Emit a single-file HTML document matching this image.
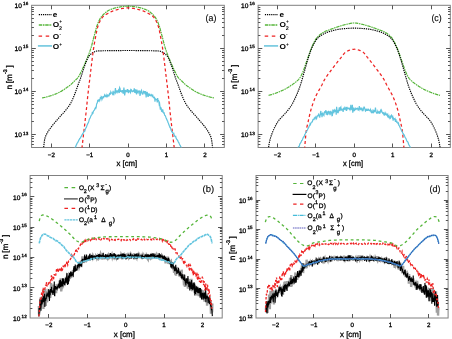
<!DOCTYPE html>
<html><head><meta charset="utf-8"><style>
html,body{margin:0;padding:0;background:#fff;width:452px;height:339px;overflow:hidden}
svg{display:block;will-change:transform}
text{-webkit-font-smoothing:antialiased;text-rendering:geometricPrecision}
</style></head><body>
<svg width="452" height="339" viewBox="0 0 452 339">
<rect width="452" height="339" fill="#fff"/>
<defs>
<clipPath id="ca"><rect x="31.6" y="5.3" width="192.70000000000002" height="142.2"/></clipPath>
<clipPath id="cc"><rect x="258.1" y="5.3" width="192.2" height="142.2"/></clipPath>
<clipPath id="cb"><rect x="30.1" y="175.5" width="192.1" height="142.5"/></clipPath>
<clipPath id="cd"><rect x="256.0" y="175.5" width="192.10000000000002" height="142.5"/></clipPath>
</defs>
<rect x="31.6" y="5.3" width="192.70" height="142.20" fill="none" stroke="#808080" stroke-width="1"/>
<line x1="51.50" y1="147.5" x2="51.50" y2="143.5" stroke="#555" stroke-width="1"/>
<line x1="51.50" y1="5.3" x2="51.50" y2="9.3" stroke="#555" stroke-width="1"/>
<line x1="89.50" y1="147.5" x2="89.50" y2="143.5" stroke="#555" stroke-width="1"/>
<line x1="89.50" y1="5.3" x2="89.50" y2="9.3" stroke="#555" stroke-width="1"/>
<line x1="128.50" y1="147.5" x2="128.50" y2="143.5" stroke="#555" stroke-width="1"/>
<line x1="128.50" y1="5.3" x2="128.50" y2="9.3" stroke="#555" stroke-width="1"/>
<line x1="166.50" y1="147.5" x2="166.50" y2="143.5" stroke="#555" stroke-width="1"/>
<line x1="166.50" y1="5.3" x2="166.50" y2="9.3" stroke="#555" stroke-width="1"/>
<line x1="204.50" y1="147.5" x2="204.50" y2="143.5" stroke="#555" stroke-width="1"/>
<line x1="204.50" y1="5.3" x2="204.50" y2="9.3" stroke="#555" stroke-width="1"/>
<line x1="31.6" y1="144.50" x2="33.9" y2="144.50" stroke="#555" stroke-width="1"/>
<line x1="224.3" y1="144.50" x2="222.0" y2="144.50" stroke="#555" stroke-width="1"/>
<line x1="31.6" y1="141.50" x2="33.9" y2="141.50" stroke="#555" stroke-width="1"/>
<line x1="224.3" y1="141.50" x2="222.0" y2="141.50" stroke="#555" stroke-width="1"/>
<line x1="31.6" y1="138.50" x2="33.9" y2="138.50" stroke="#555" stroke-width="1"/>
<line x1="224.3" y1="138.50" x2="222.0" y2="138.50" stroke="#555" stroke-width="1"/>
<line x1="31.6" y1="136.50" x2="33.9" y2="136.50" stroke="#555" stroke-width="1"/>
<line x1="224.3" y1="136.50" x2="222.0" y2="136.50" stroke="#555" stroke-width="1"/>
<line x1="31.6" y1="134.50" x2="35.800000000000004" y2="134.50" stroke="#555" stroke-width="1"/>
<line x1="224.3" y1="134.50" x2="220.10000000000002" y2="134.50" stroke="#555" stroke-width="1"/>
<line x1="31.6" y1="121.50" x2="33.9" y2="121.50" stroke="#555" stroke-width="1"/>
<line x1="224.3" y1="121.50" x2="222.0" y2="121.50" stroke="#555" stroke-width="1"/>
<line x1="31.6" y1="113.50" x2="33.9" y2="113.50" stroke="#555" stroke-width="1"/>
<line x1="224.3" y1="113.50" x2="222.0" y2="113.50" stroke="#555" stroke-width="1"/>
<line x1="31.6" y1="108.50" x2="33.9" y2="108.50" stroke="#555" stroke-width="1"/>
<line x1="224.3" y1="108.50" x2="222.0" y2="108.50" stroke="#555" stroke-width="1"/>
<line x1="31.6" y1="104.50" x2="33.9" y2="104.50" stroke="#555" stroke-width="1"/>
<line x1="224.3" y1="104.50" x2="222.0" y2="104.50" stroke="#555" stroke-width="1"/>
<line x1="31.6" y1="101.50" x2="33.9" y2="101.50" stroke="#555" stroke-width="1"/>
<line x1="224.3" y1="101.50" x2="222.0" y2="101.50" stroke="#555" stroke-width="1"/>
<line x1="31.6" y1="98.50" x2="33.9" y2="98.50" stroke="#555" stroke-width="1"/>
<line x1="224.3" y1="98.50" x2="222.0" y2="98.50" stroke="#555" stroke-width="1"/>
<line x1="31.6" y1="95.50" x2="33.9" y2="95.50" stroke="#555" stroke-width="1"/>
<line x1="224.3" y1="95.50" x2="222.0" y2="95.50" stroke="#555" stroke-width="1"/>
<line x1="31.6" y1="93.50" x2="33.9" y2="93.50" stroke="#555" stroke-width="1"/>
<line x1="224.3" y1="93.50" x2="222.0" y2="93.50" stroke="#555" stroke-width="1"/>
<line x1="31.6" y1="91.50" x2="35.800000000000004" y2="91.50" stroke="#555" stroke-width="1"/>
<line x1="224.3" y1="91.50" x2="220.10000000000002" y2="91.50" stroke="#555" stroke-width="1"/>
<line x1="31.6" y1="78.50" x2="33.9" y2="78.50" stroke="#555" stroke-width="1"/>
<line x1="224.3" y1="78.50" x2="222.0" y2="78.50" stroke="#555" stroke-width="1"/>
<line x1="31.6" y1="70.50" x2="33.9" y2="70.50" stroke="#555" stroke-width="1"/>
<line x1="224.3" y1="70.50" x2="222.0" y2="70.50" stroke="#555" stroke-width="1"/>
<line x1="31.6" y1="65.50" x2="33.9" y2="65.50" stroke="#555" stroke-width="1"/>
<line x1="224.3" y1="65.50" x2="222.0" y2="65.50" stroke="#555" stroke-width="1"/>
<line x1="31.6" y1="61.50" x2="33.9" y2="61.50" stroke="#555" stroke-width="1"/>
<line x1="224.3" y1="61.50" x2="222.0" y2="61.50" stroke="#555" stroke-width="1"/>
<line x1="31.6" y1="57.50" x2="33.9" y2="57.50" stroke="#555" stroke-width="1"/>
<line x1="224.3" y1="57.50" x2="222.0" y2="57.50" stroke="#555" stroke-width="1"/>
<line x1="31.6" y1="55.50" x2="33.9" y2="55.50" stroke="#555" stroke-width="1"/>
<line x1="224.3" y1="55.50" x2="222.0" y2="55.50" stroke="#555" stroke-width="1"/>
<line x1="31.6" y1="52.50" x2="33.9" y2="52.50" stroke="#555" stroke-width="1"/>
<line x1="224.3" y1="52.50" x2="222.0" y2="52.50" stroke="#555" stroke-width="1"/>
<line x1="31.6" y1="50.50" x2="33.9" y2="50.50" stroke="#555" stroke-width="1"/>
<line x1="224.3" y1="50.50" x2="222.0" y2="50.50" stroke="#555" stroke-width="1"/>
<line x1="31.6" y1="48.50" x2="35.800000000000004" y2="48.50" stroke="#555" stroke-width="1"/>
<line x1="224.3" y1="48.50" x2="220.10000000000002" y2="48.50" stroke="#555" stroke-width="1"/>
<line x1="31.6" y1="35.50" x2="33.9" y2="35.50" stroke="#555" stroke-width="1"/>
<line x1="224.3" y1="35.50" x2="222.0" y2="35.50" stroke="#555" stroke-width="1"/>
<line x1="31.6" y1="27.50" x2="33.9" y2="27.50" stroke="#555" stroke-width="1"/>
<line x1="224.3" y1="27.50" x2="222.0" y2="27.50" stroke="#555" stroke-width="1"/>
<line x1="31.6" y1="22.50" x2="33.9" y2="22.50" stroke="#555" stroke-width="1"/>
<line x1="224.3" y1="22.50" x2="222.0" y2="22.50" stroke="#555" stroke-width="1"/>
<line x1="31.6" y1="18.50" x2="33.9" y2="18.50" stroke="#555" stroke-width="1"/>
<line x1="224.3" y1="18.50" x2="222.0" y2="18.50" stroke="#555" stroke-width="1"/>
<line x1="31.6" y1="14.50" x2="33.9" y2="14.50" stroke="#555" stroke-width="1"/>
<line x1="224.3" y1="14.50" x2="222.0" y2="14.50" stroke="#555" stroke-width="1"/>
<line x1="31.6" y1="11.50" x2="33.9" y2="11.50" stroke="#555" stroke-width="1"/>
<line x1="224.3" y1="11.50" x2="222.0" y2="11.50" stroke="#555" stroke-width="1"/>
<line x1="31.6" y1="9.50" x2="33.9" y2="9.50" stroke="#555" stroke-width="1"/>
<line x1="224.3" y1="9.50" x2="222.0" y2="9.50" stroke="#555" stroke-width="1"/>
<line x1="31.6" y1="7.50" x2="33.9" y2="7.50" stroke="#555" stroke-width="1"/>
<line x1="224.3" y1="7.50" x2="222.0" y2="7.50" stroke="#555" stroke-width="1"/>
<text x="51.30" y="156.80" font-family="Liberation Sans, sans-serif" font-size="6.2" text-anchor="middle" stroke="#000" stroke-width="0.3">&#8722;2</text>
<text x="89.70" y="156.80" font-family="Liberation Sans, sans-serif" font-size="6.2" text-anchor="middle" stroke="#000" stroke-width="0.3">&#8722;1</text>
<text x="128.10" y="156.80" font-family="Liberation Sans, sans-serif" font-size="6.2" text-anchor="middle" stroke="#000" stroke-width="0.3">0</text>
<text x="166.50" y="156.80" font-family="Liberation Sans, sans-serif" font-size="6.2" text-anchor="middle" stroke="#000" stroke-width="0.3">1</text>
<text x="204.90" y="156.80" font-family="Liberation Sans, sans-serif" font-size="6.2" text-anchor="middle" stroke="#000" stroke-width="0.3">2</text>
<text x="21.90" y="137.04" font-family="Liberation Sans, sans-serif" font-size="6.6" text-anchor="end" stroke="#000" stroke-width="0.3">10</text>
<text x="23.10" y="134.54" font-family="Liberation Sans, sans-serif" font-size="4.6" stroke="#000" stroke-width="0.3">13</text>
<text x="21.90" y="93.96" font-family="Liberation Sans, sans-serif" font-size="6.6" text-anchor="end" stroke="#000" stroke-width="0.3">10</text>
<text x="23.10" y="91.46" font-family="Liberation Sans, sans-serif" font-size="4.6" stroke="#000" stroke-width="0.3">14</text>
<text x="21.90" y="50.88" font-family="Liberation Sans, sans-serif" font-size="6.6" text-anchor="end" stroke="#000" stroke-width="0.3">10</text>
<text x="23.10" y="48.38" font-family="Liberation Sans, sans-serif" font-size="4.6" stroke="#000" stroke-width="0.3">15</text>
<text x="21.90" y="7.80" font-family="Liberation Sans, sans-serif" font-size="6.6" text-anchor="end" stroke="#000" stroke-width="0.3">10</text>
<text x="23.10" y="5.30" font-family="Liberation Sans, sans-serif" font-size="4.6" stroke="#000" stroke-width="0.3">16</text>
<rect x="30.1" y="175.5" width="192.10" height="142.50" fill="none" stroke="#808080" stroke-width="1"/>
<line x1="48.50" y1="318.0" x2="48.50" y2="314.0" stroke="#555" stroke-width="1"/>
<line x1="48.50" y1="175.5" x2="48.50" y2="179.5" stroke="#555" stroke-width="1"/>
<line x1="87.50" y1="318.0" x2="87.50" y2="314.0" stroke="#555" stroke-width="1"/>
<line x1="87.50" y1="175.5" x2="87.50" y2="179.5" stroke="#555" stroke-width="1"/>
<line x1="125.50" y1="318.0" x2="125.50" y2="314.0" stroke="#555" stroke-width="1"/>
<line x1="125.50" y1="175.5" x2="125.50" y2="179.5" stroke="#555" stroke-width="1"/>
<line x1="164.50" y1="318.0" x2="164.50" y2="314.0" stroke="#555" stroke-width="1"/>
<line x1="164.50" y1="175.5" x2="164.50" y2="179.5" stroke="#555" stroke-width="1"/>
<line x1="202.50" y1="318.0" x2="202.50" y2="314.0" stroke="#555" stroke-width="1"/>
<line x1="202.50" y1="175.5" x2="202.50" y2="179.5" stroke="#555" stroke-width="1"/>
<line x1="30.1" y1="308.50" x2="32.4" y2="308.50" stroke="#555" stroke-width="1"/>
<line x1="222.2" y1="308.50" x2="219.89999999999998" y2="308.50" stroke="#555" stroke-width="1"/>
<line x1="30.1" y1="303.50" x2="32.4" y2="303.50" stroke="#555" stroke-width="1"/>
<line x1="222.2" y1="303.50" x2="219.89999999999998" y2="303.50" stroke="#555" stroke-width="1"/>
<line x1="30.1" y1="299.50" x2="32.4" y2="299.50" stroke="#555" stroke-width="1"/>
<line x1="222.2" y1="299.50" x2="219.89999999999998" y2="299.50" stroke="#555" stroke-width="1"/>
<line x1="30.1" y1="296.50" x2="32.4" y2="296.50" stroke="#555" stroke-width="1"/>
<line x1="222.2" y1="296.50" x2="219.89999999999998" y2="296.50" stroke="#555" stroke-width="1"/>
<line x1="30.1" y1="294.50" x2="32.4" y2="294.50" stroke="#555" stroke-width="1"/>
<line x1="222.2" y1="294.50" x2="219.89999999999998" y2="294.50" stroke="#555" stroke-width="1"/>
<line x1="30.1" y1="292.50" x2="32.4" y2="292.50" stroke="#555" stroke-width="1"/>
<line x1="222.2" y1="292.50" x2="219.89999999999998" y2="292.50" stroke="#555" stroke-width="1"/>
<line x1="30.1" y1="290.50" x2="32.4" y2="290.50" stroke="#555" stroke-width="1"/>
<line x1="222.2" y1="290.50" x2="219.89999999999998" y2="290.50" stroke="#555" stroke-width="1"/>
<line x1="30.1" y1="289.50" x2="32.4" y2="289.50" stroke="#555" stroke-width="1"/>
<line x1="222.2" y1="289.50" x2="219.89999999999998" y2="289.50" stroke="#555" stroke-width="1"/>
<line x1="30.1" y1="287.50" x2="34.300000000000004" y2="287.50" stroke="#555" stroke-width="1"/>
<line x1="222.2" y1="287.50" x2="218.0" y2="287.50" stroke="#555" stroke-width="1"/>
<line x1="30.1" y1="278.50" x2="32.4" y2="278.50" stroke="#555" stroke-width="1"/>
<line x1="222.2" y1="278.50" x2="219.89999999999998" y2="278.50" stroke="#555" stroke-width="1"/>
<line x1="30.1" y1="273.50" x2="32.4" y2="273.50" stroke="#555" stroke-width="1"/>
<line x1="222.2" y1="273.50" x2="219.89999999999998" y2="273.50" stroke="#555" stroke-width="1"/>
<line x1="30.1" y1="269.50" x2="32.4" y2="269.50" stroke="#555" stroke-width="1"/>
<line x1="222.2" y1="269.50" x2="219.89999999999998" y2="269.50" stroke="#555" stroke-width="1"/>
<line x1="30.1" y1="266.50" x2="32.4" y2="266.50" stroke="#555" stroke-width="1"/>
<line x1="222.2" y1="266.50" x2="219.89999999999998" y2="266.50" stroke="#555" stroke-width="1"/>
<line x1="30.1" y1="264.50" x2="32.4" y2="264.50" stroke="#555" stroke-width="1"/>
<line x1="222.2" y1="264.50" x2="219.89999999999998" y2="264.50" stroke="#555" stroke-width="1"/>
<line x1="30.1" y1="262.50" x2="32.4" y2="262.50" stroke="#555" stroke-width="1"/>
<line x1="222.2" y1="262.50" x2="219.89999999999998" y2="262.50" stroke="#555" stroke-width="1"/>
<line x1="30.1" y1="260.50" x2="32.4" y2="260.50" stroke="#555" stroke-width="1"/>
<line x1="222.2" y1="260.50" x2="219.89999999999998" y2="260.50" stroke="#555" stroke-width="1"/>
<line x1="30.1" y1="258.50" x2="32.4" y2="258.50" stroke="#555" stroke-width="1"/>
<line x1="222.2" y1="258.50" x2="219.89999999999998" y2="258.50" stroke="#555" stroke-width="1"/>
<line x1="30.1" y1="257.50" x2="34.300000000000004" y2="257.50" stroke="#555" stroke-width="1"/>
<line x1="222.2" y1="257.50" x2="218.0" y2="257.50" stroke="#555" stroke-width="1"/>
<line x1="30.1" y1="248.50" x2="32.4" y2="248.50" stroke="#555" stroke-width="1"/>
<line x1="222.2" y1="248.50" x2="219.89999999999998" y2="248.50" stroke="#555" stroke-width="1"/>
<line x1="30.1" y1="242.50" x2="32.4" y2="242.50" stroke="#555" stroke-width="1"/>
<line x1="222.2" y1="242.50" x2="219.89999999999998" y2="242.50" stroke="#555" stroke-width="1"/>
<line x1="30.1" y1="239.50" x2="32.4" y2="239.50" stroke="#555" stroke-width="1"/>
<line x1="222.2" y1="239.50" x2="219.89999999999998" y2="239.50" stroke="#555" stroke-width="1"/>
<line x1="30.1" y1="236.50" x2="32.4" y2="236.50" stroke="#555" stroke-width="1"/>
<line x1="222.2" y1="236.50" x2="219.89999999999998" y2="236.50" stroke="#555" stroke-width="1"/>
<line x1="30.1" y1="233.50" x2="32.4" y2="233.50" stroke="#555" stroke-width="1"/>
<line x1="222.2" y1="233.50" x2="219.89999999999998" y2="233.50" stroke="#555" stroke-width="1"/>
<line x1="30.1" y1="231.50" x2="32.4" y2="231.50" stroke="#555" stroke-width="1"/>
<line x1="222.2" y1="231.50" x2="219.89999999999998" y2="231.50" stroke="#555" stroke-width="1"/>
<line x1="30.1" y1="230.50" x2="32.4" y2="230.50" stroke="#555" stroke-width="1"/>
<line x1="222.2" y1="230.50" x2="219.89999999999998" y2="230.50" stroke="#555" stroke-width="1"/>
<line x1="30.1" y1="228.50" x2="32.4" y2="228.50" stroke="#555" stroke-width="1"/>
<line x1="222.2" y1="228.50" x2="219.89999999999998" y2="228.50" stroke="#555" stroke-width="1"/>
<line x1="30.1" y1="227.50" x2="34.300000000000004" y2="227.50" stroke="#555" stroke-width="1"/>
<line x1="222.2" y1="227.50" x2="218.0" y2="227.50" stroke="#555" stroke-width="1"/>
<line x1="30.1" y1="217.50" x2="32.4" y2="217.50" stroke="#555" stroke-width="1"/>
<line x1="222.2" y1="217.50" x2="219.89999999999998" y2="217.50" stroke="#555" stroke-width="1"/>
<line x1="30.1" y1="212.50" x2="32.4" y2="212.50" stroke="#555" stroke-width="1"/>
<line x1="222.2" y1="212.50" x2="219.89999999999998" y2="212.50" stroke="#555" stroke-width="1"/>
<line x1="30.1" y1="208.50" x2="32.4" y2="208.50" stroke="#555" stroke-width="1"/>
<line x1="222.2" y1="208.50" x2="219.89999999999998" y2="208.50" stroke="#555" stroke-width="1"/>
<line x1="30.1" y1="205.50" x2="32.4" y2="205.50" stroke="#555" stroke-width="1"/>
<line x1="222.2" y1="205.50" x2="219.89999999999998" y2="205.50" stroke="#555" stroke-width="1"/>
<line x1="30.1" y1="203.50" x2="32.4" y2="203.50" stroke="#555" stroke-width="1"/>
<line x1="222.2" y1="203.50" x2="219.89999999999998" y2="203.50" stroke="#555" stroke-width="1"/>
<line x1="30.1" y1="201.50" x2="32.4" y2="201.50" stroke="#555" stroke-width="1"/>
<line x1="222.2" y1="201.50" x2="219.89999999999998" y2="201.50" stroke="#555" stroke-width="1"/>
<line x1="30.1" y1="199.50" x2="32.4" y2="199.50" stroke="#555" stroke-width="1"/>
<line x1="222.2" y1="199.50" x2="219.89999999999998" y2="199.50" stroke="#555" stroke-width="1"/>
<line x1="30.1" y1="198.50" x2="32.4" y2="198.50" stroke="#555" stroke-width="1"/>
<line x1="222.2" y1="198.50" x2="219.89999999999998" y2="198.50" stroke="#555" stroke-width="1"/>
<line x1="30.1" y1="196.50" x2="34.300000000000004" y2="196.50" stroke="#555" stroke-width="1"/>
<line x1="222.2" y1="196.50" x2="218.0" y2="196.50" stroke="#555" stroke-width="1"/>
<line x1="30.1" y1="187.50" x2="32.4" y2="187.50" stroke="#555" stroke-width="1"/>
<line x1="222.2" y1="187.50" x2="219.89999999999998" y2="187.50" stroke="#555" stroke-width="1"/>
<line x1="30.1" y1="182.50" x2="32.4" y2="182.50" stroke="#555" stroke-width="1"/>
<line x1="222.2" y1="182.50" x2="219.89999999999998" y2="182.50" stroke="#555" stroke-width="1"/>
<line x1="30.1" y1="178.50" x2="32.4" y2="178.50" stroke="#555" stroke-width="1"/>
<line x1="222.2" y1="178.50" x2="219.89999999999998" y2="178.50" stroke="#555" stroke-width="1"/>
<text x="48.85" y="326.90" font-family="Liberation Sans, sans-serif" font-size="6.2" text-anchor="middle" stroke="#000" stroke-width="0.3">&#8722;2</text>
<text x="87.25" y="326.90" font-family="Liberation Sans, sans-serif" font-size="6.2" text-anchor="middle" stroke="#000" stroke-width="0.3">&#8722;1</text>
<text x="125.65" y="326.90" font-family="Liberation Sans, sans-serif" font-size="6.2" text-anchor="middle" stroke="#000" stroke-width="0.3">0</text>
<text x="164.05" y="326.90" font-family="Liberation Sans, sans-serif" font-size="6.2" text-anchor="middle" stroke="#000" stroke-width="0.3">1</text>
<text x="202.45" y="326.90" font-family="Liberation Sans, sans-serif" font-size="6.2" text-anchor="middle" stroke="#000" stroke-width="0.3">2</text>
<text x="20.40" y="321.00" font-family="Liberation Sans, sans-serif" font-size="6.6" text-anchor="end" stroke="#000" stroke-width="0.3">10</text>
<text x="21.60" y="317.50" font-family="Liberation Sans, sans-serif" font-size="4.6" stroke="#000" stroke-width="0.3">12</text>
<text x="20.40" y="290.70" font-family="Liberation Sans, sans-serif" font-size="6.6" text-anchor="end" stroke="#000" stroke-width="0.3">10</text>
<text x="21.60" y="287.20" font-family="Liberation Sans, sans-serif" font-size="4.6" stroke="#000" stroke-width="0.3">13</text>
<text x="20.40" y="260.40" font-family="Liberation Sans, sans-serif" font-size="6.6" text-anchor="end" stroke="#000" stroke-width="0.3">10</text>
<text x="21.60" y="256.90" font-family="Liberation Sans, sans-serif" font-size="4.6" stroke="#000" stroke-width="0.3">14</text>
<text x="20.40" y="230.10" font-family="Liberation Sans, sans-serif" font-size="6.6" text-anchor="end" stroke="#000" stroke-width="0.3">10</text>
<text x="21.60" y="226.60" font-family="Liberation Sans, sans-serif" font-size="4.6" stroke="#000" stroke-width="0.3">15</text>
<text x="20.40" y="199.80" font-family="Liberation Sans, sans-serif" font-size="6.6" text-anchor="end" stroke="#000" stroke-width="0.3">10</text>
<text x="21.60" y="196.30" font-family="Liberation Sans, sans-serif" font-size="4.6" stroke="#000" stroke-width="0.3">16</text>
<rect x="258.1" y="5.3" width="192.20" height="142.20" fill="none" stroke="#808080" stroke-width="1"/>
<line x1="277.50" y1="147.5" x2="277.50" y2="143.5" stroke="#555" stroke-width="1"/>
<line x1="277.50" y1="5.3" x2="277.50" y2="9.3" stroke="#555" stroke-width="1"/>
<line x1="315.50" y1="147.5" x2="315.50" y2="143.5" stroke="#555" stroke-width="1"/>
<line x1="315.50" y1="5.3" x2="315.50" y2="9.3" stroke="#555" stroke-width="1"/>
<line x1="354.50" y1="147.5" x2="354.50" y2="143.5" stroke="#555" stroke-width="1"/>
<line x1="354.50" y1="5.3" x2="354.50" y2="9.3" stroke="#555" stroke-width="1"/>
<line x1="392.50" y1="147.5" x2="392.50" y2="143.5" stroke="#555" stroke-width="1"/>
<line x1="392.50" y1="5.3" x2="392.50" y2="9.3" stroke="#555" stroke-width="1"/>
<line x1="431.50" y1="147.5" x2="431.50" y2="143.5" stroke="#555" stroke-width="1"/>
<line x1="431.50" y1="5.3" x2="431.50" y2="9.3" stroke="#555" stroke-width="1"/>
<line x1="258.1" y1="144.50" x2="260.40000000000003" y2="144.50" stroke="#555" stroke-width="1"/>
<line x1="450.3" y1="144.50" x2="448.0" y2="144.50" stroke="#555" stroke-width="1"/>
<line x1="258.1" y1="141.50" x2="260.40000000000003" y2="141.50" stroke="#555" stroke-width="1"/>
<line x1="450.3" y1="141.50" x2="448.0" y2="141.50" stroke="#555" stroke-width="1"/>
<line x1="258.1" y1="138.50" x2="260.40000000000003" y2="138.50" stroke="#555" stroke-width="1"/>
<line x1="450.3" y1="138.50" x2="448.0" y2="138.50" stroke="#555" stroke-width="1"/>
<line x1="258.1" y1="136.50" x2="260.40000000000003" y2="136.50" stroke="#555" stroke-width="1"/>
<line x1="450.3" y1="136.50" x2="448.0" y2="136.50" stroke="#555" stroke-width="1"/>
<line x1="258.1" y1="134.50" x2="262.3" y2="134.50" stroke="#555" stroke-width="1"/>
<line x1="450.3" y1="134.50" x2="446.1" y2="134.50" stroke="#555" stroke-width="1"/>
<line x1="258.1" y1="121.50" x2="260.40000000000003" y2="121.50" stroke="#555" stroke-width="1"/>
<line x1="450.3" y1="121.50" x2="448.0" y2="121.50" stroke="#555" stroke-width="1"/>
<line x1="258.1" y1="113.50" x2="260.40000000000003" y2="113.50" stroke="#555" stroke-width="1"/>
<line x1="450.3" y1="113.50" x2="448.0" y2="113.50" stroke="#555" stroke-width="1"/>
<line x1="258.1" y1="108.50" x2="260.40000000000003" y2="108.50" stroke="#555" stroke-width="1"/>
<line x1="450.3" y1="108.50" x2="448.0" y2="108.50" stroke="#555" stroke-width="1"/>
<line x1="258.1" y1="104.50" x2="260.40000000000003" y2="104.50" stroke="#555" stroke-width="1"/>
<line x1="450.3" y1="104.50" x2="448.0" y2="104.50" stroke="#555" stroke-width="1"/>
<line x1="258.1" y1="101.50" x2="260.40000000000003" y2="101.50" stroke="#555" stroke-width="1"/>
<line x1="450.3" y1="101.50" x2="448.0" y2="101.50" stroke="#555" stroke-width="1"/>
<line x1="258.1" y1="98.50" x2="260.40000000000003" y2="98.50" stroke="#555" stroke-width="1"/>
<line x1="450.3" y1="98.50" x2="448.0" y2="98.50" stroke="#555" stroke-width="1"/>
<line x1="258.1" y1="95.50" x2="260.40000000000003" y2="95.50" stroke="#555" stroke-width="1"/>
<line x1="450.3" y1="95.50" x2="448.0" y2="95.50" stroke="#555" stroke-width="1"/>
<line x1="258.1" y1="93.50" x2="260.40000000000003" y2="93.50" stroke="#555" stroke-width="1"/>
<line x1="450.3" y1="93.50" x2="448.0" y2="93.50" stroke="#555" stroke-width="1"/>
<line x1="258.1" y1="91.50" x2="262.3" y2="91.50" stroke="#555" stroke-width="1"/>
<line x1="450.3" y1="91.50" x2="446.1" y2="91.50" stroke="#555" stroke-width="1"/>
<line x1="258.1" y1="78.50" x2="260.40000000000003" y2="78.50" stroke="#555" stroke-width="1"/>
<line x1="450.3" y1="78.50" x2="448.0" y2="78.50" stroke="#555" stroke-width="1"/>
<line x1="258.1" y1="70.50" x2="260.40000000000003" y2="70.50" stroke="#555" stroke-width="1"/>
<line x1="450.3" y1="70.50" x2="448.0" y2="70.50" stroke="#555" stroke-width="1"/>
<line x1="258.1" y1="65.50" x2="260.40000000000003" y2="65.50" stroke="#555" stroke-width="1"/>
<line x1="450.3" y1="65.50" x2="448.0" y2="65.50" stroke="#555" stroke-width="1"/>
<line x1="258.1" y1="61.50" x2="260.40000000000003" y2="61.50" stroke="#555" stroke-width="1"/>
<line x1="450.3" y1="61.50" x2="448.0" y2="61.50" stroke="#555" stroke-width="1"/>
<line x1="258.1" y1="57.50" x2="260.40000000000003" y2="57.50" stroke="#555" stroke-width="1"/>
<line x1="450.3" y1="57.50" x2="448.0" y2="57.50" stroke="#555" stroke-width="1"/>
<line x1="258.1" y1="55.50" x2="260.40000000000003" y2="55.50" stroke="#555" stroke-width="1"/>
<line x1="450.3" y1="55.50" x2="448.0" y2="55.50" stroke="#555" stroke-width="1"/>
<line x1="258.1" y1="52.50" x2="260.40000000000003" y2="52.50" stroke="#555" stroke-width="1"/>
<line x1="450.3" y1="52.50" x2="448.0" y2="52.50" stroke="#555" stroke-width="1"/>
<line x1="258.1" y1="50.50" x2="260.40000000000003" y2="50.50" stroke="#555" stroke-width="1"/>
<line x1="450.3" y1="50.50" x2="448.0" y2="50.50" stroke="#555" stroke-width="1"/>
<line x1="258.1" y1="48.50" x2="262.3" y2="48.50" stroke="#555" stroke-width="1"/>
<line x1="450.3" y1="48.50" x2="446.1" y2="48.50" stroke="#555" stroke-width="1"/>
<line x1="258.1" y1="35.50" x2="260.40000000000003" y2="35.50" stroke="#555" stroke-width="1"/>
<line x1="450.3" y1="35.50" x2="448.0" y2="35.50" stroke="#555" stroke-width="1"/>
<line x1="258.1" y1="27.50" x2="260.40000000000003" y2="27.50" stroke="#555" stroke-width="1"/>
<line x1="450.3" y1="27.50" x2="448.0" y2="27.50" stroke="#555" stroke-width="1"/>
<line x1="258.1" y1="22.50" x2="260.40000000000003" y2="22.50" stroke="#555" stroke-width="1"/>
<line x1="450.3" y1="22.50" x2="448.0" y2="22.50" stroke="#555" stroke-width="1"/>
<line x1="258.1" y1="18.50" x2="260.40000000000003" y2="18.50" stroke="#555" stroke-width="1"/>
<line x1="450.3" y1="18.50" x2="448.0" y2="18.50" stroke="#555" stroke-width="1"/>
<line x1="258.1" y1="14.50" x2="260.40000000000003" y2="14.50" stroke="#555" stroke-width="1"/>
<line x1="450.3" y1="14.50" x2="448.0" y2="14.50" stroke="#555" stroke-width="1"/>
<line x1="258.1" y1="11.50" x2="260.40000000000003" y2="11.50" stroke="#555" stroke-width="1"/>
<line x1="450.3" y1="11.50" x2="448.0" y2="11.50" stroke="#555" stroke-width="1"/>
<line x1="258.1" y1="9.50" x2="260.40000000000003" y2="9.50" stroke="#555" stroke-width="1"/>
<line x1="450.3" y1="9.50" x2="448.0" y2="9.50" stroke="#555" stroke-width="1"/>
<line x1="258.1" y1="7.50" x2="260.40000000000003" y2="7.50" stroke="#555" stroke-width="1"/>
<line x1="450.3" y1="7.50" x2="448.0" y2="7.50" stroke="#555" stroke-width="1"/>
<text x="277.40" y="156.80" font-family="Liberation Sans, sans-serif" font-size="6.2" text-anchor="middle" stroke="#000" stroke-width="0.3">&#8722;2</text>
<text x="315.85" y="156.80" font-family="Liberation Sans, sans-serif" font-size="6.2" text-anchor="middle" stroke="#000" stroke-width="0.3">&#8722;1</text>
<text x="354.30" y="156.80" font-family="Liberation Sans, sans-serif" font-size="6.2" text-anchor="middle" stroke="#000" stroke-width="0.3">0</text>
<text x="392.75" y="156.80" font-family="Liberation Sans, sans-serif" font-size="6.2" text-anchor="middle" stroke="#000" stroke-width="0.3">1</text>
<text x="431.20" y="156.80" font-family="Liberation Sans, sans-serif" font-size="6.2" text-anchor="middle" stroke="#000" stroke-width="0.3">2</text>
<text x="248.40" y="137.04" font-family="Liberation Sans, sans-serif" font-size="6.6" text-anchor="end" stroke="#000" stroke-width="0.3">10</text>
<text x="249.60" y="134.54" font-family="Liberation Sans, sans-serif" font-size="4.6" stroke="#000" stroke-width="0.3">13</text>
<text x="248.40" y="93.96" font-family="Liberation Sans, sans-serif" font-size="6.6" text-anchor="end" stroke="#000" stroke-width="0.3">10</text>
<text x="249.60" y="91.46" font-family="Liberation Sans, sans-serif" font-size="4.6" stroke="#000" stroke-width="0.3">14</text>
<text x="248.40" y="50.88" font-family="Liberation Sans, sans-serif" font-size="6.6" text-anchor="end" stroke="#000" stroke-width="0.3">10</text>
<text x="249.60" y="48.38" font-family="Liberation Sans, sans-serif" font-size="4.6" stroke="#000" stroke-width="0.3">15</text>
<text x="248.40" y="7.80" font-family="Liberation Sans, sans-serif" font-size="6.6" text-anchor="end" stroke="#000" stroke-width="0.3">10</text>
<text x="249.60" y="5.30" font-family="Liberation Sans, sans-serif" font-size="4.6" stroke="#000" stroke-width="0.3">16</text>
<rect x="256.0" y="175.5" width="192.10" height="142.50" fill="none" stroke="#808080" stroke-width="1"/>
<line x1="275.50" y1="318.0" x2="275.50" y2="314.0" stroke="#555" stroke-width="1"/>
<line x1="275.50" y1="175.5" x2="275.50" y2="179.5" stroke="#555" stroke-width="1"/>
<line x1="313.50" y1="318.0" x2="313.50" y2="314.0" stroke="#555" stroke-width="1"/>
<line x1="313.50" y1="175.5" x2="313.50" y2="179.5" stroke="#555" stroke-width="1"/>
<line x1="352.50" y1="318.0" x2="352.50" y2="314.0" stroke="#555" stroke-width="1"/>
<line x1="352.50" y1="175.5" x2="352.50" y2="179.5" stroke="#555" stroke-width="1"/>
<line x1="390.50" y1="318.0" x2="390.50" y2="314.0" stroke="#555" stroke-width="1"/>
<line x1="390.50" y1="175.5" x2="390.50" y2="179.5" stroke="#555" stroke-width="1"/>
<line x1="428.50" y1="318.0" x2="428.50" y2="314.0" stroke="#555" stroke-width="1"/>
<line x1="428.50" y1="175.5" x2="428.50" y2="179.5" stroke="#555" stroke-width="1"/>
<line x1="256.0" y1="309.50" x2="258.3" y2="309.50" stroke="#555" stroke-width="1"/>
<line x1="448.1" y1="309.50" x2="445.8" y2="309.50" stroke="#555" stroke-width="1"/>
<line x1="256.0" y1="303.50" x2="258.3" y2="303.50" stroke="#555" stroke-width="1"/>
<line x1="448.1" y1="303.50" x2="445.8" y2="303.50" stroke="#555" stroke-width="1"/>
<line x1="256.0" y1="300.50" x2="258.3" y2="300.50" stroke="#555" stroke-width="1"/>
<line x1="448.1" y1="300.50" x2="445.8" y2="300.50" stroke="#555" stroke-width="1"/>
<line x1="256.0" y1="297.50" x2="258.3" y2="297.50" stroke="#555" stroke-width="1"/>
<line x1="448.1" y1="297.50" x2="445.8" y2="297.50" stroke="#555" stroke-width="1"/>
<line x1="256.0" y1="295.50" x2="258.3" y2="295.50" stroke="#555" stroke-width="1"/>
<line x1="448.1" y1="295.50" x2="445.8" y2="295.50" stroke="#555" stroke-width="1"/>
<line x1="256.0" y1="293.50" x2="258.3" y2="293.50" stroke="#555" stroke-width="1"/>
<line x1="448.1" y1="293.50" x2="445.8" y2="293.50" stroke="#555" stroke-width="1"/>
<line x1="256.0" y1="291.50" x2="258.3" y2="291.50" stroke="#555" stroke-width="1"/>
<line x1="448.1" y1="291.50" x2="445.8" y2="291.50" stroke="#555" stroke-width="1"/>
<line x1="256.0" y1="289.50" x2="258.3" y2="289.50" stroke="#555" stroke-width="1"/>
<line x1="448.1" y1="289.50" x2="445.8" y2="289.50" stroke="#555" stroke-width="1"/>
<line x1="256.0" y1="288.50" x2="260.2" y2="288.50" stroke="#555" stroke-width="1"/>
<line x1="448.1" y1="288.50" x2="443.90000000000003" y2="288.50" stroke="#555" stroke-width="1"/>
<line x1="256.0" y1="279.50" x2="258.3" y2="279.50" stroke="#555" stroke-width="1"/>
<line x1="448.1" y1="279.50" x2="445.8" y2="279.50" stroke="#555" stroke-width="1"/>
<line x1="256.0" y1="274.50" x2="258.3" y2="274.50" stroke="#555" stroke-width="1"/>
<line x1="448.1" y1="274.50" x2="445.8" y2="274.50" stroke="#555" stroke-width="1"/>
<line x1="256.0" y1="270.50" x2="258.3" y2="270.50" stroke="#555" stroke-width="1"/>
<line x1="448.1" y1="270.50" x2="445.8" y2="270.50" stroke="#555" stroke-width="1"/>
<line x1="256.0" y1="267.50" x2="258.3" y2="267.50" stroke="#555" stroke-width="1"/>
<line x1="448.1" y1="267.50" x2="445.8" y2="267.50" stroke="#555" stroke-width="1"/>
<line x1="256.0" y1="265.50" x2="258.3" y2="265.50" stroke="#555" stroke-width="1"/>
<line x1="448.1" y1="265.50" x2="445.8" y2="265.50" stroke="#555" stroke-width="1"/>
<line x1="256.0" y1="263.50" x2="258.3" y2="263.50" stroke="#555" stroke-width="1"/>
<line x1="448.1" y1="263.50" x2="445.8" y2="263.50" stroke="#555" stroke-width="1"/>
<line x1="256.0" y1="261.50" x2="258.3" y2="261.50" stroke="#555" stroke-width="1"/>
<line x1="448.1" y1="261.50" x2="445.8" y2="261.50" stroke="#555" stroke-width="1"/>
<line x1="256.0" y1="260.50" x2="258.3" y2="260.50" stroke="#555" stroke-width="1"/>
<line x1="448.1" y1="260.50" x2="445.8" y2="260.50" stroke="#555" stroke-width="1"/>
<line x1="256.0" y1="259.50" x2="260.2" y2="259.50" stroke="#555" stroke-width="1"/>
<line x1="448.1" y1="259.50" x2="443.90000000000003" y2="259.50" stroke="#555" stroke-width="1"/>
<line x1="256.0" y1="250.50" x2="258.3" y2="250.50" stroke="#555" stroke-width="1"/>
<line x1="448.1" y1="250.50" x2="445.8" y2="250.50" stroke="#555" stroke-width="1"/>
<line x1="256.0" y1="244.50" x2="258.3" y2="244.50" stroke="#555" stroke-width="1"/>
<line x1="448.1" y1="244.50" x2="445.8" y2="244.50" stroke="#555" stroke-width="1"/>
<line x1="256.0" y1="241.50" x2="258.3" y2="241.50" stroke="#555" stroke-width="1"/>
<line x1="448.1" y1="241.50" x2="445.8" y2="241.50" stroke="#555" stroke-width="1"/>
<line x1="256.0" y1="238.50" x2="258.3" y2="238.50" stroke="#555" stroke-width="1"/>
<line x1="448.1" y1="238.50" x2="445.8" y2="238.50" stroke="#555" stroke-width="1"/>
<line x1="256.0" y1="236.50" x2="258.3" y2="236.50" stroke="#555" stroke-width="1"/>
<line x1="448.1" y1="236.50" x2="445.8" y2="236.50" stroke="#555" stroke-width="1"/>
<line x1="256.0" y1="234.50" x2="258.3" y2="234.50" stroke="#555" stroke-width="1"/>
<line x1="448.1" y1="234.50" x2="445.8" y2="234.50" stroke="#555" stroke-width="1"/>
<line x1="256.0" y1="232.50" x2="258.3" y2="232.50" stroke="#555" stroke-width="1"/>
<line x1="448.1" y1="232.50" x2="445.8" y2="232.50" stroke="#555" stroke-width="1"/>
<line x1="256.0" y1="230.50" x2="258.3" y2="230.50" stroke="#555" stroke-width="1"/>
<line x1="448.1" y1="230.50" x2="445.8" y2="230.50" stroke="#555" stroke-width="1"/>
<line x1="256.0" y1="229.50" x2="260.2" y2="229.50" stroke="#555" stroke-width="1"/>
<line x1="448.1" y1="229.50" x2="443.90000000000003" y2="229.50" stroke="#555" stroke-width="1"/>
<line x1="256.0" y1="220.50" x2="258.3" y2="220.50" stroke="#555" stroke-width="1"/>
<line x1="448.1" y1="220.50" x2="445.8" y2="220.50" stroke="#555" stroke-width="1"/>
<line x1="256.0" y1="215.50" x2="258.3" y2="215.50" stroke="#555" stroke-width="1"/>
<line x1="448.1" y1="215.50" x2="445.8" y2="215.50" stroke="#555" stroke-width="1"/>
<line x1="256.0" y1="211.50" x2="258.3" y2="211.50" stroke="#555" stroke-width="1"/>
<line x1="448.1" y1="211.50" x2="445.8" y2="211.50" stroke="#555" stroke-width="1"/>
<line x1="256.0" y1="208.50" x2="258.3" y2="208.50" stroke="#555" stroke-width="1"/>
<line x1="448.1" y1="208.50" x2="445.8" y2="208.50" stroke="#555" stroke-width="1"/>
<line x1="256.0" y1="206.50" x2="258.3" y2="206.50" stroke="#555" stroke-width="1"/>
<line x1="448.1" y1="206.50" x2="445.8" y2="206.50" stroke="#555" stroke-width="1"/>
<line x1="256.0" y1="204.50" x2="258.3" y2="204.50" stroke="#555" stroke-width="1"/>
<line x1="448.1" y1="204.50" x2="445.8" y2="204.50" stroke="#555" stroke-width="1"/>
<line x1="256.0" y1="202.50" x2="258.3" y2="202.50" stroke="#555" stroke-width="1"/>
<line x1="448.1" y1="202.50" x2="445.8" y2="202.50" stroke="#555" stroke-width="1"/>
<line x1="256.0" y1="201.50" x2="258.3" y2="201.50" stroke="#555" stroke-width="1"/>
<line x1="448.1" y1="201.50" x2="445.8" y2="201.50" stroke="#555" stroke-width="1"/>
<line x1="256.0" y1="200.50" x2="260.2" y2="200.50" stroke="#555" stroke-width="1"/>
<line x1="448.1" y1="200.50" x2="443.90000000000003" y2="200.50" stroke="#555" stroke-width="1"/>
<line x1="256.0" y1="191.50" x2="258.3" y2="191.50" stroke="#555" stroke-width="1"/>
<line x1="448.1" y1="191.50" x2="445.8" y2="191.50" stroke="#555" stroke-width="1"/>
<line x1="256.0" y1="185.50" x2="258.3" y2="185.50" stroke="#555" stroke-width="1"/>
<line x1="448.1" y1="185.50" x2="445.8" y2="185.50" stroke="#555" stroke-width="1"/>
<line x1="256.0" y1="182.50" x2="258.3" y2="182.50" stroke="#555" stroke-width="1"/>
<line x1="448.1" y1="182.50" x2="445.8" y2="182.50" stroke="#555" stroke-width="1"/>
<line x1="256.0" y1="179.50" x2="258.3" y2="179.50" stroke="#555" stroke-width="1"/>
<line x1="448.1" y1="179.50" x2="445.8" y2="179.50" stroke="#555" stroke-width="1"/>
<line x1="256.0" y1="177.50" x2="258.3" y2="177.50" stroke="#555" stroke-width="1"/>
<line x1="448.1" y1="177.50" x2="445.8" y2="177.50" stroke="#555" stroke-width="1"/>
<text x="275.65" y="326.90" font-family="Liberation Sans, sans-serif" font-size="6.2" text-anchor="middle" stroke="#000" stroke-width="0.3">&#8722;2</text>
<text x="313.95" y="326.90" font-family="Liberation Sans, sans-serif" font-size="6.2" text-anchor="middle" stroke="#000" stroke-width="0.3">&#8722;1</text>
<text x="352.25" y="326.90" font-family="Liberation Sans, sans-serif" font-size="6.2" text-anchor="middle" stroke="#000" stroke-width="0.3">0</text>
<text x="390.55" y="326.90" font-family="Liberation Sans, sans-serif" font-size="6.2" text-anchor="middle" stroke="#000" stroke-width="0.3">1</text>
<text x="428.85" y="326.90" font-family="Liberation Sans, sans-serif" font-size="6.2" text-anchor="middle" stroke="#000" stroke-width="0.3">2</text>
<text x="246.30" y="321.00" font-family="Liberation Sans, sans-serif" font-size="6.6" text-anchor="end" stroke="#000" stroke-width="0.3">10</text>
<text x="247.50" y="317.50" font-family="Liberation Sans, sans-serif" font-size="4.6" stroke="#000" stroke-width="0.3">12</text>
<text x="246.30" y="291.50" font-family="Liberation Sans, sans-serif" font-size="6.6" text-anchor="end" stroke="#000" stroke-width="0.3">10</text>
<text x="247.50" y="288.00" font-family="Liberation Sans, sans-serif" font-size="4.6" stroke="#000" stroke-width="0.3">13</text>
<text x="246.30" y="262.00" font-family="Liberation Sans, sans-serif" font-size="6.6" text-anchor="end" stroke="#000" stroke-width="0.3">10</text>
<text x="247.50" y="258.50" font-family="Liberation Sans, sans-serif" font-size="4.6" stroke="#000" stroke-width="0.3">14</text>
<text x="246.30" y="232.50" font-family="Liberation Sans, sans-serif" font-size="6.6" text-anchor="end" stroke="#000" stroke-width="0.3">10</text>
<text x="247.50" y="229.00" font-family="Liberation Sans, sans-serif" font-size="4.6" stroke="#000" stroke-width="0.3">15</text>
<text x="246.30" y="203.00" font-family="Liberation Sans, sans-serif" font-size="6.6" text-anchor="end" stroke="#000" stroke-width="0.3">10</text>
<text x="247.50" y="199.50" font-family="Liberation Sans, sans-serif" font-size="4.6" stroke="#000" stroke-width="0.3">16</text>
<path d="M42.08,97.92L42.52,97.85L42.95,97.77L43.38,97.69L43.81,97.60L44.24,97.51L44.67,97.42L45.10,97.32L45.53,97.21L45.96,97.11L46.40,97.00L46.83,96.89L47.26,96.77L47.69,96.65L48.12,96.53L48.55,96.40L48.98,96.28L49.41,96.15L49.84,96.01L50.28,95.88L50.71,95.74L51.14,95.60L51.57,95.46L52.00,95.32L52.43,95.17L52.86,95.03L53.29,94.88L53.73,94.73L54.16,94.57L54.59,94.41L55.02,94.24L55.45,94.07L55.88,93.89L56.31,93.70L56.74,93.52L57.17,93.32L57.61,93.12L58.04,92.92L58.47,92.71L58.90,92.50L59.33,92.28L59.76,92.06L60.19,91.84L60.62,91.61L61.05,91.38L61.49,91.13L61.92,90.87L62.35,90.60L62.78,90.32L63.21,90.03L63.64,89.74L64.07,89.44L64.50,89.14L64.94,88.84L65.37,88.54L65.80,88.25L66.23,87.95L66.66,87.66L67.09,87.37L67.52,87.07L67.95,86.77L68.38,86.46L68.82,86.14L69.25,85.81L69.68,85.47L70.11,85.12L70.54,84.75L70.97,84.36L71.40,83.97L71.83,83.56L72.27,83.15L72.70,82.73L73.13,82.31L73.56,81.89L73.99,81.46L74.42,81.04L74.85,80.64L75.28,80.24L75.71,79.85L76.15,79.46L76.58,79.05L77.01,78.61L77.44,78.15L77.87,77.64L78.30,77.08L78.73,76.44L79.16,75.72L79.59,74.93L80.03,74.09L80.46,73.21L80.89,72.30L81.32,71.39L81.75,70.48L82.18,69.59L82.61,68.68L83.04,67.76L83.48,66.83L83.91,65.87L84.34,64.90L84.77,63.92L85.20,62.92L85.63,61.91L86.06,60.88L86.49,59.84L86.92,58.80L87.36,57.76L87.79,56.71L88.22,55.64L88.65,54.55L89.08,53.43L89.51,52.27L89.94,51.08L90.37,49.83L90.80,48.53L91.24,47.13L91.67,45.62L92.10,44.01L92.53,42.34L92.96,40.64L93.39,38.93L93.82,37.26L94.25,35.65L94.69,34.06L95.12,32.43L95.55,30.79L95.98,29.18L96.41,27.65L96.84,26.23L97.27,24.97L97.70,23.86L98.13,22.81L98.57,21.81L99.00,20.87L99.43,19.98L99.86,19.15L100.29,18.38L100.72,17.67L101.15,17.03L101.58,16.45L102.01,15.93L102.45,15.46L102.88,15.03L103.31,14.62L103.74,14.21L104.17,13.80L104.60,13.40L105.03,13.01L105.46,12.63L105.90,12.26L106.33,11.91L106.76,11.57L107.19,11.26L107.62,10.97L108.05,10.70L108.48,10.46L108.91,10.25L109.34,10.05L109.78,9.87L110.21,9.68L110.64,9.51L111.07,9.34L111.50,9.17L111.93,9.01L112.36,8.85L112.79,8.70L113.23,8.56L113.66,8.42L114.09,8.28L114.52,8.16L114.95,8.03L115.38,7.91L115.81,7.80L116.24,7.69L116.67,7.59L117.11,7.49L117.54,7.40L117.97,7.31L118.40,7.23L118.83,7.16L119.26,7.08L119.69,7.02L120.12,6.95L120.55,6.89L120.99,6.82L121.42,6.76L121.85,6.70L122.28,6.64L122.71,6.58L123.14,6.52L123.57,6.47L124.00,6.42L124.44,6.37L124.87,6.33L125.30,6.29L125.73,6.26L126.16,6.23L126.59,6.20L127.02,6.18L127.45,6.17L127.88,6.16L128.32,6.16L128.75,6.17L129.18,6.18L129.61,6.20L130.04,6.23L130.47,6.26L130.90,6.29L131.33,6.33L131.76,6.37L132.20,6.42L132.63,6.47L133.06,6.52L133.49,6.58L133.92,6.64L134.35,6.70L134.78,6.76L135.21,6.82L135.65,6.89L136.08,6.95L136.51,7.02L136.94,7.08L137.37,7.16L137.80,7.23L138.23,7.31L138.66,7.40L139.09,7.49L139.53,7.59L139.96,7.69L140.39,7.80L140.82,7.91L141.25,8.03L141.68,8.16L142.11,8.28L142.54,8.42L142.97,8.56L143.41,8.70L143.84,8.85L144.27,9.01L144.70,9.17L145.13,9.34L145.56,9.51L145.99,9.68L146.42,9.87L146.86,10.05L147.29,10.25L147.72,10.46L148.15,10.70L148.58,10.97L149.01,11.26L149.44,11.57L149.87,11.91L150.30,12.26L150.74,12.63L151.17,13.01L151.60,13.40L152.03,13.80L152.46,14.21L152.89,14.62L153.32,15.03L153.75,15.46L154.19,15.93L154.62,16.45L155.05,17.03L155.48,17.67L155.91,18.38L156.34,19.15L156.77,19.98L157.20,20.87L157.63,21.81L158.07,22.81L158.50,23.86L158.93,24.97L159.36,26.23L159.79,27.65L160.22,29.18L160.65,30.79L161.08,32.43L161.51,34.06L161.95,35.65L162.38,37.26L162.81,38.93L163.24,40.64L163.67,42.34L164.10,44.01L164.53,45.62L164.96,47.13L165.40,48.53L165.83,49.83L166.26,51.08L166.69,52.27L167.12,53.43L167.55,54.55L167.98,55.64L168.41,56.71L168.84,57.76L169.28,58.80L169.71,59.84L170.14,60.88L170.57,61.91L171.00,62.92L171.43,63.92L171.86,64.90L172.29,65.87L172.72,66.83L173.16,67.76L173.59,68.68L174.02,69.59L174.45,70.48L174.88,71.39L175.31,72.30L175.74,73.21L176.17,74.09L176.61,74.93L177.04,75.72L177.47,76.44L177.90,77.08L178.33,77.64L178.76,78.15L179.19,78.61L179.62,79.05L180.05,79.46L180.49,79.85L180.92,80.24L181.35,80.64L181.78,81.04L182.21,81.46L182.64,81.89L183.07,82.31L183.50,82.73L183.93,83.15L184.37,83.56L184.80,83.97L185.23,84.36L185.66,84.75L186.09,85.12L186.52,85.47L186.95,85.81L187.38,86.14L187.82,86.46L188.25,86.77L188.68,87.07L189.11,87.37L189.54,87.66L189.97,87.95L190.40,88.25L190.83,88.54L191.26,88.84L191.70,89.14L192.13,89.44L192.56,89.74L192.99,90.03L193.42,90.32L193.85,90.60L194.28,90.87L194.71,91.13L195.15,91.38L195.58,91.61L196.01,91.84L196.44,92.06L196.87,92.28L197.30,92.50L197.73,92.71L198.16,92.92L198.59,93.12L199.03,93.32L199.46,93.52L199.89,93.70L200.32,93.89L200.75,94.07L201.18,94.24L201.61,94.41L202.04,94.57L202.47,94.73L202.91,94.88L203.34,95.03L203.77,95.17L204.20,95.32L204.63,95.46L205.06,95.60L205.49,95.74L205.92,95.88L206.36,96.01L206.79,96.15L207.22,96.28L207.65,96.40L208.08,96.53L208.51,96.65L208.94,96.77L209.37,96.89L209.80,97.00L210.24,97.11L210.67,97.21L211.10,97.32L211.53,97.42L211.96,97.51L212.39,97.60L212.82,97.69L213.25,97.77L213.68,97.85L214.12,97.92" fill="none" stroke="#55b53a" stroke-width="1.2" stroke-dasharray="3.5 0.7 1.5 0.7" clip-path="url(#ca)" />
<path d="M42.08,160.39L42.52,156.60L42.95,152.93L43.38,149.40L43.81,145.91L44.24,142.22L44.67,139.30L45.10,137.67L45.53,136.41L45.96,135.38L46.40,134.51L46.83,133.71L47.26,132.91L47.69,132.14L48.12,131.42L48.55,130.73L48.98,130.08L49.41,129.45L49.84,128.85L50.28,128.27L50.71,127.70L51.14,127.14L51.57,126.58L52.00,126.01L52.43,125.45L52.86,124.90L53.29,124.36L53.73,123.82L54.16,123.30L54.59,122.79L55.02,122.28L55.45,121.77L55.88,121.28L56.31,120.78L56.74,120.29L57.17,119.80L57.61,119.31L58.04,118.82L58.47,118.33L58.90,117.83L59.33,117.34L59.76,116.85L60.19,116.38L60.62,115.90L61.05,115.44L61.49,114.97L61.92,114.51L62.35,114.04L62.78,113.57L63.21,113.09L63.64,112.61L64.07,112.12L64.50,111.62L64.94,111.11L65.37,110.59L65.80,110.06L66.23,109.52L66.66,108.99L67.09,108.45L67.52,107.89L67.95,107.33L68.38,106.75L68.82,106.15L69.25,105.52L69.68,104.86L70.11,104.18L70.54,103.45L70.97,102.68L71.40,101.84L71.83,100.96L72.27,100.03L72.70,99.06L73.13,98.06L73.56,97.03L73.99,95.97L74.42,94.90L74.85,93.83L75.28,92.74L75.71,91.59L76.15,90.38L76.58,89.14L77.01,87.89L77.44,86.64L77.87,85.42L78.30,84.24L78.73,83.11L79.16,82.01L79.59,80.91L80.03,79.78L80.46,78.61L80.89,77.37L81.32,76.06L81.75,74.70L82.18,73.31L82.61,71.91L83.04,70.52L83.48,69.16L83.91,67.85L84.34,66.61L84.77,65.45L85.20,64.32L85.63,63.19L86.06,62.06L86.49,60.96L86.92,59.91L87.36,58.92L87.79,58.01L88.22,57.20L88.65,56.51L89.08,55.95L89.51,55.45L89.94,54.98L90.37,54.54L90.80,54.14L91.24,53.76L91.67,53.41L92.10,53.10L92.53,52.81L92.96,52.56L93.39,52.33L93.82,52.12L94.25,51.92L94.69,51.72L95.12,51.54L95.55,51.37L95.98,51.22L96.41,51.10L96.84,51.02L97.27,50.97L97.70,50.95L98.13,50.94L98.57,50.92L99.00,50.91L99.43,50.90L99.86,50.88L100.29,50.87L100.72,50.86L101.15,50.84L101.58,50.83L102.01,50.82L102.45,50.81L102.88,50.80L103.31,50.79L103.74,50.78L104.17,50.77L104.60,50.76L105.03,50.75L105.46,50.74L105.90,50.73L106.33,50.72L106.76,50.71L107.19,50.70L107.62,50.69L108.05,50.68L108.48,50.68L108.91,50.67L109.34,50.66L109.78,50.66L110.21,50.65L110.64,50.64L111.07,50.64L111.50,50.63L111.93,50.62L112.36,50.62L112.79,50.61L113.23,50.61L113.66,50.60L114.09,50.60L114.52,50.59L114.95,50.59L115.38,50.59L115.81,50.58L116.24,50.58L116.67,50.57L117.11,50.57L117.54,50.57L117.97,50.56L118.40,50.56L118.83,50.56L119.26,50.56L119.69,50.55L120.12,50.55L120.55,50.55L120.99,50.55L121.42,50.55L121.85,50.54L122.28,50.54L122.71,50.54L123.14,50.54L123.57,50.54L124.00,50.54L124.44,50.54L124.87,50.54L125.30,50.54L125.73,50.54L126.16,50.53L126.59,50.53L127.02,50.53L127.45,50.53L127.88,50.53L128.32,50.53L128.75,50.53L129.18,50.53L129.61,50.53L130.04,50.53L130.47,50.54L130.90,50.54L131.33,50.54L131.76,50.54L132.20,50.54L132.63,50.54L133.06,50.54L133.49,50.54L133.92,50.54L134.35,50.54L134.78,50.55L135.21,50.55L135.65,50.55L136.08,50.55L136.51,50.55L136.94,50.56L137.37,50.56L137.80,50.56L138.23,50.56L138.66,50.57L139.09,50.57L139.53,50.57L139.96,50.58L140.39,50.58L140.82,50.59L141.25,50.59L141.68,50.59L142.11,50.60L142.54,50.60L142.97,50.61L143.41,50.61L143.84,50.62L144.27,50.62L144.70,50.63L145.13,50.64L145.56,50.64L145.99,50.65L146.42,50.66L146.86,50.66L147.29,50.67L147.72,50.68L148.15,50.68L148.58,50.69L149.01,50.70L149.44,50.71L149.87,50.72L150.30,50.73L150.74,50.74L151.17,50.75L151.60,50.76L152.03,50.77L152.46,50.78L152.89,50.79L153.32,50.80L153.75,50.81L154.19,50.82L154.62,50.83L155.05,50.84L155.48,50.86L155.91,50.87L156.34,50.88L156.77,50.90L157.20,50.91L157.63,50.92L158.07,50.94L158.50,50.95L158.93,50.97L159.36,51.02L159.79,51.10L160.22,51.22L160.65,51.37L161.08,51.54L161.51,51.72L161.95,51.92L162.38,52.12L162.81,52.33L163.24,52.56L163.67,52.81L164.10,53.10L164.53,53.41L164.96,53.76L165.40,54.14L165.83,54.54L166.26,54.98L166.69,55.45L167.12,55.95L167.55,56.51L167.98,57.20L168.41,58.01L168.84,58.92L169.28,59.91L169.71,60.96L170.14,62.06L170.57,63.19L171.00,64.32L171.43,65.45L171.86,66.61L172.29,67.85L172.72,69.16L173.16,70.52L173.59,71.91L174.02,73.31L174.45,74.70L174.88,76.06L175.31,77.37L175.74,78.61L176.17,79.78L176.61,80.91L177.04,82.01L177.47,83.11L177.90,84.24L178.33,85.42L178.76,86.64L179.19,87.89L179.62,89.14L180.05,90.38L180.49,91.59L180.92,92.74L181.35,93.83L181.78,94.90L182.21,95.97L182.64,97.03L183.07,98.06L183.50,99.06L183.93,100.03L184.37,100.96L184.80,101.84L185.23,102.68L185.66,103.45L186.09,104.18L186.52,104.86L186.95,105.52L187.38,106.15L187.82,106.75L188.25,107.33L188.68,107.89L189.11,108.45L189.54,108.99L189.97,109.52L190.40,110.06L190.83,110.59L191.26,111.11L191.70,111.62L192.13,112.12L192.56,112.61L192.99,113.09L193.42,113.57L193.85,114.04L194.28,114.51L194.71,114.97L195.15,115.44L195.58,115.90L196.01,116.38L196.44,116.85L196.87,117.34L197.30,117.83L197.73,118.33L198.16,118.82L198.59,119.31L199.03,119.80L199.46,120.29L199.89,120.78L200.32,121.28L200.75,121.77L201.18,122.28L201.61,122.79L202.04,123.30L202.47,123.82L202.91,124.36L203.34,124.90L203.77,125.45L204.20,126.01L204.63,126.58L205.06,127.14L205.49,127.70L205.92,128.27L206.36,128.85L206.79,129.45L207.22,130.08L207.65,130.73L208.08,131.42L208.51,132.14L208.94,132.91L209.37,133.71L209.80,134.51L210.24,135.38L210.67,136.41L211.10,137.67L211.53,139.30L211.96,142.22L212.39,145.91L212.82,149.40L213.25,152.93L213.68,156.60L214.12,160.39" fill="none" stroke="#000" stroke-width="1.15" stroke-dasharray="1.3 0.9" clip-path="url(#ca)" />
<path d="M80.10,164.70L80.34,162.52L80.58,160.34L80.82,158.17L81.06,156.00L81.30,153.84L81.54,151.69L81.78,149.55L82.02,147.42L82.27,145.31L82.51,143.22L82.75,141.15L82.99,139.09L83.23,137.04L83.47,135.01L83.71,132.97L83.95,130.94L84.19,128.90L84.43,126.86L84.67,124.81L84.91,122.74L85.15,120.65L85.39,118.54L85.63,116.40L85.87,114.24L86.12,112.04L86.36,109.79L86.60,107.45L86.84,105.04L87.08,102.61L87.32,100.19L87.56,97.84L87.80,95.59L88.04,93.44L88.28,91.34L88.52,89.29L88.76,87.27L89.00,85.28L89.24,83.30L89.48,81.34L89.72,79.36L89.96,77.38L90.21,75.37L90.45,73.34L90.69,71.30L90.93,69.27L91.17,67.25L91.41,65.25L91.65,63.28L91.89,61.34L92.13,59.45L92.37,57.57L92.61,55.69L92.85,53.83L93.09,52.01L93.33,50.25L93.57,48.55L93.81,46.93L94.05,45.41L94.30,43.96L94.54,42.58L94.78,41.25L95.02,39.95L95.26,38.67L95.50,37.41L95.74,36.12L95.98,34.82L96.22,33.54L96.46,32.28L96.70,31.07L96.94,29.94L97.18,28.90L97.42,27.97L97.66,27.12L97.90,26.31L98.15,25.55L98.39,24.83L98.63,24.15L98.87,23.53L99.11,22.96L99.35,22.43L99.59,21.93L99.83,21.45L100.07,20.98L100.31,20.52L100.55,20.08L100.79,19.66L101.03,19.26L101.27,18.87L101.51,18.50L101.75,18.14L101.99,17.81L102.24,17.50L102.48,17.20L102.72,16.93L102.96,16.68L103.20,16.45L103.44,16.23L103.68,16.02L103.92,15.82L104.16,15.64L104.40,15.45L104.64,15.28L104.88,15.11L105.12,14.95L105.36,14.80L105.60,14.65L105.84,14.51L106.08,14.37L106.33,14.23L106.57,14.10L106.81,13.97L107.05,13.84L107.29,13.71L107.53,13.59L107.77,13.46L108.01,13.33L108.25,13.21L108.49,13.08L108.73,12.95L108.97,12.83L109.21,12.70L109.45,12.58L109.69,12.46L109.93,12.34L110.18,12.21L110.42,12.10L110.66,11.98L110.90,11.86L111.14,11.75L111.38,11.63L111.62,11.52L111.86,11.42L112.10,11.31L112.34,11.21L112.58,11.11L112.82,11.01L113.06,10.91L113.30,10.82L113.54,10.73L113.78,10.64L114.02,10.56L114.27,10.48L114.51,10.41L114.75,10.34L114.99,10.27L115.23,10.20L115.47,10.14L115.71,10.08L115.95,10.01L116.19,9.95L116.43,9.88L116.67,9.82L116.91,9.76L117.15,9.69L117.39,9.63L117.63,9.57L117.87,9.50L118.12,9.44L118.36,9.38L118.60,9.32L118.84,9.26L119.08,9.20L119.32,9.14L119.56,9.08L119.80,9.03L120.04,8.97L120.28,8.91L120.52,8.86L120.76,8.81L121.00,8.75L121.24,8.70L121.48,8.65L121.72,8.60L121.96,8.55L122.21,8.51L122.45,8.46L122.69,8.42L122.93,8.37L123.17,8.33L123.41,8.29L123.65,8.26L123.89,8.22L124.13,8.18L124.37,8.15L124.61,8.12L124.85,8.09L125.09,8.06L125.33,8.04L125.57,8.01L125.81,7.99L126.05,7.97L126.30,7.95L126.54,7.93L126.78,7.92L127.02,7.91L127.26,7.90L127.50,7.89L127.74,7.89L127.98,7.89L128.22,7.89L128.46,7.89L128.70,7.89L128.94,7.90L129.18,7.91L129.42,7.92L129.66,7.93L129.90,7.95L130.15,7.97L130.39,7.99L130.63,8.01L130.87,8.04L131.11,8.06L131.35,8.09L131.59,8.12L131.83,8.15L132.07,8.18L132.31,8.22L132.55,8.26L132.79,8.29L133.03,8.33L133.27,8.37L133.51,8.42L133.75,8.46L133.99,8.51L134.24,8.55L134.48,8.60L134.72,8.65L134.96,8.70L135.20,8.75L135.44,8.81L135.68,8.86L135.92,8.91L136.16,8.97L136.40,9.03L136.64,9.08L136.88,9.14L137.12,9.20L137.36,9.26L137.60,9.32L137.84,9.38L138.08,9.44L138.33,9.50L138.57,9.57L138.81,9.63L139.05,9.69L139.29,9.76L139.53,9.82L139.77,9.88L140.01,9.95L140.25,10.01L140.49,10.08L140.73,10.14L140.97,10.20L141.21,10.27L141.45,10.34L141.69,10.41L141.93,10.48L142.18,10.56L142.42,10.64L142.66,10.73L142.90,10.82L143.14,10.91L143.38,11.01L143.62,11.11L143.86,11.21L144.10,11.31L144.34,11.42L144.58,11.52L144.82,11.63L145.06,11.75L145.30,11.86L145.54,11.98L145.78,12.10L146.02,12.21L146.27,12.34L146.51,12.46L146.75,12.58L146.99,12.70L147.23,12.83L147.47,12.95L147.71,13.08L147.95,13.21L148.19,13.33L148.43,13.46L148.67,13.59L148.91,13.71L149.15,13.84L149.39,13.97L149.63,14.10L149.87,14.23L150.12,14.37L150.36,14.51L150.60,14.65L150.84,14.80L151.08,14.95L151.32,15.11L151.56,15.28L151.80,15.45L152.04,15.64L152.28,15.82L152.52,16.02L152.76,16.23L153.00,16.45L153.24,16.68L153.48,16.93L153.72,17.20L153.96,17.50L154.21,17.81L154.45,18.14L154.69,18.50L154.93,18.87L155.17,19.26L155.41,19.66L155.65,20.08L155.89,20.52L156.13,20.98L156.37,21.45L156.61,21.93L156.85,22.43L157.09,22.96L157.33,23.53L157.57,24.15L157.81,24.83L158.05,25.55L158.30,26.31L158.54,27.12L158.78,27.97L159.02,28.90L159.26,29.94L159.50,31.07L159.74,32.28L159.98,33.54L160.22,34.82L160.46,36.12L160.70,37.41L160.94,38.67L161.18,39.95L161.42,41.25L161.66,42.58L161.90,43.96L162.15,45.41L162.39,46.93L162.63,48.55L162.87,50.25L163.11,52.01L163.35,53.83L163.59,55.69L163.83,57.57L164.07,59.45L164.31,61.34L164.55,63.28L164.79,65.25L165.03,67.25L165.27,69.27L165.51,71.30L165.75,73.34L165.99,75.37L166.24,77.38L166.48,79.36L166.72,81.34L166.96,83.30L167.20,85.28L167.44,87.27L167.68,89.29L167.92,91.34L168.16,93.44L168.40,95.59L168.64,97.84L168.88,100.19L169.12,102.61L169.36,105.04L169.60,107.45L169.84,109.79L170.08,112.04L170.33,114.24L170.57,116.40L170.81,118.54L171.05,120.65L171.29,122.74L171.53,124.81L171.77,126.86L172.01,128.90L172.25,130.94L172.49,132.97L172.73,135.01L172.97,137.04L173.21,139.09L173.45,141.15L173.69,143.22L173.93,145.31L174.18,147.42L174.42,149.55L174.66,151.69L174.90,153.84L175.14,156.00L175.38,158.17L175.62,160.34L175.86,162.52L176.10,164.70" fill="none" stroke="#ee2222" stroke-width="1.25" stroke-dasharray="3 2.5" clip-path="url(#ca)" />
<path d="M72.42,153.85L72.80,153.24L73.19,152.11L73.57,150.93L73.96,150.33L74.34,148.99L74.72,148.57L75.11,147.52L75.49,147.64L75.88,145.99L76.26,145.11L76.64,144.40L77.03,143.34L77.41,142.82L77.80,142.37L78.18,141.47L78.56,140.88L78.95,139.92L79.33,139.50L79.72,138.43L80.10,138.14L80.48,137.88L80.87,136.85L81.25,136.52L81.64,135.53L82.02,134.70L82.40,134.63L82.79,133.34L83.17,133.25L83.56,132.59L83.94,131.68L84.32,131.20L84.71,131.24L85.09,130.19L85.48,128.76L85.86,127.89L86.24,127.61L86.63,126.62L87.01,125.21L87.40,124.68L87.78,123.37L88.16,123.11L88.55,122.05L88.93,120.83L89.32,119.34L89.70,118.67L90.08,117.98L90.47,117.03L90.85,116.03L91.24,115.33L91.62,114.91L92.00,114.59L92.39,111.84L92.77,113.74L93.16,112.15L93.54,111.00L93.92,110.52L94.31,110.09L94.69,109.18L95.08,108.29L95.46,107.70L95.84,108.31L96.23,107.19L96.61,103.90L97.00,103.48L97.38,102.32L97.76,100.42L98.15,100.10L98.53,100.89L98.92,99.96L99.30,99.65L99.68,100.65L100.07,98.99L100.45,97.22L100.84,99.03L101.22,96.65L101.60,97.11L101.99,99.41L102.37,98.39L102.76,98.20L103.14,96.10L103.52,98.07L103.91,96.68L104.29,96.19L104.68,94.92L105.06,95.69L105.44,96.45L105.83,96.67L106.21,95.20L106.60,96.54L106.98,96.15L107.36,95.38L107.75,96.30L108.13,94.99L108.52,95.16L108.90,95.67L109.28,94.64L109.67,92.79L110.05,94.32L110.44,93.90L110.82,91.96L111.20,92.93L111.59,92.99L111.97,93.09L112.36,93.90L112.74,94.38L113.12,90.73L113.51,93.72L113.89,94.25L114.28,92.69L114.66,92.13L115.04,91.28L115.43,88.09L115.81,93.06L116.20,92.49L116.58,91.76L116.96,90.77L117.35,90.94L117.73,92.13L118.12,90.93L118.50,90.06L118.88,91.71L119.27,93.00L119.65,87.78L120.04,88.53L120.42,91.21L120.80,91.01L121.19,91.63L121.57,91.85L121.96,90.60L122.34,90.58L122.72,92.13L123.11,91.13L123.49,93.68L123.88,87.60L124.26,90.50L124.64,95.42L125.03,93.19L125.41,90.52L125.80,90.41L126.18,91.40L126.56,91.03L126.95,92.15L127.33,89.20L127.72,91.22L128.10,90.75L128.48,93.22L128.87,90.61L129.25,90.94L129.64,90.90L130.02,91.82L130.40,92.52L130.79,89.26L131.17,89.37L131.56,90.45L131.94,91.48L132.32,91.37L132.71,91.56L133.09,90.82L133.48,90.59L133.86,91.13L134.24,88.32L134.63,89.96L135.01,93.01L135.40,91.33L135.78,89.35L136.16,91.62L136.55,94.51L136.93,89.69L137.32,91.09L137.70,92.21L138.08,92.89L138.47,91.58L138.85,90.89L139.24,90.92L139.62,91.85L140.00,95.84L140.39,92.54L140.77,93.27L141.16,91.02L141.54,90.27L141.92,92.30L142.31,93.60L142.69,94.17L143.08,93.84L143.46,91.71L143.84,92.33L144.23,91.92L144.61,92.78L145.00,91.05L145.38,92.99L145.76,92.34L146.15,97.48L146.53,93.42L146.92,92.55L147.30,92.46L147.68,95.47L148.07,94.88L148.45,96.76L148.84,93.35L149.22,95.71L149.60,94.63L149.99,95.27L150.37,95.74L150.76,95.56L151.14,94.56L151.52,95.19L151.91,95.03L152.29,97.17L152.68,94.59L153.06,96.89L153.44,97.25L153.83,97.73L154.21,97.12L154.60,97.47L154.98,101.66L155.36,98.48L155.75,99.49L156.13,99.22L156.52,99.33L156.90,100.25L157.28,102.52L157.67,98.06L158.05,100.75L158.44,100.71L158.82,101.15L159.20,104.34L159.59,103.45L159.97,106.78L160.36,109.67L160.74,107.56L161.12,108.01L161.51,110.93L161.89,110.59L162.28,111.26L162.66,109.38L163.04,111.16L163.43,112.48L163.81,113.23L164.20,112.96L164.58,115.04L164.96,115.52L165.35,115.81L165.73,116.83L166.12,117.99L166.50,118.87L166.88,119.61L167.27,120.75L167.65,121.15L168.04,122.70L168.42,123.17L168.80,124.60L169.19,125.43L169.57,126.55L169.96,127.54L170.34,127.41L170.72,128.83L171.11,130.28L171.49,130.91L171.88,131.91L172.26,131.86L172.64,133.00L173.03,132.99L173.41,133.64L173.80,133.41L174.18,135.12L174.56,135.63L174.95,136.46L175.33,136.67L175.72,136.41L176.10,138.18L176.48,138.80L176.87,139.61L177.25,139.82L177.64,140.40L178.02,141.21L178.40,142.06L178.79,142.54L179.17,143.48L179.56,144.29L179.94,145.12L180.32,145.59L180.71,146.65L181.09,147.31L181.48,148.42L181.86,148.95L182.24,149.10L182.63,150.88L183.01,152.10L183.40,152.65L183.78,154.42" fill="none" stroke="#62c4de" stroke-width="1.2" clip-path="url(#ca)" />
<path d="M268.56,95.34L268.99,95.24L269.42,95.14L269.85,95.03L270.28,94.92L270.71,94.81L271.14,94.69L271.57,94.57L271.99,94.44L272.42,94.31L272.85,94.17L273.28,94.04L273.71,93.89L274.14,93.75L274.57,93.60L275.00,93.45L275.43,93.29L275.86,93.14L276.29,92.98L276.72,92.81L277.15,92.64L277.58,92.48L278.01,92.30L278.44,92.13L278.87,91.95L279.30,91.77L279.73,91.59L280.16,91.41L280.59,91.22L281.02,91.04L281.45,90.85L281.88,90.66L282.31,90.47L282.74,90.27L283.17,90.06L283.60,89.86L284.03,89.64L284.46,89.42L284.89,89.20L285.32,88.97L285.75,88.74L286.18,88.50L286.61,88.25L287.04,88.01L287.47,87.75L287.90,87.50L288.33,87.23L288.76,86.97L289.19,86.70L289.62,86.42L290.05,86.14L290.48,85.86L290.91,85.57L291.34,85.28L291.77,84.98L292.20,84.68L292.62,84.37L293.05,84.07L293.48,83.75L293.91,83.44L294.34,83.12L294.77,82.80L295.20,82.48L295.63,82.15L296.06,81.80L296.49,81.44L296.92,81.07L297.35,80.67L297.78,80.25L298.21,79.81L298.64,79.34L299.07,78.84L299.50,78.30L299.93,77.68L300.36,76.99L300.79,76.23L301.22,75.42L301.65,74.55L302.08,73.64L302.51,72.69L302.94,71.72L303.37,70.72L303.80,69.60L304.23,68.38L304.66,67.12L305.09,65.85L305.52,64.61L305.95,63.37L306.38,62.13L306.81,60.87L307.24,59.62L307.67,58.39L308.10,57.17L308.53,55.96L308.96,54.74L309.39,53.51L309.82,52.28L310.25,51.08L310.68,49.91L311.11,48.79L311.54,47.73L311.97,46.74L312.40,45.81L312.83,44.88L313.25,43.97L313.68,43.08L314.11,42.22L314.54,41.40L314.97,40.61L315.40,39.87L315.83,39.18L316.26,38.55L316.69,37.98L317.12,37.48L317.55,37.01L317.98,36.56L318.41,36.12L318.84,35.71L319.27,35.31L319.70,34.93L320.13,34.56L320.56,34.21L320.99,33.88L321.42,33.56L321.85,33.25L322.28,32.96L322.71,32.68L323.14,32.42L323.57,32.17L324.00,31.94L324.43,31.71L324.86,31.50L325.29,31.30L325.72,31.12L326.15,30.95L326.58,30.80L327.01,30.65L327.44,30.50L327.87,30.36L328.30,30.21L328.73,30.06L329.16,29.91L329.59,29.75L330.02,29.59L330.45,29.42L330.88,29.26L331.31,29.10L331.74,28.93L332.17,28.77L332.60,28.60L333.03,28.44L333.46,28.28L333.88,28.12L334.31,27.97L334.74,27.82L335.17,27.67L335.60,27.52L336.03,27.38L336.46,27.23L336.89,27.09L337.32,26.95L337.75,26.81L338.18,26.68L338.61,26.54L339.04,26.41L339.47,26.28L339.90,26.15L340.33,26.02L340.76,25.89L341.19,25.76L341.62,25.63L342.05,25.49L342.48,25.36L342.91,25.23L343.34,25.11L343.77,24.98L344.20,24.86L344.63,24.74L345.06,24.62L345.49,24.51L345.92,24.41L346.35,24.31L346.78,24.22L347.21,24.13L347.64,24.03L348.07,23.93L348.50,23.83L348.93,23.73L349.36,23.64L349.79,23.54L350.22,23.45L350.65,23.37L351.08,23.29L351.51,23.21L351.94,23.15L352.37,23.09L352.80,23.04L353.23,23.00L353.66,22.98L354.09,22.96L354.51,22.96L354.94,22.98L355.37,23.00L355.80,23.04L356.23,23.09L356.66,23.15L357.09,23.21L357.52,23.29L357.95,23.37L358.38,23.45L358.81,23.54L359.24,23.64L359.67,23.73L360.10,23.83L360.53,23.93L360.96,24.03L361.39,24.13L361.82,24.22L362.25,24.31L362.68,24.41L363.11,24.51L363.54,24.62L363.97,24.74L364.40,24.86L364.83,24.98L365.26,25.11L365.69,25.23L366.12,25.36L366.55,25.49L366.98,25.63L367.41,25.76L367.84,25.89L368.27,26.02L368.70,26.15L369.13,26.28L369.56,26.41L369.99,26.54L370.42,26.68L370.85,26.81L371.28,26.95L371.71,27.09L372.14,27.23L372.57,27.38L373.00,27.52L373.43,27.67L373.86,27.82L374.29,27.97L374.72,28.12L375.14,28.28L375.57,28.44L376.00,28.60L376.43,28.77L376.86,28.93L377.29,29.10L377.72,29.26L378.15,29.42L378.58,29.59L379.01,29.75L379.44,29.91L379.87,30.06L380.30,30.21L380.73,30.36L381.16,30.50L381.59,30.65L382.02,30.80L382.45,30.95L382.88,31.12L383.31,31.30L383.74,31.50L384.17,31.71L384.60,31.94L385.03,32.17L385.46,32.42L385.89,32.68L386.32,32.96L386.75,33.25L387.18,33.56L387.61,33.88L388.04,34.21L388.47,34.56L388.90,34.93L389.33,35.31L389.76,35.71L390.19,36.12L390.62,36.56L391.05,37.01L391.48,37.48L391.91,37.98L392.34,38.55L392.77,39.18L393.20,39.87L393.63,40.61L394.06,41.40L394.49,42.22L394.92,43.08L395.35,43.97L395.77,44.88L396.20,45.81L396.63,46.74L397.06,47.73L397.49,48.79L397.92,49.91L398.35,51.08L398.78,52.28L399.21,53.51L399.64,54.74L400.07,55.96L400.50,57.17L400.93,58.39L401.36,59.62L401.79,60.87L402.22,62.13L402.65,63.37L403.08,64.61L403.51,65.85L403.94,67.12L404.37,68.38L404.80,69.60L405.23,70.72L405.66,71.72L406.09,72.69L406.52,73.64L406.95,74.55L407.38,75.42L407.81,76.23L408.24,76.99L408.67,77.68L409.10,78.30L409.53,78.84L409.96,79.34L410.39,79.81L410.82,80.25L411.25,80.67L411.68,81.07L412.11,81.44L412.54,81.80L412.97,82.15L413.40,82.48L413.83,82.80L414.26,83.12L414.69,83.44L415.12,83.75L415.55,84.07L415.98,84.37L416.40,84.68L416.83,84.98L417.26,85.28L417.69,85.57L418.12,85.86L418.55,86.14L418.98,86.42L419.41,86.70L419.84,86.97L420.27,87.23L420.70,87.50L421.13,87.75L421.56,88.01L421.99,88.25L422.42,88.50L422.85,88.74L423.28,88.97L423.71,89.20L424.14,89.42L424.57,89.64L425.00,89.86L425.43,90.06L425.86,90.27L426.29,90.47L426.72,90.66L427.15,90.85L427.58,91.04L428.01,91.22L428.44,91.41L428.87,91.59L429.30,91.77L429.73,91.95L430.16,92.13L430.59,92.30L431.02,92.48L431.45,92.64L431.88,92.81L432.31,92.98L432.74,93.14L433.17,93.29L433.60,93.45L434.03,93.60L434.46,93.75L434.89,93.89L435.32,94.04L435.75,94.17L436.18,94.31L436.61,94.44L437.03,94.57L437.46,94.69L437.89,94.81L438.32,94.92L438.75,95.03L439.18,95.14L439.61,95.24L440.04,95.34" fill="none" stroke="#55b53a" stroke-width="1.2" stroke-dasharray="3.5 0.7 1.5 0.7" clip-path="url(#cc)" />
<path d="M267.40,160.39L267.84,154.65L268.27,149.88L268.71,146.37L269.15,143.71L269.58,141.57L270.02,139.75L270.45,138.14L270.89,136.71L271.32,135.41L271.76,134.19L272.19,133.04L272.63,131.93L273.07,130.88L273.50,129.87L273.94,128.90L274.37,127.98L274.81,127.09L275.24,126.23L275.68,125.40L276.11,124.60L276.55,123.83L276.99,123.10L277.42,122.40L277.86,121.74L278.29,121.11L278.73,120.52L279.16,119.97L279.60,119.46L280.03,118.96L280.47,118.48L280.91,118.02L281.34,117.56L281.78,117.10L282.21,116.64L282.65,116.17L283.08,115.68L283.52,115.20L283.95,114.73L284.39,114.26L284.83,113.80L285.26,113.32L285.70,112.85L286.13,112.37L286.57,111.87L287.00,111.36L287.44,110.84L287.87,110.30L288.31,109.74L288.75,109.18L289.18,108.60L289.62,108.01L290.05,107.40L290.49,106.77L290.92,106.12L291.36,105.44L291.80,104.74L292.23,104.01L292.67,103.24L293.10,102.42L293.54,101.57L293.97,100.69L294.41,99.78L294.84,98.85L295.28,97.90L295.72,96.94L296.15,95.97L296.59,94.99L297.02,93.99L297.46,92.96L297.89,91.90L298.33,90.82L298.76,89.70L299.20,88.54L299.64,87.34L300.07,86.08L300.51,84.74L300.94,83.35L301.38,81.90L301.81,80.41L302.25,78.89L302.68,77.36L303.12,75.82L303.56,74.28L303.99,72.76L304.43,71.26L304.86,69.74L305.30,68.19L305.73,66.62L306.17,65.06L306.60,63.51L307.04,61.98L307.48,60.50L307.91,59.07L308.35,57.71L308.78,56.36L309.22,55.02L309.65,53.71L310.09,52.43L310.52,51.20L310.96,50.03L311.40,48.92L311.83,47.90L312.27,46.96L312.70,46.04L313.14,45.15L313.57,44.29L314.01,43.46L314.44,42.67L314.88,41.92L315.32,41.20L315.75,40.54L316.19,39.92L316.62,39.35L317.06,38.84L317.49,38.37L317.93,37.92L318.37,37.49L318.80,37.09L319.24,36.72L319.67,36.36L320.11,36.03L320.54,35.72L320.98,35.42L321.41,35.15L321.85,34.89L322.29,34.64L322.72,34.40L323.16,34.17L323.59,33.94L324.03,33.72L324.46,33.51L324.90,33.30L325.33,33.11L325.77,32.92L326.21,32.73L326.64,32.55L327.08,32.38L327.51,32.22L327.95,32.06L328.38,31.91L328.82,31.76L329.25,31.62L329.69,31.48L330.13,31.35L330.56,31.22L331.00,31.09L331.43,30.97L331.87,30.85L332.30,30.72L332.74,30.60L333.17,30.49L333.61,30.37L334.05,30.26L334.48,30.15L334.92,30.04L335.35,29.94L335.79,29.84L336.22,29.75L336.66,29.65L337.09,29.57L337.53,29.48L337.97,29.40L338.40,29.33L338.84,29.25L339.27,29.19L339.71,29.13L340.14,29.07L340.58,29.02L341.01,28.98L341.45,28.93L341.89,28.89L342.32,28.85L342.76,28.80L343.19,28.76L343.63,28.72L344.06,28.68L344.50,28.64L344.94,28.60L345.37,28.57L345.81,28.53L346.24,28.49L346.68,28.46L347.11,28.43L347.55,28.39L347.98,28.36L348.42,28.34L348.86,28.31L349.29,28.28L349.73,28.26L350.16,28.24L350.60,28.22L351.03,28.20L351.47,28.18L351.90,28.17L352.34,28.16L352.78,28.15L353.21,28.14L353.65,28.14L354.08,28.13L354.52,28.13L354.95,28.14L355.39,28.14L355.82,28.15L356.26,28.16L356.70,28.17L357.13,28.18L357.57,28.20L358.00,28.22L358.44,28.24L358.87,28.26L359.31,28.28L359.74,28.31L360.18,28.34L360.62,28.36L361.05,28.39L361.49,28.43L361.92,28.46L362.36,28.49L362.79,28.53L363.23,28.57L363.66,28.60L364.10,28.64L364.54,28.68L364.97,28.72L365.41,28.76L365.84,28.80L366.28,28.85L366.71,28.89L367.15,28.93L367.59,28.98L368.02,29.02L368.46,29.07L368.89,29.13L369.33,29.19L369.76,29.25L370.20,29.33L370.63,29.40L371.07,29.48L371.51,29.57L371.94,29.65L372.38,29.75L372.81,29.84L373.25,29.94L373.68,30.04L374.12,30.15L374.55,30.26L374.99,30.37L375.43,30.49L375.86,30.60L376.30,30.72L376.73,30.85L377.17,30.97L377.60,31.09L378.04,31.22L378.47,31.35L378.91,31.48L379.35,31.62L379.78,31.76L380.22,31.91L380.65,32.06L381.09,32.22L381.52,32.38L381.96,32.55L382.39,32.73L382.83,32.92L383.27,33.11L383.70,33.30L384.14,33.51L384.57,33.72L385.01,33.94L385.44,34.17L385.88,34.40L386.31,34.64L386.75,34.89L387.19,35.15L387.62,35.42L388.06,35.72L388.49,36.03L388.93,36.36L389.36,36.72L389.80,37.09L390.23,37.49L390.67,37.92L391.11,38.37L391.54,38.84L391.98,39.35L392.41,39.92L392.85,40.54L393.28,41.20L393.72,41.92L394.16,42.67L394.59,43.46L395.03,44.29L395.46,45.15L395.90,46.04L396.33,46.96L396.77,47.90L397.20,48.92L397.64,50.03L398.08,51.20L398.51,52.43L398.95,53.71L399.38,55.02L399.82,56.36L400.25,57.71L400.69,59.07L401.12,60.50L401.56,61.98L402.00,63.51L402.43,65.06L402.87,66.62L403.30,68.19L403.74,69.74L404.17,71.26L404.61,72.76L405.04,74.28L405.48,75.82L405.92,77.36L406.35,78.89L406.79,80.41L407.22,81.90L407.66,83.35L408.09,84.74L408.53,86.08L408.96,87.34L409.40,88.54L409.84,89.70L410.27,90.82L410.71,91.90L411.14,92.96L411.58,93.99L412.01,94.99L412.45,95.97L412.88,96.94L413.32,97.90L413.76,98.85L414.19,99.78L414.63,100.69L415.06,101.57L415.50,102.42L415.93,103.24L416.37,104.01L416.80,104.74L417.24,105.44L417.68,106.12L418.11,106.77L418.55,107.40L418.98,108.01L419.42,108.60L419.85,109.18L420.29,109.74L420.73,110.30L421.16,110.84L421.60,111.36L422.03,111.87L422.47,112.37L422.90,112.85L423.34,113.32L423.77,113.80L424.21,114.26L424.65,114.73L425.08,115.20L425.52,115.68L425.95,116.17L426.39,116.64L426.82,117.10L427.26,117.56L427.69,118.02L428.13,118.48L428.57,118.96L429.00,119.46L429.44,119.97L429.87,120.52L430.31,121.11L430.74,121.74L431.18,122.40L431.61,123.10L432.05,123.83L432.49,124.60L432.92,125.40L433.36,126.23L433.79,127.09L434.23,127.98L434.66,128.90L435.10,129.87L435.53,130.88L435.97,131.93L436.41,133.04L436.84,134.19L437.28,135.41L437.71,136.71L438.15,138.14L438.58,139.75L439.02,141.57L439.45,143.71L439.89,146.37L440.33,149.88L440.76,154.65L441.20,160.39" fill="none" stroke="#000" stroke-width="1.15" stroke-dasharray="1.3 0.9" clip-path="url(#cc)" />
<path d="M303.55,160.39L303.80,157.49L304.05,154.61L304.31,151.77L304.56,148.95L304.82,146.14L305.07,143.17L305.33,140.15L305.58,137.21L305.84,134.51L306.09,132.20L306.34,130.38L306.60,128.84L306.85,127.47L307.11,126.23L307.36,125.08L307.62,123.98L307.87,122.89L308.13,121.77L308.38,120.61L308.63,119.45L308.89,118.29L309.14,117.15L309.40,116.01L309.65,114.90L309.91,113.81L310.16,112.75L310.41,111.72L310.67,110.73L310.92,109.79L311.18,108.89L311.43,108.03L311.69,107.20L311.94,106.39L312.20,105.60L312.45,104.83L312.70,104.08L312.96,103.35L313.21,102.64L313.47,101.94L313.72,101.27L313.98,100.61L314.23,99.96L314.49,99.34L314.74,98.72L314.99,98.12L315.25,97.54L315.50,96.97L315.76,96.41L316.01,95.87L316.27,95.34L316.52,94.83L316.78,94.32L317.03,93.83L317.28,93.34L317.54,92.86L317.79,92.39L318.05,91.92L318.30,91.46L318.56,91.00L318.81,90.54L319.06,90.09L319.32,89.64L319.57,89.19L319.83,88.73L320.08,88.28L320.34,87.82L320.59,87.36L320.85,86.89L321.10,86.41L321.35,85.93L321.61,85.45L321.86,84.95L322.12,84.44L322.37,83.92L322.63,83.40L322.88,82.87L323.14,82.35L323.39,81.84L323.64,81.33L323.90,80.83L324.15,80.35L324.41,79.89L324.66,79.45L324.92,79.03L325.17,78.61L325.42,78.21L325.68,77.81L325.93,77.41L326.19,77.02L326.44,76.64L326.70,76.27L326.95,75.90L327.21,75.53L327.46,75.17L327.71,74.82L327.97,74.47L328.22,74.12L328.48,73.77L328.73,73.43L328.99,73.09L329.24,72.75L329.50,72.42L329.75,72.08L330.00,71.75L330.26,71.42L330.51,71.09L330.77,70.75L331.02,70.42L331.28,70.09L331.53,69.76L331.79,69.42L332.04,69.09L332.29,68.75L332.55,68.41L332.80,68.07L333.06,67.73L333.31,67.39L333.57,67.05L333.82,66.71L334.07,66.38L334.33,66.04L334.58,65.70L334.84,65.37L335.09,65.04L335.35,64.70L335.60,64.37L335.86,64.04L336.11,63.71L336.36,63.38L336.62,63.06L336.87,62.73L337.13,62.40L337.38,62.08L337.64,61.76L337.89,61.44L338.15,61.12L338.40,60.80L338.65,60.48L338.91,60.17L339.16,59.86L339.42,59.54L339.67,59.23L339.93,58.93L340.18,58.62L340.43,58.32L340.69,58.01L340.94,57.69L341.20,57.37L341.45,57.04L341.71,56.70L341.96,56.36L342.22,56.02L342.47,55.68L342.72,55.34L342.98,55.00L343.23,54.66L343.49,54.34L343.74,54.02L344.00,53.71L344.25,53.41L344.51,53.12L344.76,52.84L345.01,52.58L345.27,52.34L345.52,52.11L345.78,51.91L346.03,51.73L346.29,51.56L346.54,51.43L346.80,51.31L347.05,51.20L347.30,51.08L347.56,50.97L347.81,50.86L348.07,50.75L348.32,50.65L348.58,50.55L348.83,50.45L349.08,50.35L349.34,50.25L349.59,50.16L349.85,50.07L350.10,49.99L350.36,49.91L350.61,49.83L350.87,49.76L351.12,49.69L351.37,49.62L351.63,49.56L351.88,49.51L352.14,49.46L352.39,49.41L352.65,49.37L352.90,49.33L353.16,49.30L353.41,49.28L353.66,49.26L353.92,49.25L354.17,49.24L354.43,49.24L354.68,49.25L354.94,49.26L355.19,49.28L355.44,49.30L355.70,49.33L355.95,49.37L356.21,49.41L356.46,49.46L356.72,49.51L356.97,49.56L357.23,49.62L357.48,49.69L357.73,49.76L357.99,49.83L358.24,49.91L358.50,49.99L358.75,50.07L359.01,50.16L359.26,50.25L359.52,50.35L359.77,50.45L360.02,50.55L360.28,50.65L360.53,50.75L360.79,50.86L361.04,50.97L361.30,51.08L361.55,51.20L361.80,51.31L362.06,51.43L362.31,51.56L362.57,51.73L362.82,51.91L363.08,52.11L363.33,52.34L363.59,52.58L363.84,52.84L364.09,53.12L364.35,53.41L364.60,53.71L364.86,54.02L365.11,54.34L365.37,54.66L365.62,55.00L365.88,55.34L366.13,55.68L366.38,56.02L366.64,56.36L366.89,56.70L367.15,57.04L367.40,57.37L367.66,57.69L367.91,58.01L368.17,58.32L368.42,58.62L368.67,58.93L368.93,59.23L369.18,59.54L369.44,59.86L369.69,60.17L369.95,60.48L370.20,60.80L370.45,61.12L370.71,61.44L370.96,61.76L371.22,62.08L371.47,62.40L371.73,62.73L371.98,63.06L372.24,63.38L372.49,63.71L372.74,64.04L373.00,64.37L373.25,64.70L373.51,65.04L373.76,65.37L374.02,65.70L374.27,66.04L374.53,66.38L374.78,66.71L375.03,67.05L375.29,67.39L375.54,67.73L375.80,68.07L376.05,68.41L376.31,68.75L376.56,69.09L376.81,69.42L377.07,69.76L377.32,70.09L377.58,70.42L377.83,70.75L378.09,71.09L378.34,71.42L378.60,71.75L378.85,72.08L379.10,72.42L379.36,72.75L379.61,73.09L379.87,73.43L380.12,73.77L380.38,74.12L380.63,74.47L380.89,74.82L381.14,75.17L381.39,75.53L381.65,75.90L381.90,76.27L382.16,76.64L382.41,77.02L382.67,77.41L382.92,77.81L383.18,78.21L383.43,78.61L383.68,79.03L383.94,79.45L384.19,79.89L384.45,80.35L384.70,80.83L384.96,81.33L385.21,81.84L385.46,82.35L385.72,82.87L385.97,83.40L386.23,83.92L386.48,84.44L386.74,84.95L386.99,85.45L387.25,85.93L387.50,86.41L387.75,86.89L388.01,87.36L388.26,87.82L388.52,88.28L388.77,88.73L389.03,89.19L389.28,89.64L389.54,90.09L389.79,90.54L390.04,91.00L390.30,91.46L390.55,91.92L390.81,92.39L391.06,92.86L391.32,93.34L391.57,93.83L391.82,94.32L392.08,94.83L392.33,95.34L392.59,95.87L392.84,96.41L393.10,96.97L393.35,97.54L393.61,98.12L393.86,98.72L394.11,99.34L394.37,99.96L394.62,100.61L394.88,101.27L395.13,101.94L395.39,102.64L395.64,103.35L395.90,104.08L396.15,104.83L396.40,105.60L396.66,106.39L396.91,107.20L397.17,108.03L397.42,108.89L397.68,109.79L397.93,110.73L398.19,111.72L398.44,112.75L398.69,113.81L398.95,114.90L399.20,116.01L399.46,117.15L399.71,118.29L399.97,119.45L400.22,120.61L400.47,121.77L400.73,122.89L400.98,123.98L401.24,125.08L401.49,126.23L401.75,127.47L402.00,128.84L402.26,130.38L402.51,132.20L402.76,134.51L403.02,137.21L403.27,140.15L403.53,143.17L403.78,146.14L404.04,148.95L404.29,151.77L404.55,154.61L404.80,157.49L405.05,160.39" fill="none" stroke="#ee2222" stroke-width="1.25" stroke-dasharray="3 2.5" clip-path="url(#cc)" />
<path d="M295.86,151.70L296.24,151.48L296.62,150.42L297.01,149.75L297.39,149.05L297.78,148.21L298.16,147.41L298.55,146.69L298.93,146.25L299.32,146.26L299.70,144.30L300.09,143.61L300.47,143.12L300.85,142.47L301.24,142.00L301.62,140.54L302.01,140.53L302.39,139.81L302.78,138.64L303.16,137.82L303.55,136.96L303.93,137.03L304.31,136.40L304.70,134.60L305.08,134.23L305.47,133.53L305.85,132.27L306.24,132.12L306.62,131.32L307.01,130.80L307.39,129.96L307.78,128.99L308.16,128.27L308.54,127.84L308.93,126.81L309.31,125.82L309.70,125.29L310.08,123.76L310.47,124.46L310.85,123.38L311.24,122.44L311.62,121.98L312.00,121.85L312.39,121.91L312.77,119.96L313.16,119.30L313.54,119.36L313.93,119.52L314.31,118.18L314.70,118.47L315.08,117.47L315.47,117.72L315.85,116.93L316.23,119.09L316.62,118.60L317.00,116.94L317.39,116.17L317.77,115.76L318.16,115.08L318.54,114.38L318.93,115.58L319.31,114.53L319.70,117.60L320.08,115.48L320.46,112.77L320.85,110.93L321.23,115.22L321.62,113.08L322.00,117.18L322.39,114.11L322.77,113.33L323.16,114.81L323.54,114.66L323.92,115.40L324.31,112.72L324.69,111.71L325.08,111.54L325.46,112.74L325.85,110.09L326.23,114.76L326.62,112.30L327.00,111.32L327.39,115.25L327.77,112.78L328.15,113.35L328.54,110.73L328.92,113.32L329.31,111.27L329.69,113.72L330.08,115.08L330.46,112.36L330.85,110.80L331.23,112.36L331.61,113.03L332.00,115.59L332.38,115.46L332.77,110.94L333.15,111.75L333.54,110.77L333.92,111.99L334.31,110.55L334.69,109.88L335.08,111.10L335.46,110.41L335.84,110.20L336.23,114.65L336.61,106.75L337.00,109.78L337.38,111.38L337.77,110.28L338.15,113.05L338.54,110.27L338.92,109.94L339.30,107.40L339.69,111.22L340.07,108.71L340.46,107.84L340.84,107.18L341.23,110.63L341.61,109.60L342.00,109.20L342.38,109.76L342.77,110.30L343.15,111.86L343.53,107.72L343.92,108.81L344.30,107.85L344.69,109.24L345.07,109.61L345.46,108.31L345.84,107.60L346.23,108.07L346.61,110.89L346.99,106.91L347.38,108.23L347.76,108.81L348.15,108.65L348.53,108.14L348.92,108.54L349.30,108.98L349.69,108.42L350.07,109.76L350.46,108.68L350.84,104.77L351.22,109.03L351.61,109.07L351.99,109.60L352.38,104.77L352.76,112.61L353.15,110.88L353.53,108.85L353.92,109.74L354.30,111.03L354.68,108.99L355.07,108.31L355.45,109.51L355.84,109.59L356.22,108.61L356.61,108.46L356.99,108.81L357.38,108.17L357.76,108.32L358.15,109.83L358.53,109.50L358.91,110.08L359.30,106.16L359.68,108.44L360.07,109.12L360.45,108.02L360.84,108.03L361.22,109.72L361.61,109.84L361.99,107.72L362.37,110.40L362.76,109.89L363.14,110.24L363.53,108.56L363.91,107.19L364.30,107.17L364.68,108.22L365.07,109.74L365.45,111.15L365.84,110.73L366.22,108.99L366.60,110.96L366.99,108.72L367.37,110.30L367.76,110.40L368.14,110.09L368.53,109.37L368.91,109.88L369.30,110.53L369.68,110.74L370.06,110.81L370.45,109.72L370.83,111.43L371.22,110.94L371.60,112.73L371.99,112.53L372.37,112.62L372.76,111.08L373.14,112.51L373.53,112.63L373.91,110.42L374.29,110.74L374.68,111.36L375.06,110.89L375.45,107.64L375.83,110.35L376.22,112.33L376.60,113.15L376.99,113.10L377.37,112.89L377.75,111.33L378.14,112.74L378.52,112.09L378.91,111.87L379.29,112.85L379.68,112.21L380.06,113.49L380.45,110.72L380.83,111.22L381.22,109.76L381.60,110.38L381.98,112.27L382.37,112.36L382.75,113.46L383.14,113.74L383.52,112.91L383.91,113.32L384.29,115.53L384.68,113.94L385.06,112.88L385.44,113.98L385.83,113.47L386.21,114.82L386.60,114.14L386.98,114.31L387.37,115.47L387.75,114.60L388.14,117.61L388.52,116.26L388.91,115.77L389.29,118.41L389.67,116.26L390.06,118.52L390.44,118.15L390.83,115.34L391.21,117.48L391.60,115.25L391.98,115.80L392.37,117.45L392.75,116.89L393.13,120.59L393.52,118.05L393.90,118.40L394.29,118.76L394.67,119.46L395.06,118.91L395.44,122.03L395.83,119.22L396.21,120.94L396.60,122.00L396.98,121.67L397.36,122.84L397.75,122.97L398.13,123.68L398.52,123.08L398.90,125.41L399.29,125.63L399.67,126.61L400.06,127.45L400.44,128.20L400.82,128.89L401.21,129.99L401.59,130.61L401.98,131.52L402.36,131.63L402.75,133.10L403.13,133.41L403.52,134.29L403.90,135.43L404.29,135.18L404.67,136.18L405.05,137.43L405.44,137.80L405.82,138.40L406.21,139.15L406.59,140.41L406.98,141.19L407.36,141.59L407.75,141.90L408.13,142.59L408.51,144.04L408.90,145.09L409.28,145.16L409.67,145.99L410.05,146.65L410.44,148.44L410.82,148.12L411.21,148.51L411.59,149.68L411.98,149.58L412.36,150.46L412.74,151.91" fill="none" stroke="#62c4de" stroke-width="1.2" clip-path="url(#cc)" />
<path d="M38.87,305.99L39.10,314.63L39.33,311.91L39.56,310.61L39.79,312.12L40.02,307.54L40.25,305.89L40.48,306.74L40.71,297.16L40.94,298.63L41.17,300.53L41.40,299.06L41.63,301.25L41.86,304.97L42.09,297.74L42.32,297.01L42.55,299.05L42.78,302.54L43.01,298.17L43.24,299.44L43.47,309.05L43.70,289.32L43.93,297.64L44.17,301.95L44.40,294.03L44.63,301.24L44.86,296.30L45.09,300.40L45.32,288.82L45.55,298.00L45.78,306.08L46.01,293.77L46.24,297.20L46.47,292.62L46.70,296.13L46.93,290.94L47.16,302.38L47.39,294.05L47.62,299.03L47.85,293.70L48.08,292.34L48.31,292.87L48.54,294.85L48.77,291.66L49.00,291.72L49.23,292.75L49.46,295.97L49.69,291.88L49.93,291.89L50.16,297.88L50.39,295.13L50.62,292.92L50.85,292.36L51.08,282.91L51.31,292.94L51.54,289.34L51.77,286.24L52.00,288.30L52.23,289.47L52.46,291.74L52.69,291.97L52.92,284.51L53.15,292.91L53.38,293.11L53.61,289.50L53.84,289.01L54.07,292.83L54.30,287.58L54.53,289.43L54.76,290.61L54.99,289.22L55.22,290.33L55.45,290.65L55.69,293.18L55.92,290.42L56.15,293.12L56.38,287.32L56.61,284.42L56.84,287.74L57.07,286.47L57.30,287.22L57.53,286.72L57.76,286.45L57.99,283.97L58.22,286.83L58.45,287.87L58.68,284.97L58.91,286.02L59.14,286.12L59.37,285.11L59.60,280.53L59.83,285.70L60.06,284.73L60.29,282.18L60.52,283.96L60.75,278.31L60.98,284.85L61.21,291.39L61.45,289.61L61.68,285.37L61.91,282.71L62.14,288.82L62.37,281.83L62.60,284.46L62.83,284.74L63.06,285.01L63.29,281.34L63.52,279.97L63.75,281.47L63.98,284.66L64.21,284.70L64.44,284.19L64.67,281.45L64.90,278.82L65.13,280.63L65.36,282.61L65.59,280.20L65.82,282.08L66.05,281.53L66.28,282.80L66.51,279.18L66.74,279.17L66.97,276.13L67.21,280.33L67.44,279.24L67.67,276.43L67.90,281.95L68.13,277.78L68.36,279.01L68.59,277.11L68.82,277.43L69.05,277.86L69.28,275.07L69.51,275.42L69.74,273.12L69.97,278.83L70.20,275.84L70.43,273.44L70.66,273.22L70.89,274.07L71.12,277.81L71.35,276.34L71.58,271.68L71.81,275.77L72.04,274.60L72.27,274.21L72.50,272.21L72.73,273.54L72.97,270.07L73.20,271.53L73.43,271.84L73.66,272.47L73.89,269.44L74.12,270.77L74.35,267.47L74.58,270.01L74.81,266.54L75.04,269.02L75.27,270.50L75.50,268.44L75.73,267.58L75.96,267.43L76.19,267.51L76.42,268.57L76.65,265.62L76.88,267.40L77.11,267.71L77.34,268.03L77.57,264.98L77.80,266.66L78.03,267.48L78.26,263.71L78.49,264.38L78.73,265.58L78.96,266.22L79.19,264.91L79.42,261.59L79.65,264.48L79.88,264.39L80.11,265.09L80.34,265.00L80.57,263.00L80.80,265.97L81.03,260.55L81.26,267.21L81.49,262.83L81.72,263.07L81.95,260.97L82.18,260.44L82.41,256.37L82.64,261.53L82.87,258.51L83.10,257.49L83.33,260.67L83.56,259.39L83.79,259.65L84.02,257.93L84.25,262.77L84.49,259.98L84.72,258.03L84.95,261.10L85.18,260.92L85.41,258.76L85.64,256.52L85.87,259.17L86.10,257.48L86.33,258.87L86.56,259.51L86.79,258.80L87.02,258.85L87.25,256.67L87.48,260.52L87.71,257.83L87.94,256.81L88.17,258.08L88.40,257.74L88.63,256.03L88.86,257.41L89.09,257.55L89.32,255.36L89.55,257.69L89.78,256.34L90.01,257.00L90.25,257.30L90.48,256.76L90.71,257.85L90.94,255.75L91.17,257.33L91.40,256.61L91.63,256.56L91.86,255.20L92.09,256.82L92.32,259.75L92.55,256.08L92.78,255.45L93.01,256.02L93.24,257.70L93.47,257.25L93.70,257.16L93.93,256.08L94.16,257.12L94.39,255.52L94.62,256.55L94.85,257.45L95.08,257.52L95.31,257.46L95.54,256.91L95.77,256.17L96.01,256.74L96.24,256.35L96.47,256.69L96.70,257.46L96.93,256.51L97.16,257.70L97.39,257.99L97.62,256.11L97.85,257.46L98.08,257.77L98.31,255.85L98.54,256.17L98.77,259.50L99.00,255.70L99.23,256.29L99.46,255.62L99.69,254.37L99.92,257.62L100.15,255.65L100.38,257.11L100.61,256.19L100.84,254.24L101.07,254.75L101.30,257.79L101.53,256.96L101.77,259.46L102.00,258.30L102.23,257.27L102.46,255.43L102.69,255.12L102.92,257.03L103.15,257.25L103.38,258.08L103.61,255.95L103.84,256.45L104.07,259.43L104.30,255.17L104.53,257.20L104.76,256.19L104.99,256.03L105.22,257.01L105.45,255.02L105.68,257.89L105.91,258.88L106.14,255.01L106.37,255.72L106.60,254.73L106.83,257.02L107.06,257.46L107.29,255.49L107.53,256.17L107.76,254.99L107.99,254.73L108.22,256.65L108.45,259.39L108.68,254.57L108.91,257.13L109.14,256.76L109.37,256.08L109.60,253.08L109.83,256.10L110.06,255.87L110.29,255.51L110.52,256.26L110.75,256.51L110.98,258.02L111.21,256.52L111.44,255.45L111.67,255.43L111.90,254.83L112.13,255.85L112.36,256.93L112.59,256.18L112.82,256.38L113.05,255.68L113.29,254.35L113.52,256.60L113.75,257.01L113.98,255.91L114.21,255.98L114.44,259.36L114.67,255.40L114.90,256.30L115.13,255.97L115.36,256.13L115.59,257.27L115.82,256.54L116.05,257.06L116.28,254.94L116.51,258.76L116.74,256.85L116.97,256.69L117.20,255.20L117.43,256.47L117.66,256.29L117.89,259.35L118.12,255.30L118.35,257.35L118.58,257.13L118.81,255.03L119.05,255.68L119.28,256.68L119.51,257.37L119.74,255.20L119.97,257.04L120.20,258.32L120.43,257.08L120.66,256.15L120.89,255.83L121.12,254.68L121.35,255.22L121.58,255.16L121.81,255.48L122.04,257.02L122.27,259.34L122.50,256.99L122.73,255.33L122.96,253.43L123.19,255.40L123.42,257.84L123.65,255.53L123.88,255.10L124.11,256.00L124.34,258.02L124.57,255.92L124.81,255.86L125.04,256.86L125.27,255.94L125.50,257.77L125.73,256.48L125.96,256.46L126.19,258.25L126.42,254.88L126.65,256.55L126.88,257.24L127.11,254.98L127.34,253.34L127.57,255.34L127.80,255.85L128.03,256.41L128.26,256.92L128.49,255.46L128.72,255.89L128.95,257.71L129.18,256.09L129.41,255.02L129.64,255.07L129.87,255.95L130.10,255.29L130.33,256.42L130.57,254.54L130.80,255.16L131.03,255.37L131.26,256.51L131.49,256.78L131.72,256.93L131.95,256.75L132.18,257.50L132.41,254.78L132.64,256.18L132.87,256.12L133.10,256.57L133.33,256.42L133.56,254.52L133.79,253.40L134.02,255.57L134.25,255.64L134.48,259.35L134.71,257.38L134.94,254.86L135.17,256.26L135.40,256.03L135.63,255.79L135.86,257.40L136.09,257.26L136.33,256.39L136.56,256.95L136.79,255.02L137.02,256.27L137.25,255.62L137.48,255.78L137.71,256.19L137.94,255.57L138.17,256.91L138.40,255.07L138.63,254.74L138.86,253.62L139.09,257.47L139.32,256.39L139.55,256.19L139.78,255.32L140.01,255.79L140.24,256.34L140.47,256.07L140.70,256.25L140.93,257.01L141.16,255.77L141.39,257.81L141.62,255.84L141.85,255.92L142.09,255.34L142.32,255.71L142.55,256.90L142.78,256.53L143.01,255.99L143.24,254.84L143.47,255.30L143.70,255.05L143.93,254.00L144.16,255.46L144.39,255.66L144.62,255.74L144.85,255.93L145.08,258.44L145.31,256.16L145.54,256.34L145.77,254.65L146.00,256.37L146.23,256.30L146.46,257.01L146.69,255.39L146.92,255.78L147.15,255.64L147.38,258.37L147.61,258.76L147.85,259.13L148.08,255.47L148.31,256.52L148.54,254.06L148.77,257.31L149.00,257.36L149.23,255.90L149.46,257.43L149.69,255.30L149.92,257.25L150.15,259.46L150.38,256.84L150.61,257.57L150.84,257.04L151.07,255.12L151.30,255.81L151.53,256.36L151.76,255.75L151.99,256.30L152.22,257.09L152.45,256.70L152.68,253.20L152.91,255.76L153.14,254.17L153.37,256.21L153.61,255.32L153.84,257.07L154.07,256.29L154.30,256.62L154.53,256.68L154.76,255.22L154.99,254.89L155.22,255.34L155.45,255.83L155.68,255.70L155.91,256.97L156.14,254.31L156.37,257.66L156.60,254.64L156.83,256.18L157.06,254.83L157.29,255.24L157.52,255.49L157.75,257.02L157.98,257.74L158.21,254.39L158.44,257.97L158.67,258.16L158.90,256.99L159.13,256.63L159.37,257.17L159.60,256.25L159.83,255.36L160.06,258.57L160.29,254.28L160.52,256.30L160.75,256.64L160.98,257.40L161.21,256.90L161.44,255.52L161.67,256.37L161.90,255.30L162.13,255.60L162.36,256.85L162.59,258.03L162.82,256.95L163.05,259.63L163.28,257.60L163.51,257.38L163.74,257.63L163.97,256.24L164.20,260.83L164.43,259.30L164.66,258.96L164.89,257.72L165.13,258.65L165.36,257.78L165.59,263.38L165.82,256.63L166.05,257.86L166.28,261.29L166.51,257.36L166.74,260.83L166.97,259.57L167.20,257.51L167.43,258.41L167.66,259.11L167.89,256.65L168.12,258.13L168.35,263.96L168.58,262.54L168.81,262.38L169.04,261.99L169.27,260.77L169.50,262.33L169.73,261.34L169.96,260.26L170.19,261.97L170.42,262.47L170.65,262.09L170.89,263.26L171.12,262.73L171.35,264.57L171.58,266.44L171.81,265.21L172.04,266.55L172.27,266.98L172.50,264.82L172.73,262.18L172.96,266.79L173.19,266.98L173.42,266.93L173.65,267.24L173.88,270.21L174.11,272.86L174.34,266.02L174.57,268.26L174.80,271.90L175.03,270.04L175.26,274.70L175.49,270.34L175.72,270.02L175.95,275.61L176.18,270.47L176.41,268.88L176.65,267.21L176.88,268.76L177.11,271.21L177.34,270.08L177.57,271.21L177.80,272.96L178.03,271.57L178.26,269.56L178.49,269.85L178.72,272.59L178.95,272.77L179.18,276.45L179.41,272.34L179.64,274.58L179.87,274.55L180.10,276.48L180.33,271.56L180.56,277.06L180.79,275.36L181.02,277.34L181.25,270.57L181.48,278.05L181.71,269.67L181.94,275.54L182.17,279.48L182.41,276.14L182.64,278.67L182.87,274.54L183.10,275.88L183.33,278.68L183.56,278.02L183.79,281.99L184.02,285.37L184.25,281.14L184.48,274.82L184.71,278.53L184.94,286.94L185.17,285.34L185.40,281.29L185.63,281.64L185.86,280.15L186.09,282.06L186.32,281.60L186.55,279.55L186.78,281.52L187.01,280.39L187.24,283.61L187.47,282.54L187.70,286.32L187.93,288.61L188.17,283.14L188.40,279.75L188.63,279.91L188.86,282.59L189.09,284.16L189.32,282.63L189.55,283.12L189.78,285.61L190.01,283.51L190.24,279.22L190.47,284.40L190.70,286.87L190.93,287.46L191.16,287.64L191.39,278.75L191.62,285.75L191.85,285.83L192.08,291.09L192.31,285.83L192.54,283.12L192.77,284.60L193.00,285.95L193.23,286.38L193.46,285.59L193.69,286.83L193.93,285.53L194.16,285.20L194.39,286.77L194.62,286.75L194.85,290.24L195.08,287.60L195.31,288.16L195.54,291.46L195.77,288.09L196.00,288.75L196.23,285.80L196.46,290.81L196.69,289.84L196.92,295.43L197.15,289.54L197.38,288.84L197.61,286.93L197.84,288.10L198.07,292.79L198.30,289.51L198.53,289.59L198.76,296.17L198.99,294.49L199.22,294.02L199.45,294.26L199.69,291.26L199.92,288.50L200.15,293.16L200.38,291.71L200.61,293.18L200.84,291.41L201.07,293.53L201.30,293.69L201.53,293.64L201.76,289.85L201.99,292.42L202.22,291.86L202.45,299.28L202.68,291.18L202.91,293.07L203.14,295.28L203.37,290.42L203.60,296.23L203.83,295.67L204.06,292.49L204.29,298.07L204.52,301.65L204.75,299.19L204.98,293.93L205.21,298.49L205.45,296.54L205.68,295.18L205.91,301.14L206.14,296.87L206.37,296.62L206.60,296.60L206.83,293.65L207.06,305.65L207.29,299.26L207.52,300.22L207.75,298.42L207.98,299.93L208.21,301.81L208.44,301.00L208.67,297.00L208.90,303.16L209.13,296.90L209.36,302.29L209.59,296.48L209.82,298.60L210.05,304.75L210.28,300.12L210.51,301.39L210.74,304.59L210.97,313.67L211.21,309.69L211.44,306.32L211.67,303.85L211.90,312.46L212.13,311.39L212.36,303.50" fill="none" stroke="#a0a0a0" stroke-width="2.4" clip-path="url(#cb)" />
<path d="M38.87,316.45L39.10,308.02L39.33,312.57L39.56,308.67L39.79,307.33L40.02,299.30L40.25,308.55L40.48,305.18L40.71,304.15L40.94,310.70L41.17,306.01L41.40,300.22L41.63,304.51L41.86,298.14L42.09,304.20L42.32,301.07L42.55,301.27L42.78,301.34L43.01,302.43L43.24,295.80L43.47,297.54L43.70,298.72L43.93,300.88L44.17,300.61L44.40,300.31L44.63,293.79L44.86,306.90L45.09,297.78L45.32,299.42L45.55,297.98L45.78,300.65L46.01,297.89L46.24,299.04L46.47,294.63L46.70,296.09L46.93,294.85L47.16,292.59L47.39,294.92L47.62,294.95L47.85,294.22L48.08,297.21L48.31,294.20L48.54,293.79L48.77,289.04L49.00,290.63L49.23,290.65L49.46,301.07L49.69,294.96L49.93,292.95L50.16,295.17L50.39,291.19L50.62,289.17L50.85,291.05L51.08,290.95L51.31,292.04L51.54,286.89L51.77,291.95L52.00,291.90L52.23,290.23L52.46,293.15L52.69,290.78L52.92,294.89L53.15,290.57L53.38,292.94L53.61,291.20L53.84,287.90L54.07,289.68L54.30,281.43L54.53,295.37L54.76,296.15L54.99,286.19L55.22,289.76L55.45,288.03L55.69,286.02L55.92,288.85L56.15,287.96L56.38,287.80L56.61,289.33L56.84,288.31L57.07,288.88L57.30,287.17L57.53,286.77L57.76,287.22L57.99,285.28L58.22,286.62L58.45,284.97L58.68,284.43L58.91,285.06L59.14,287.39L59.37,288.28L59.60,282.63L59.83,280.23L60.06,287.12L60.29,279.83L60.52,280.87L60.75,287.31L60.98,283.93L61.21,281.40L61.45,282.89L61.68,286.42L61.91,282.73L62.14,282.83L62.37,283.27L62.60,278.22L62.83,286.49L63.06,280.34L63.29,278.41L63.52,280.89L63.75,283.63L63.98,283.59L64.21,282.99L64.44,282.09L64.67,284.88L64.90,281.14L65.13,280.65L65.36,278.46L65.59,278.85L65.82,279.08L66.05,283.15L66.28,280.58L66.51,281.46L66.74,274.29L66.97,272.93L67.21,279.07L67.44,282.96L67.67,284.93L67.90,278.56L68.13,277.50L68.36,284.06L68.59,275.58L68.82,281.21L69.05,277.47L69.28,277.52L69.51,273.02L69.74,277.73L69.97,275.23L70.20,272.77L70.43,276.06L70.66,271.48L70.89,276.53L71.12,275.12L71.35,274.82L71.58,275.20L71.81,274.02L72.04,272.14L72.27,275.25L72.50,274.21L72.73,274.41L72.97,276.01L73.20,276.22L73.43,272.80L73.66,268.68L73.89,267.76L74.12,266.20L74.35,271.05L74.58,271.28L74.81,270.37L75.04,268.54L75.27,264.49L75.50,270.36L75.73,269.99L75.96,271.04L76.19,268.69L76.42,270.35L76.65,268.69L76.88,270.38L77.11,267.84L77.34,265.95L77.57,265.08L77.80,268.17L78.03,265.81L78.26,264.64L78.49,265.61L78.73,262.19L78.96,265.88L79.19,266.36L79.42,263.57L79.65,265.03L79.88,266.14L80.11,264.11L80.34,265.99L80.57,262.61L80.80,262.82L81.03,263.49L81.26,263.66L81.49,266.76L81.72,259.66L81.95,261.80L82.18,261.96L82.41,261.39L82.64,258.73L82.87,262.48L83.10,260.45L83.33,260.33L83.56,259.37L83.79,262.27L84.02,260.32L84.25,261.09L84.49,255.98L84.72,255.58L84.95,257.56L85.18,259.34L85.41,259.19L85.64,259.86L85.87,256.51L86.10,259.24L86.33,258.25L86.56,254.50L86.79,258.23L87.02,259.99L87.25,258.58L87.48,258.59L87.71,259.39L87.94,259.70L88.17,257.97L88.40,258.32L88.63,256.28L88.86,258.87L89.09,256.96L89.32,257.37L89.55,256.34L89.78,253.81L90.01,260.47L90.25,257.15L90.48,257.25L90.71,257.05L90.94,255.52L91.17,256.96L91.40,256.99L91.63,254.94L91.86,257.82L92.09,257.60L92.32,259.92L92.55,256.68L92.78,255.45L93.01,256.48L93.24,256.51L93.47,258.33L93.70,255.99L93.93,257.88L94.16,256.45L94.39,256.52L94.62,256.11L94.85,256.21L95.08,257.69L95.31,257.18L95.54,256.17L95.77,258.86L96.01,256.99L96.24,256.09L96.47,256.40L96.70,255.79L96.93,255.74L97.16,256.23L97.39,255.12L97.62,255.87L97.85,255.94L98.08,255.36L98.31,255.16L98.54,258.59L98.77,256.12L99.00,258.31L99.23,253.96L99.46,255.07L99.69,256.58L99.92,256.28L100.15,255.71L100.38,256.48L100.61,255.15L100.84,255.20L101.07,256.39L101.30,255.93L101.53,256.43L101.77,256.55L102.00,256.45L102.23,255.68L102.46,255.81L102.69,256.10L102.92,255.00L103.15,253.14L103.38,256.11L103.61,256.51L103.84,256.15L104.07,255.48L104.30,256.92L104.53,256.30L104.76,256.13L104.99,256.88L105.22,258.17L105.45,256.82L105.68,254.17L105.91,257.08L106.14,256.82L106.37,256.28L106.60,258.35L106.83,256.87L107.06,257.37L107.29,255.85L107.53,255.45L107.76,255.19L107.99,256.74L108.22,256.62L108.45,256.32L108.68,257.51L108.91,256.08L109.14,255.33L109.37,257.37L109.60,254.79L109.83,258.11L110.06,254.64L110.29,255.29L110.52,253.07L110.75,257.59L110.98,255.38L111.21,254.99L111.44,255.70L111.67,256.23L111.90,254.25L112.13,257.13L112.36,256.24L112.59,255.79L112.82,258.05L113.05,256.45L113.29,255.80L113.52,256.90L113.75,254.84L113.98,253.06L114.21,256.74L114.44,253.50L114.67,257.76L114.90,257.71L115.13,256.24L115.36,256.20L115.59,254.41L115.82,256.66L116.05,256.34L116.28,256.18L116.51,256.94L116.74,257.59L116.97,257.69L117.20,259.35L117.43,257.37L117.66,255.61L117.89,255.79L118.12,258.33L118.35,255.82L118.58,256.25L118.81,257.07L119.05,254.85L119.28,256.21L119.51,255.74L119.74,256.69L119.97,255.30L120.20,256.65L120.43,256.70L120.66,254.34L120.89,254.99L121.12,256.13L121.35,258.09L121.58,256.02L121.81,257.61L122.04,253.74L122.27,255.35L122.50,255.98L122.73,258.69L122.96,255.09L123.19,253.48L123.42,256.63L123.65,256.67L123.88,253.93L124.11,256.61L124.34,256.16L124.57,255.88L124.81,255.39L125.04,253.90L125.27,256.05L125.50,255.85L125.73,255.93L125.96,259.34L126.19,256.10L126.42,256.99L126.65,256.37L126.88,258.68L127.11,257.56L127.34,255.49L127.57,256.89L127.80,256.01L128.03,255.39L128.26,256.28L128.49,257.38L128.72,254.57L128.95,256.54L129.18,255.72L129.41,257.29L129.64,255.13L129.87,258.83L130.10,257.44L130.33,256.06L130.57,254.10L130.80,253.76L131.03,254.97L131.26,256.86L131.49,256.11L131.72,257.63L131.95,257.21L132.18,256.87L132.41,255.64L132.64,256.19L132.87,255.99L133.10,255.92L133.33,257.47L133.56,256.96L133.79,256.32L134.02,255.90L134.25,258.33L134.48,256.21L134.71,255.14L134.94,256.48L135.17,253.84L135.40,255.86L135.63,254.50L135.86,255.67L136.09,258.96L136.33,255.14L136.56,254.53L136.79,256.27L137.02,253.35L137.25,255.32L137.48,256.18L137.71,257.30L137.94,256.70L138.17,256.59L138.40,255.40L138.63,254.79L138.86,256.31L139.09,255.86L139.32,256.58L139.55,256.71L139.78,256.55L140.01,256.62L140.24,256.43L140.47,256.17L140.70,256.94L140.93,257.03L141.16,256.61L141.39,258.35L141.62,256.33L141.85,256.70L142.09,257.40L142.32,254.65L142.55,257.03L142.78,257.60L143.01,258.98L143.24,256.08L143.47,257.13L143.70,256.61L143.93,256.49L144.16,257.24L144.39,256.08L144.62,256.08L144.85,256.67L145.08,256.42L145.31,255.86L145.54,255.09L145.77,256.32L146.00,254.01L146.23,256.08L146.46,256.67L146.69,256.08L146.92,256.55L147.15,256.21L147.38,256.30L147.61,254.47L147.85,255.61L148.08,255.99L148.31,254.74L148.54,255.58L148.77,257.01L149.00,256.91L149.23,255.09L149.46,256.04L149.69,255.89L149.92,255.62L150.15,256.27L150.38,256.80L150.61,254.40L150.84,254.64L151.07,256.21L151.30,255.48L151.53,256.41L151.76,255.41L151.99,256.14L152.22,256.00L152.45,255.94L152.68,254.72L152.91,255.33L153.14,256.83L153.37,257.57L153.61,256.14L153.84,253.63L154.07,258.32L154.30,256.80L154.53,256.40L154.76,255.28L154.99,255.07L155.22,256.75L155.45,256.47L155.68,256.61L155.91,257.02L156.14,256.76L156.37,256.56L156.60,257.08L156.83,255.22L157.06,256.33L157.29,256.00L157.52,256.12L157.75,256.47L157.98,255.45L158.21,255.46L158.44,256.17L158.67,255.98L158.90,257.91L159.13,253.07L159.37,255.15L159.60,254.39L159.83,256.22L160.06,257.77L160.29,256.62L160.52,256.52L160.75,254.62L160.98,257.07L161.21,256.47L161.44,255.66L161.67,256.65L161.90,256.89L162.13,257.34L162.36,256.59L162.59,257.23L162.82,258.39L163.05,255.72L163.28,259.10L163.51,257.93L163.74,258.85L163.97,257.91L164.20,256.86L164.43,256.50L164.66,258.99L164.89,258.73L165.13,259.34L165.36,256.80L165.59,260.06L165.82,259.65L166.05,260.97L166.28,257.94L166.51,259.51L166.74,260.86L166.97,259.92L167.20,258.33L167.43,259.35L167.66,260.97L167.89,260.16L168.12,261.37L168.35,260.33L168.58,257.74L168.81,261.17L169.04,258.82L169.27,262.29L169.50,262.34L169.73,261.60L169.96,264.08L170.19,263.15L170.42,262.60L170.65,262.81L170.89,267.54L171.12,264.63L171.35,262.79L171.58,263.12L171.81,261.92L172.04,268.36L172.27,262.80L172.50,265.66L172.73,264.59L172.96,263.19L173.19,265.11L173.42,266.67L173.65,267.55L173.88,266.68L174.11,267.88L174.34,266.82L174.57,271.26L174.80,267.65L175.03,270.64L175.26,270.03L175.49,270.21L175.72,264.73L175.95,268.67L176.18,271.52L176.41,268.42L176.65,270.00L176.88,273.97L177.11,272.76L177.34,270.62L177.57,271.56L177.80,270.81L178.03,269.84L178.26,272.82L178.49,267.66L178.72,272.86L178.95,270.73L179.18,274.57L179.41,273.14L179.64,275.46L179.87,274.79L180.10,275.43L180.33,271.56L180.56,274.95L180.79,274.73L181.02,273.25L181.25,275.66L181.48,277.56L181.71,278.35L181.94,275.23L182.17,278.17L182.41,274.21L182.64,276.45L182.87,276.79L183.10,278.86L183.33,279.31L183.56,279.44L183.79,278.39L184.02,280.03L184.25,274.56L184.48,281.09L184.71,278.20L184.94,278.68L185.17,280.69L185.40,283.58L185.63,279.65L185.86,285.51L186.09,282.41L186.32,279.51L186.55,278.40L186.78,281.61L187.01,282.47L187.24,282.71L187.47,280.82L187.70,280.78L187.93,276.04L188.17,284.33L188.40,281.93L188.63,284.17L188.86,286.90L189.09,282.82L189.32,282.26L189.55,282.66L189.78,290.36L190.01,285.39L190.24,283.98L190.47,286.31L190.70,283.02L190.93,283.50L191.16,289.13L191.39,288.55L191.62,280.09L191.85,288.28L192.08,282.79L192.31,288.75L192.54,288.89L192.77,289.75L193.00,288.63L193.23,284.55L193.46,287.14L193.69,282.98L193.93,282.84L194.16,287.30L194.39,293.17L194.62,283.59L194.85,295.42L195.08,285.50L195.31,293.09L195.54,293.92L195.77,289.26L196.00,292.03L196.23,289.23L196.46,286.42L196.69,288.49L196.92,291.73L197.15,287.06L197.38,292.61L197.61,289.09L197.84,287.84L198.07,289.37L198.30,293.14L198.53,291.99L198.76,292.67L198.99,291.35L199.22,288.73L199.45,287.94L199.69,293.26L199.92,290.70L200.15,297.74L200.38,288.00L200.61,292.74L200.84,292.14L201.07,289.40L201.30,294.36L201.53,299.45L201.76,297.29L201.99,294.96L202.22,295.03L202.45,292.87L202.68,295.30L202.91,293.39L203.14,299.66L203.37,294.73L203.60,298.52L203.83,294.60L204.06,292.62L204.29,297.65L204.52,292.71L204.75,297.63L204.98,298.50L205.21,298.38L205.45,297.97L205.68,288.08L205.91,302.12L206.14,295.87L206.37,298.56L206.60,296.68L206.83,298.27L207.06,295.49L207.29,297.79L207.52,296.42L207.75,297.98L207.98,300.72L208.21,303.25L208.44,297.55L208.67,300.03L208.90,300.09L209.13,296.71L209.36,300.05L209.59,304.03L209.82,302.00L210.05,302.07L210.28,302.39L210.51,304.55L210.74,304.10L210.97,306.31L211.21,306.19L211.44,310.11L211.67,309.08L211.90,309.32L212.13,312.89L212.36,316.14" fill="none" stroke="#000" stroke-width="1.1" clip-path="url(#cb)" />
<path d="M38.87,316.34L39.17,313.50L39.48,309.34L39.79,303.97L40.09,299.76L40.40,298.72L40.71,300.23L41.02,300.53L41.32,297.16L41.63,291.97L41.94,291.74L42.25,295.53L42.55,296.55L42.86,290.78L43.17,287.88L43.47,292.47L43.78,292.05L44.09,290.31L44.40,290.48L44.70,288.76L45.01,288.33L45.32,286.13L45.62,284.62L45.93,285.98L46.24,284.80L46.55,282.17L46.85,285.00L47.16,286.31L47.47,284.90L47.77,284.41L48.08,284.51L48.39,283.83L48.70,281.56L49.00,281.66L49.31,282.77L49.62,282.51L49.93,282.18L50.23,283.20L50.54,280.88L50.85,280.14L51.15,278.40L51.46,275.42L51.77,279.60L52.08,279.86L52.38,278.23L52.69,278.22L53.00,276.27L53.30,278.74L53.61,278.78L53.92,276.07L54.23,274.13L54.53,275.08L54.84,275.08L55.15,274.67L55.45,275.80L55.76,275.16L56.07,272.53L56.38,270.42L56.68,268.88L56.99,268.53L57.30,270.29L57.61,269.77L57.91,271.32L58.22,272.17L58.53,269.44L58.83,269.55L59.14,270.68L59.45,269.92L59.76,269.11L60.06,269.22L60.37,269.82L60.68,268.78L60.98,268.17L61.29,269.16L61.60,267.92L61.91,268.10L62.21,270.18L62.52,269.83L62.83,267.05L63.13,265.70L63.44,267.54L63.75,268.07L64.06,266.22L64.36,265.81L64.67,267.32L64.98,265.21L65.29,264.81L65.59,265.49L65.90,263.93L66.21,263.76L66.51,263.50L66.82,261.37L67.13,261.55L67.44,263.85L67.74,264.84L68.05,263.46L68.36,261.67L68.66,260.89L68.97,260.67L69.28,261.04L69.59,260.94L69.89,260.62L70.20,259.43L70.51,258.93L70.81,258.60L71.12,256.13L71.43,255.39L71.74,258.06L72.04,256.51L72.35,254.40L72.66,256.27L72.97,255.34L73.27,254.08L73.58,254.92L73.89,255.01L74.19,254.89L74.50,253.91L74.81,251.85L75.12,251.77L75.42,251.92L75.73,249.86L76.04,250.79L76.34,251.69L76.65,250.66L76.96,251.31L77.27,251.50L77.57,250.40L77.88,249.01L78.19,249.05L78.49,248.98L78.80,247.76L79.11,247.25L79.42,246.80L79.72,246.32L80.03,246.17L80.34,244.84L80.65,244.31L80.95,244.93L81.26,244.40L81.57,244.59L81.87,244.77L82.18,243.29L82.49,242.32L82.80,241.53L83.10,241.60L83.41,243.08L83.72,241.77L84.02,240.16L84.33,241.63L84.64,241.30L84.95,240.56L85.25,242.08L85.56,242.15L85.87,241.34L86.17,240.22L86.48,240.26L86.79,241.05L87.10,240.72L87.40,240.70L87.71,240.91L88.02,240.57L88.33,239.63L88.63,239.40L88.94,240.19L89.25,240.85L89.55,240.35L89.86,240.11L90.17,240.34L90.48,240.64L90.78,239.61L91.09,238.63L91.40,239.63L91.70,239.59L92.01,238.77L92.32,239.82L92.63,240.38L92.93,239.70L93.24,239.29L93.55,239.19L93.85,239.42L94.16,239.37L94.47,238.79L94.78,238.21L95.08,238.82L95.39,239.60L95.70,238.77L96.01,238.78L96.31,239.62L96.62,239.36L96.93,239.09L97.23,238.83L97.54,238.86L97.85,239.35L98.16,239.32L98.46,239.04L98.77,238.69L99.08,238.76L99.38,239.59L99.69,239.86L100.00,239.14L100.31,239.02L100.61,239.94L100.92,239.95L101.23,239.42L101.53,238.97L101.84,239.24L102.15,239.38L102.46,238.92L102.76,239.27L103.07,239.53L103.38,238.91L103.69,238.42L103.99,238.66L104.30,239.03L104.61,238.96L104.91,239.09L105.22,239.42L105.53,239.61L105.84,239.59L106.14,239.40L106.45,238.70L106.76,238.74L107.06,239.13L107.37,238.75L107.68,239.13L107.99,239.18L108.29,239.70L108.60,239.99L108.91,239.22L109.21,239.87L109.52,240.40L109.83,239.52L110.14,239.30L110.44,239.86L110.75,239.90L111.06,239.76L111.37,239.49L111.67,239.24L111.98,239.51L112.29,239.81L112.59,239.76L112.90,239.26L113.21,239.16L113.52,239.35L113.82,239.49L114.13,239.99L114.44,240.15L114.74,239.65L115.05,239.45L115.36,239.86L115.67,240.31L115.97,240.06L116.28,239.74L116.59,239.87L116.89,239.87L117.20,239.72L117.51,239.56L117.82,239.40L118.12,239.24L118.43,239.15L118.74,239.19L119.05,239.63L119.35,239.86L119.66,239.65L119.97,239.72L120.27,239.71L120.58,239.34L120.89,239.69L121.20,240.45L121.50,239.94L121.81,239.49L122.12,239.62L122.42,239.97L122.73,239.71L123.04,239.18L123.35,239.66L123.65,239.94L123.96,239.88L124.27,239.84L124.57,239.94L124.88,240.18L125.19,239.79L125.50,239.51L125.80,239.82L126.11,239.78L126.42,240.41L126.73,240.29L127.03,239.77L127.34,239.98L127.65,239.87L127.95,240.05L128.26,239.85L128.57,239.77L128.88,240.22L129.18,240.26L129.49,239.98L129.80,239.56L130.10,239.75L130.41,240.33L130.72,239.89L131.03,239.77L131.33,239.73L131.64,239.47L131.95,239.95L132.25,240.09L132.56,239.79L132.87,239.39L133.18,239.55L133.48,239.53L133.79,238.93L134.10,239.22L134.41,240.05L134.71,240.26L135.02,240.31L135.33,240.20L135.63,240.02L135.94,240.18L136.25,239.85L136.56,240.17L136.86,240.64L137.17,239.44L137.48,238.83L137.78,239.20L138.09,239.34L138.40,239.01L138.71,238.98L139.01,239.41L139.32,239.85L139.63,239.88L139.93,239.75L140.24,239.90L140.55,239.88L140.86,239.71L141.16,239.60L141.47,239.35L141.78,239.60L142.09,239.86L142.39,239.03L142.70,238.97L143.01,239.13L143.31,238.84L143.62,238.80L143.93,238.89L144.24,239.57L144.54,239.82L144.85,239.56L145.16,239.88L145.46,239.89L145.77,239.81L146.08,240.11L146.39,239.72L146.69,239.30L147.00,239.52L147.31,239.75L147.61,239.70L147.92,239.55L148.23,239.51L148.54,239.42L148.84,239.42L149.15,239.30L149.46,239.05L149.77,239.05L150.07,239.35L150.38,239.59L150.69,239.31L150.99,239.19L151.30,239.31L151.61,239.90L151.92,240.58L152.22,239.84L152.53,239.06L152.84,238.79L153.14,238.68L153.45,238.98L153.76,239.16L154.07,239.59L154.37,239.36L154.68,239.15L154.99,239.25L155.29,239.04L155.60,239.10L155.91,238.93L156.22,239.14L156.52,239.48L156.83,239.61L157.14,239.63L157.45,238.95L157.75,238.96L158.06,239.12L158.37,238.78L158.67,238.95L158.98,238.98L159.29,239.59L159.60,239.79L159.90,238.92L160.21,239.34L160.52,239.99L160.82,240.05L161.13,239.97L161.44,240.18L161.75,239.72L162.05,239.49L162.36,240.87L162.67,240.02L162.97,238.99L163.28,239.60L163.59,239.85L163.90,240.32L164.20,240.74L164.51,240.31L164.82,239.85L165.13,239.84L165.43,240.30L165.74,241.14L166.05,241.49L166.35,240.82L166.66,240.11L166.97,241.05L167.28,242.29L167.58,241.61L167.89,241.13L168.20,241.68L168.50,243.17L168.81,244.17L169.12,244.10L169.43,244.19L169.73,245.37L170.04,245.19L170.35,244.41L170.65,245.41L170.96,246.84L171.27,247.59L171.58,246.33L171.88,247.75L172.19,248.82L172.50,247.61L172.81,248.64L173.11,248.90L173.42,248.97L173.73,248.99L174.03,248.68L174.34,249.74L174.65,248.94L174.96,248.80L175.26,249.65L175.57,251.55L175.88,253.44L176.18,252.21L176.49,251.35L176.80,252.45L177.11,252.96L177.41,254.21L177.72,255.12L178.03,255.65L178.33,256.00L178.64,255.88L178.95,257.19L179.26,257.17L179.56,255.43L179.87,256.80L180.18,259.40L180.49,257.92L180.79,258.14L181.10,257.85L181.41,257.59L181.71,259.51L182.02,259.72L182.33,258.46L182.64,258.49L182.94,259.98L183.25,260.69L183.56,263.06L183.86,264.52L184.17,261.77L184.48,260.33L184.79,261.62L185.09,262.10L185.40,263.49L185.71,264.11L186.01,264.79L186.32,265.05L186.63,265.16L186.94,266.13L187.24,265.17L187.55,265.61L187.86,265.71L188.17,265.15L188.47,265.78L188.78,265.10L189.09,267.50L189.39,271.18L189.70,269.09L190.01,266.45L190.32,265.10L190.62,265.61L190.93,267.31L191.24,269.57L191.54,269.97L191.85,268.38L192.16,270.90L192.47,273.14L192.77,272.28L193.08,271.11L193.39,274.97L193.69,275.55L194.00,271.81L194.31,272.41L194.62,272.64L194.92,272.10L195.23,274.06L195.54,274.40L195.85,273.68L196.15,275.79L196.46,275.48L196.77,272.49L197.07,275.05L197.38,279.66L197.69,280.27L198.00,275.60L198.30,273.97L198.61,277.15L198.92,278.26L199.22,279.86L199.53,282.00L199.84,280.79L200.15,277.87L200.45,281.35L200.76,283.64L201.07,282.23L201.37,281.12L201.68,280.05L201.99,278.71L202.30,277.40L202.60,277.86L202.91,278.25L203.22,282.00L203.53,285.28L203.83,282.09L204.14,281.14L204.45,283.25L204.75,287.19L205.06,290.57L205.37,286.73L205.68,283.69L205.98,285.80L206.29,287.53L206.60,290.41L206.90,289.78L207.21,286.03L207.52,284.78L207.83,287.32L208.13,291.35L208.44,294.27L208.75,292.88L209.05,289.13L209.36,293.12L209.67,296.33L209.98,295.86L210.28,298.10L210.59,303.41L210.90,304.12L211.21,300.25L211.51,303.97L211.82,308.63" fill="none" stroke="#ee2222" stroke-width="1.3" stroke-dasharray="2.4 1.8" clip-path="url(#cb)" />
<path d="M39.25,221.04L39.68,219.05L40.12,217.43L40.55,216.60L40.98,216.06L41.42,215.61L41.85,215.27L42.28,215.05L42.71,214.98L43.15,215.00L43.58,215.05L44.01,215.12L44.45,215.21L44.88,215.31L45.31,215.41L45.75,215.53L46.18,215.68L46.61,215.85L47.05,216.05L47.48,216.27L47.91,216.51L48.34,216.76L48.78,217.02L49.21,217.29L49.64,217.55L50.08,217.82L50.51,218.09L50.94,218.36L51.38,218.64L51.81,218.93L52.24,219.23L52.68,219.55L53.11,219.87L53.54,220.19L53.97,220.52L54.41,220.86L54.84,221.20L55.27,221.54L55.71,221.89L56.14,222.24L56.57,222.58L57.01,222.93L57.44,223.27L57.87,223.61L58.31,223.96L58.74,224.30L59.17,224.65L59.60,225.00L60.04,225.35L60.47,225.71L60.90,226.07L61.34,226.43L61.77,226.79L62.20,227.15L62.64,227.52L63.07,227.89L63.50,228.27L63.94,228.64L64.37,229.02L64.80,229.41L65.23,229.79L65.67,230.18L66.10,230.58L66.53,230.98L66.97,231.38L67.40,231.78L67.83,232.19L68.27,232.60L68.70,233.02L69.13,233.43L69.57,233.85L70.00,234.26L70.43,234.68L70.87,235.10L71.30,235.55L71.73,236.01L72.16,236.50L72.60,236.99L73.03,237.49L73.46,237.98L73.90,238.47L74.33,238.93L74.76,239.37L75.20,239.78L75.63,240.14L76.06,240.47L76.50,240.73L76.93,240.97L77.36,241.22L77.79,241.45L78.23,241.67L78.66,241.86L79.09,242.03L79.53,242.15L79.96,242.23L80.39,242.25L80.83,242.23L81.26,242.16L81.69,242.07L82.13,241.95L82.56,241.80L82.99,241.63L83.42,241.44L83.86,241.24L84.29,241.03L84.72,240.81L85.16,240.59L85.59,240.37L86.02,240.15L86.46,239.94L86.89,239.75L87.32,239.57L87.76,239.41L88.19,239.28L88.62,239.17L89.05,239.06L89.49,238.96L89.92,238.86L90.35,238.76L90.79,238.67L91.22,238.58L91.65,238.49L92.09,238.40L92.52,238.32L92.95,238.24L93.39,238.16L93.82,238.09L94.25,238.02L94.68,237.95L95.12,237.89L95.55,237.83L95.98,237.77L96.42,237.71L96.85,237.66L97.28,237.60L97.72,237.55L98.15,237.50L98.58,237.44L99.02,237.39L99.45,237.34L99.88,237.29L100.31,237.24L100.75,237.19L101.18,237.14L101.61,237.10L102.05,237.06L102.48,237.02L102.91,236.98L103.35,236.95L103.78,236.91L104.21,236.89L104.65,236.86L105.08,236.84L105.51,236.82L105.94,236.81L106.38,236.80L106.81,236.79L107.24,236.78L107.68,236.78L108.11,236.77L108.54,236.76L108.98,236.76L109.41,236.75L109.84,236.75L110.28,236.74L110.71,236.74L111.14,236.73L111.57,236.73L112.01,236.72L112.44,236.72L112.87,236.71L113.31,236.71L113.74,236.70L114.17,236.70L114.61,236.69L115.04,236.69L115.47,236.69L115.91,236.68L116.34,236.68L116.77,236.68L117.20,236.67L117.64,236.67L118.07,236.67L118.50,236.67L118.94,236.66L119.37,236.66L119.80,236.66L120.24,236.66L120.67,236.65L121.10,236.65L121.54,236.65L121.97,236.65L122.40,236.65L122.83,236.65L123.27,236.65L123.70,236.65L124.13,236.65L124.57,236.64L125.00,236.64L125.43,236.64L125.87,236.64L126.30,236.64L126.73,236.64L127.17,236.65L127.60,236.65L128.03,236.65L128.47,236.65L128.90,236.65L129.33,236.65L129.76,236.65L130.20,236.65L130.63,236.65L131.06,236.66L131.50,236.66L131.93,236.66L132.36,236.66L132.80,236.67L133.23,236.67L133.66,236.67L134.10,236.67L134.53,236.68L134.96,236.68L135.39,236.68L135.83,236.69L136.26,236.69L136.69,236.69L137.13,236.70L137.56,236.70L137.99,236.71L138.43,236.71L138.86,236.72L139.29,236.72L139.73,236.73L140.16,236.73L140.59,236.74L141.02,236.74L141.46,236.75L141.89,236.75L142.32,236.76L142.76,236.76L143.19,236.77L143.62,236.78L144.06,236.78L144.49,236.79L144.92,236.80L145.36,236.81L145.79,236.82L146.22,236.84L146.65,236.86L147.09,236.89L147.52,236.91L147.95,236.95L148.39,236.98L148.82,237.02L149.25,237.06L149.69,237.10L150.12,237.14L150.55,237.19L150.99,237.24L151.42,237.29L151.85,237.34L152.28,237.39L152.72,237.44L153.15,237.50L153.58,237.55L154.02,237.60L154.45,237.66L154.88,237.71L155.32,237.77L155.75,237.83L156.18,237.89L156.62,237.95L157.05,238.02L157.48,238.09L157.91,238.16L158.35,238.24L158.78,238.32L159.21,238.40L159.65,238.49L160.08,238.58L160.51,238.67L160.95,238.76L161.38,238.86L161.81,238.96L162.25,239.06L162.68,239.17L163.11,239.28L163.54,239.41L163.98,239.57L164.41,239.75L164.84,239.94L165.28,240.15L165.71,240.37L166.14,240.59L166.58,240.81L167.01,241.03L167.44,241.24L167.88,241.44L168.31,241.63L168.74,241.80L169.17,241.95L169.61,242.07L170.04,242.16L170.47,242.23L170.91,242.25L171.34,242.23L171.77,242.15L172.21,242.03L172.64,241.86L173.07,241.67L173.51,241.45L173.94,241.22L174.37,240.97L174.80,240.73L175.24,240.47L175.67,240.14L176.10,239.78L176.54,239.37L176.97,238.93L177.40,238.47L177.84,237.98L178.27,237.49L178.70,236.99L179.14,236.50L179.57,236.01L180.00,235.55L180.43,235.10L180.87,234.68L181.30,234.26L181.73,233.85L182.17,233.43L182.60,233.02L183.03,232.60L183.47,232.19L183.90,231.78L184.33,231.38L184.77,230.98L185.20,230.58L185.63,230.18L186.07,229.79L186.50,229.41L186.93,229.02L187.36,228.64L187.80,228.27L188.23,227.89L188.66,227.52L189.10,227.15L189.53,226.79L189.96,226.43L190.40,226.07L190.83,225.71L191.26,225.35L191.70,225.00L192.13,224.65L192.56,224.30L192.99,223.96L193.43,223.61L193.86,223.27L194.29,222.93L194.73,222.58L195.16,222.24L195.59,221.89L196.03,221.54L196.46,221.20L196.89,220.86L197.33,220.52L197.76,220.19L198.19,219.87L198.62,219.55L199.06,219.23L199.49,218.93L199.92,218.64L200.36,218.36L200.79,218.09L201.22,217.82L201.66,217.55L202.09,217.29L202.52,217.02L202.96,216.76L203.39,216.51L203.82,216.27L204.25,216.05L204.69,215.85L205.12,215.68L205.55,215.53L205.99,215.41L206.42,215.31L206.85,215.21L207.29,215.12L207.72,215.05L208.15,215.00L208.59,214.98L209.02,215.05L209.45,215.27L209.88,215.61L210.32,216.06L210.75,216.60L211.18,217.43L211.62,219.05L212.05,221.04" fill="none" stroke="#55b53a" stroke-width="1.3" stroke-dasharray="2.8 2.8" clip-path="url(#cb)" />
<path d="M39.25,243.35L39.63,241.45L40.02,239.74L40.40,238.43L40.79,237.54L41.17,236.64L41.55,236.21L41.94,235.51L42.32,235.07L42.71,234.82L43.09,234.36L43.47,234.24L43.86,234.07L44.24,234.16L44.63,234.24L45.01,234.12L45.39,234.20L45.78,234.39L46.16,234.74L46.55,235.20L46.93,235.42L47.31,235.70L47.70,235.81L48.08,236.02L48.47,236.03L48.85,236.14L49.23,236.39L49.62,236.88L50.00,237.15L50.39,237.37L50.77,237.60L51.15,237.70L51.54,237.85L51.92,237.98L52.31,238.14L52.69,238.23L53.07,238.42L53.46,238.77L53.84,239.21L54.23,239.49L54.61,239.91L54.99,240.22L55.38,240.59L55.76,240.59L56.15,240.66L56.53,240.65L56.91,240.80L57.30,241.19L57.68,241.29L58.07,241.70L58.45,242.13L58.83,242.44L59.22,242.71L59.60,242.81L59.99,243.11L60.37,243.60L60.75,243.83L61.14,244.28L61.52,244.73L61.91,245.18L62.29,245.55L62.67,245.73L63.06,246.19L63.44,246.46L63.83,246.73L64.21,247.14L64.59,247.84L64.98,248.43L65.36,248.81L65.75,249.51L66.13,250.13L66.51,250.74L66.90,250.95L67.28,251.26L67.67,251.68L68.05,252.07L68.43,252.45L68.82,252.81L69.20,253.38L69.59,253.76L69.97,254.26L70.35,254.70L70.74,255.07L71.12,255.26L71.51,255.46L71.89,255.91L72.27,256.05L72.66,256.37L73.04,256.66L73.43,257.04L73.81,257.65L74.19,258.10L74.58,258.85L74.96,259.32L75.35,259.92L75.73,260.73L76.11,261.19L76.50,261.71L76.88,262.08L77.27,262.34L77.65,262.61L78.03,262.79L78.42,262.92L78.80,262.89L79.19,262.92L79.57,263.01L79.95,263.33L80.34,263.16L80.72,262.98L81.11,262.90L81.49,262.45L81.87,262.03L82.26,261.51L82.64,261.36L83.03,261.38L83.41,261.26L83.79,261.29L84.18,261.32L84.56,261.30L84.95,261.21L85.33,260.93L85.71,261.00L86.10,260.96L86.48,260.83L86.87,260.62L87.25,260.40L87.63,260.38L88.02,260.15L88.40,260.11L88.79,259.87L89.17,259.76L89.55,259.68L89.94,259.60L90.32,259.52L90.71,259.16L91.09,259.15L91.47,259.04L91.86,258.76L92.24,258.72L92.63,258.58L93.01,258.55L93.39,258.38L93.78,258.44L94.16,258.54L94.55,258.37L94.93,258.28L95.31,258.22L95.70,258.22L96.08,257.96L96.47,257.87L96.85,257.64L97.23,257.65L97.62,257.63L98.00,257.78L98.39,258.04L98.77,258.23L99.15,258.29L99.54,258.18L99.92,258.37L100.31,258.08L100.69,257.81L101.07,257.68L101.46,257.76L101.84,257.77L102.23,257.71L102.61,257.60L102.99,257.73L103.38,257.72L103.76,257.71L104.15,257.77L104.53,257.72L104.91,257.91L105.30,257.98L105.68,258.05L106.07,258.09L106.45,257.93L106.83,257.93L107.22,258.05L107.60,257.89L107.99,257.89L108.37,257.83L108.75,257.81L109.14,257.67L109.52,257.56L109.91,257.43L110.29,257.35L110.67,257.37L111.06,257.63L111.44,257.66L111.83,257.59L112.21,257.80L112.59,257.56L112.98,257.40L113.36,257.12L113.75,257.24L114.13,257.27L114.51,257.16L114.90,257.54L115.28,257.64L115.67,257.75L116.05,257.80L116.43,257.78L116.82,257.61L117.20,257.32L117.59,257.40L117.97,257.40L118.35,257.11L118.74,257.24L119.12,257.41L119.51,257.47L119.89,257.37L120.27,257.17L120.66,257.43L121.04,257.23L121.43,257.24L121.81,257.25L122.19,257.43L122.58,257.56L122.96,257.45L123.35,257.86L123.73,258.02L124.11,258.13L124.50,258.06L124.88,258.15L125.27,258.20L125.65,257.75L126.03,257.51L126.42,257.40L126.80,257.16L127.19,256.89L127.57,256.76L127.95,257.04L128.34,257.11L128.72,256.96L129.11,257.20L129.49,257.42L129.87,257.37L130.26,257.13L130.64,257.08L131.03,257.19L131.41,257.10L131.79,257.16L132.18,257.16L132.56,257.19L132.95,257.32L133.33,257.43L133.71,257.30L134.10,257.15L134.48,257.33L134.87,257.59L135.25,257.53L135.63,257.39L136.02,257.42L136.40,257.45L136.79,257.53L137.17,257.37L137.55,257.42L137.94,257.58L138.32,257.42L138.71,257.51L139.09,257.34L139.47,257.38L139.86,257.28L140.24,257.10L140.63,257.40L141.01,257.41L141.39,257.49L141.78,257.57L142.16,257.66L142.55,257.75L142.93,257.73L143.31,257.76L143.70,257.91L144.08,257.79L144.47,257.77L144.85,257.66L145.23,257.74L145.62,257.86L146.00,257.88L146.39,257.99L146.77,258.02L147.15,258.16L147.54,258.27L147.92,258.20L148.31,257.92L148.69,257.87L149.07,257.91L149.46,257.98L149.84,258.00L150.23,258.09L150.61,258.26L150.99,258.16L151.38,258.03L151.76,258.02L152.15,257.82L152.53,257.65L152.91,257.50L153.30,257.71L153.68,257.81L154.07,257.72L154.45,257.92L154.83,257.99L155.22,258.10L155.60,258.02L155.99,258.05L156.37,258.14L156.75,257.98L157.14,257.91L157.52,257.99L157.91,257.90L158.29,258.10L158.67,258.29L159.06,258.46L159.44,258.80L159.83,259.10L160.21,259.57L160.59,259.54L160.98,259.71L161.36,260.00L161.75,259.87L162.13,259.81L162.51,259.79L162.90,260.13L163.28,260.16L163.67,260.19L164.05,260.47L164.43,260.62L164.82,260.78L165.20,260.78L165.59,261.01L165.97,261.13L166.35,261.35L166.74,261.43L167.12,261.47L167.51,261.54L167.89,261.78L168.27,261.71L168.66,261.83L169.04,262.07L169.43,262.34L169.81,262.63L170.19,262.51L170.58,262.86L170.96,262.98L171.35,263.01L171.73,262.99L172.11,263.16L172.50,263.43L172.88,263.55L173.27,263.57L173.65,263.31L174.03,263.03L174.42,262.47L174.80,261.81L175.19,261.06L175.57,260.24L175.95,259.61L176.34,259.26L176.72,258.70L177.11,258.21L177.49,257.91L177.87,257.59L178.26,257.38L178.64,257.05L179.03,256.77L179.41,256.61L179.79,256.11L180.18,255.80L180.56,255.36L180.95,254.69L181.33,254.26L181.71,253.75L182.10,253.31L182.48,252.71L182.87,252.16L183.25,251.90L183.63,251.38L184.02,250.88L184.40,250.52L184.79,250.03L185.17,249.61L185.55,249.01L185.94,248.66L186.32,248.38L186.71,247.83L187.09,247.45L187.47,247.09L187.86,246.57L188.24,246.15L188.63,245.40L189.01,244.94L189.39,244.68L189.78,244.38L190.16,244.24L190.55,243.92L190.93,243.70L191.31,243.56L191.70,243.29L192.08,242.70L192.47,242.37L192.85,242.06L193.23,241.67L193.62,241.33L194.00,241.18L194.39,241.08L194.77,240.89L195.15,240.56L195.54,240.66L195.92,240.40L196.31,239.84L196.69,239.49L197.07,239.09L197.46,238.84L197.84,238.42L198.23,238.19L198.61,238.13L198.99,237.94L199.38,237.64L199.76,237.45L200.15,237.31L200.53,237.22L200.91,236.96L201.30,236.69L201.68,236.62L202.07,236.58L202.45,236.34L202.83,235.94L203.22,235.79L203.60,235.81L203.99,235.70L204.37,235.51L204.75,235.10L205.14,235.08L205.52,234.82L205.91,234.51L206.29,234.35L206.67,234.21L207.06,234.35L207.44,234.25L207.83,234.37L208.21,234.73L208.59,235.06L208.98,235.38L209.36,235.62L209.75,236.10L210.13,236.53L210.51,237.21L210.90,238.16L211.28,239.51L211.67,241.35L212.05,243.28" fill="none" stroke="#62c4de" stroke-width="1.6" stroke-dasharray="3 0.5" clip-path="url(#cb)" />
<path d="M265.69,308.74L265.92,309.39L266.15,306.42L266.38,304.89L266.61,307.95L266.84,302.26L267.07,304.22L267.30,306.04L267.53,312.97L267.76,304.31L267.99,301.18L268.22,302.00L268.45,302.24L268.68,300.78L268.91,301.80L269.14,294.55L269.37,299.38L269.60,296.25L269.83,309.18L270.06,296.86L270.29,296.08L270.52,290.79L270.75,303.34L270.98,300.90L271.21,299.18L271.44,295.13L271.67,298.28L271.90,298.10L272.13,300.36L272.36,293.07L272.59,295.18L272.82,290.09L273.05,298.77L273.28,294.82L273.51,296.11L273.73,301.72L273.96,304.47L274.19,300.32L274.42,290.46L274.65,297.65L274.88,293.11L275.11,292.71L275.34,298.54L275.57,292.86L275.80,291.55L276.03,294.94L276.26,290.54L276.49,292.72L276.72,295.45L276.95,293.25L277.18,295.65L277.41,293.78L277.64,293.35L277.87,292.05L278.10,291.30L278.33,291.00L278.56,291.42L278.79,290.39L279.02,291.07L279.25,290.68L279.48,288.32L279.71,287.85L279.94,292.28L280.17,290.73L280.40,286.83L280.63,287.63L280.86,290.01L281.09,287.91L281.32,294.57L281.55,287.07L281.78,286.32L282.01,292.54L282.24,289.79L282.47,287.41L282.70,288.51L282.93,294.94L283.16,287.13L283.39,291.97L283.62,285.53L283.85,285.11L284.08,290.19L284.31,284.73L284.54,284.95L284.77,281.63L285.00,285.57L285.22,288.67L285.45,287.79L285.68,286.27L285.91,290.18L286.14,283.36L286.37,284.78L286.60,286.81L286.83,280.97L287.06,286.08L287.29,285.72L287.52,281.79L287.75,284.35L287.98,287.34L288.21,283.71L288.44,282.41L288.67,285.11L288.90,282.15L289.13,282.24L289.36,286.88L289.59,284.71L289.82,283.70L290.05,277.68L290.28,284.61L290.51,282.52L290.74,284.30L290.97,286.88L291.20,275.09L291.43,280.46L291.66,286.43L291.89,280.54L292.12,278.40L292.35,281.23L292.58,278.72L292.81,280.54L293.04,282.54L293.27,282.76L293.50,280.88L293.73,279.53L293.96,283.77L294.19,279.76L294.42,282.04L294.65,277.86L294.88,279.08L295.11,280.06L295.34,273.30L295.57,272.80L295.80,279.09L296.03,275.26L296.26,272.53L296.49,276.05L296.71,278.08L296.94,275.12L297.17,279.76L297.40,277.97L297.63,274.60L297.86,275.53L298.09,276.28L298.32,275.78L298.55,274.49L298.78,273.53L299.01,276.19L299.24,273.91L299.47,276.52L299.70,272.00L299.93,275.61L300.16,270.85L300.39,271.67L300.62,272.12L300.85,272.61L301.08,268.87L301.31,268.72L301.54,270.58L301.77,268.43L302.00,264.74L302.23,268.60L302.46,268.96L302.69,267.90L302.92,264.11L303.15,273.09L303.38,266.01L303.61,265.16L303.84,268.79L304.07,264.69L304.30,266.90L304.53,263.61L304.76,267.54L304.99,266.25L305.22,267.60L305.45,264.79L305.68,265.47L305.91,268.08L306.14,267.43L306.37,266.86L306.60,259.67L306.83,264.48L307.06,264.00L307.29,263.44L307.52,264.29L307.75,263.48L307.98,261.68L308.20,263.05L308.43,261.25L308.66,262.54L308.89,261.67L309.12,262.98L309.35,263.04L309.58,264.00L309.81,263.52L310.04,262.82L310.27,263.92L310.50,261.36L310.73,265.21L310.96,263.16L311.19,263.99L311.42,264.66L311.65,261.27L311.88,260.35L312.11,262.91L312.34,262.13L312.57,261.55L312.80,261.97L313.03,262.05L313.26,265.27L313.49,262.14L313.72,262.23L313.95,264.57L314.18,261.96L314.41,262.53L314.64,263.53L314.87,262.61L315.10,261.25L315.33,263.13L315.56,261.39L315.79,260.54L316.02,261.11L316.25,261.28L316.48,263.80L316.71,259.74L316.94,262.55L317.17,260.40L317.40,260.78L317.63,261.24L317.86,262.48L318.09,259.99L318.32,259.13L318.55,261.30L318.78,260.26L319.01,260.82L319.24,260.78L319.47,258.99L319.69,260.22L319.92,257.48L320.15,259.90L320.38,260.77L320.61,258.71L320.84,261.02L321.07,259.47L321.30,259.82L321.53,260.88L321.76,261.14L321.99,258.18L322.22,260.11L322.45,260.40L322.68,261.16L322.91,259.63L323.14,259.91L323.37,260.44L323.60,259.33L323.83,258.43L324.06,256.48L324.29,258.96L324.52,258.52L324.75,260.56L324.98,261.31L325.21,260.91L325.44,257.87L325.67,258.51L325.90,260.43L326.13,259.04L326.36,261.77L326.59,258.45L326.82,261.11L327.05,257.26L327.28,259.74L327.51,260.21L327.74,257.38L327.97,258.31L328.20,259.46L328.43,258.22L328.66,260.00L328.89,259.85L329.12,261.10L329.35,261.98L329.58,260.79L329.81,259.20L330.04,258.87L330.27,256.16L330.50,258.92L330.73,258.39L330.96,261.87L331.18,257.97L331.41,259.50L331.64,259.59L331.87,258.21L332.10,258.52L332.33,257.54L332.56,258.46L332.79,259.07L333.02,258.90L333.25,257.77L333.48,257.89L333.71,259.90L333.94,259.00L334.17,258.27L334.40,258.82L334.63,259.51L334.86,258.09L335.09,259.56L335.32,258.28L335.55,257.25L335.78,258.43L336.01,259.09L336.24,257.38L336.47,258.06L336.70,259.56L336.93,258.83L337.16,256.36L337.39,259.38L337.62,258.50L337.85,261.22L338.08,258.71L338.31,258.43L338.54,257.38L338.77,259.60L339.00,258.70L339.23,257.85L339.46,257.70L339.69,259.73L339.92,260.58L340.15,257.57L340.38,259.76L340.61,258.98L340.84,259.71L341.07,257.01L341.30,257.93L341.53,258.15L341.76,257.36L341.99,260.32L342.22,256.52L342.45,258.46L342.67,257.51L342.90,256.70L343.13,259.59L343.36,258.59L343.59,259.43L343.82,259.33L344.05,255.59L344.28,257.27L344.51,258.68L344.74,258.23L344.97,257.28L345.20,257.35L345.43,258.87L345.66,258.28L345.89,257.02L346.12,258.53L346.35,258.68L346.58,260.20L346.81,256.58L347.04,258.71L347.27,259.98L347.50,257.93L347.73,257.66L347.96,261.49L348.19,257.59L348.42,258.41L348.65,258.22L348.88,258.06L349.11,256.75L349.34,261.22L349.57,258.01L349.80,255.71L350.03,259.69L350.26,259.01L350.49,258.75L350.72,256.07L350.95,258.58L351.18,255.48L351.41,258.61L351.64,258.40L351.87,257.76L352.10,258.22L352.33,259.54L352.56,257.80L352.79,258.42L353.02,258.11L353.25,258.69L353.48,260.56L353.71,257.46L353.94,258.96L354.16,260.45L354.39,258.44L354.62,258.40L354.85,259.34L355.08,257.47L355.31,259.33L355.54,257.87L355.77,257.46L356.00,258.23L356.23,258.85L356.46,257.35L356.69,259.50L356.92,259.90L357.15,258.22L357.38,258.97L357.61,257.00L357.84,260.45L358.07,258.99L358.30,257.78L358.53,255.38L358.76,257.29L358.99,258.24L359.22,258.21L359.45,258.93L359.68,258.09L359.91,259.36L360.14,257.65L360.37,256.19L360.60,260.20L360.83,259.22L361.06,255.41L361.29,258.73L361.52,259.49L361.75,259.31L361.98,259.92L362.21,257.49L362.44,258.24L362.67,257.65L362.90,258.08L363.13,258.33L363.36,259.16L363.59,257.26L363.82,257.43L364.05,258.25L364.28,258.59L364.51,258.57L364.74,259.22L364.97,259.04L365.20,257.72L365.43,258.43L365.65,259.78L365.88,258.30L366.11,257.41L366.34,259.46L366.57,258.51L366.80,257.98L367.03,258.41L367.26,257.85L367.49,257.02L367.72,258.64L367.95,257.91L368.18,258.26L368.41,258.10L368.64,256.91L368.87,258.03L369.10,257.82L369.33,257.89L369.56,257.98L369.79,258.85L370.02,257.95L370.25,258.83L370.48,260.31L370.71,258.96L370.94,257.48L371.17,256.61L371.40,259.38L371.63,258.47L371.86,260.10L372.09,257.78L372.32,256.43L372.55,258.61L372.78,260.22L373.01,257.60L373.24,259.74L373.47,258.72L373.70,259.21L373.93,259.44L374.16,259.26L374.39,260.22L374.62,258.41L374.85,260.26L375.08,259.47L375.31,258.28L375.54,258.94L375.77,259.63L376.00,257.12L376.23,256.13L376.46,258.39L376.69,260.65L376.92,259.14L377.14,260.08L377.37,260.49L377.60,259.18L377.83,258.15L378.06,256.14L378.29,257.47L378.52,257.65L378.75,259.51L378.98,257.08L379.21,259.90L379.44,258.04L379.67,259.44L379.90,261.82L380.13,259.24L380.36,259.78L380.59,260.07L380.82,259.61L381.05,258.81L381.28,260.05L381.51,259.68L381.74,260.81L381.97,259.32L382.20,259.69L382.43,258.53L382.66,259.87L382.89,260.07L383.12,260.04L383.35,259.61L383.58,258.25L383.81,260.68L384.04,261.18L384.27,260.22L384.50,260.34L384.73,260.33L384.96,259.90L385.19,260.46L385.42,260.03L385.65,258.67L385.88,261.34L386.11,257.33L386.34,260.83L386.57,263.19L386.80,261.08L387.03,262.27L387.26,260.17L387.49,260.67L387.72,261.83L387.95,258.40L388.18,260.03L388.41,261.85L388.63,262.73L388.86,259.55L389.09,261.78L389.32,260.06L389.55,263.18L389.78,260.03L390.01,261.97L390.24,261.84L390.47,263.40L390.70,262.52L390.93,263.85L391.16,262.16L391.39,263.33L391.62,261.69L391.85,261.75L392.08,261.08L392.31,263.34L392.54,263.14L392.77,262.77L393.00,262.58L393.23,263.75L393.46,264.12L393.69,263.37L393.92,263.94L394.15,265.57L394.38,261.64L394.61,267.65L394.84,262.36L395.07,267.88L395.30,263.02L395.53,262.76L395.76,263.35L395.99,264.86L396.22,264.25L396.45,263.37L396.68,265.56L396.91,265.58L397.14,264.24L397.37,264.51L397.60,264.35L397.83,263.05L398.06,263.29L398.29,265.99L398.52,266.62L398.75,269.68L398.98,261.91L399.21,263.64L399.44,265.26L399.67,265.22L399.90,266.58L400.12,266.33L400.35,265.43L400.58,266.50L400.81,265.93L401.04,266.96L401.27,265.66L401.50,268.67L401.73,269.99L401.96,269.42L402.19,269.13L402.42,267.71L402.65,268.10L402.88,272.72L403.11,265.69L403.34,272.31L403.57,270.79L403.80,271.24L404.03,270.62L404.26,275.44L404.49,270.01L404.72,274.95L404.95,274.37L405.18,271.80L405.41,271.97L405.64,277.25L405.87,275.87L406.10,275.37L406.33,273.94L406.56,277.22L406.79,275.96L407.02,275.82L407.25,276.56L407.48,276.41L407.71,274.04L407.94,274.53L408.17,275.96L408.40,277.57L408.63,279.19L408.86,283.71L409.09,274.25L409.32,275.77L409.55,276.48L409.78,281.04L410.01,276.59L410.24,280.61L410.47,277.28L410.70,279.04L410.93,277.21L411.16,287.08L411.39,280.12L411.61,282.29L411.84,283.03L412.07,281.93L412.30,280.59L412.53,280.39L412.76,279.71L412.99,279.74L413.22,278.32L413.45,280.65L413.68,279.70L413.91,284.58L414.14,282.36L414.37,281.73L414.60,284.71L414.83,283.29L415.06,283.73L415.29,283.35L415.52,287.33L415.75,283.68L415.98,285.35L416.21,289.68L416.44,288.97L416.67,283.43L416.90,283.53L417.13,280.80L417.36,282.98L417.59,288.73L417.82,286.86L418.05,284.21L418.28,287.07L418.51,285.01L418.74,286.65L418.97,287.15L419.20,285.83L419.43,286.69L419.66,287.92L419.89,287.11L420.12,287.26L420.35,288.94L420.58,287.76L420.81,289.88L421.04,290.60L421.27,287.48L421.50,291.59L421.73,288.88L421.96,289.64L422.19,291.36L422.42,289.96L422.65,288.13L422.88,288.00L423.10,291.16L423.33,292.20L423.56,287.72L423.79,290.04L424.02,288.02L424.25,287.71L424.48,290.81L424.71,293.38L424.94,285.33L425.17,293.24L425.40,289.58L425.63,291.66L425.86,291.45L426.09,293.09L426.32,293.87L426.55,294.14L426.78,289.48L427.01,293.57L427.24,297.61L427.47,291.11L427.70,290.77L427.93,291.98L428.16,291.42L428.39,293.40L428.62,293.66L428.85,288.62L429.08,296.45L429.31,298.60L429.54,293.15L429.77,301.12L430.00,295.55L430.23,299.04L430.46,292.60L430.69,296.03L430.92,296.90L431.15,291.87L431.38,299.02L431.61,298.24L431.84,295.91L432.07,298.82L432.30,297.44L432.53,294.37L432.76,288.00L432.99,300.91L433.22,289.90L433.45,296.61L433.68,299.49L433.91,299.56L434.14,300.12L434.37,297.80L434.59,300.46L434.82,296.59L435.05,300.84L435.28,300.78L435.51,295.64L435.74,305.46L435.97,291.32L436.20,300.50L436.43,298.80L436.66,302.61L436.89,312.70L437.12,306.41L437.35,311.56L437.58,302.58L437.81,306.47L438.04,315.58L438.27,309.49L438.50,307.10" fill="none" stroke="#a0a0a0" stroke-width="2.4" clip-path="url(#cd)" />
<path d="M265.69,310.62L265.92,312.21L266.15,307.57L266.38,308.02L266.61,305.17L266.84,301.02L267.07,313.37L267.30,304.78L267.53,302.50L267.76,304.10L267.99,307.49L268.22,303.30L268.45,301.37L268.68,301.25L268.91,304.03L269.14,303.58L269.37,300.98L269.60,303.04L269.83,299.87L270.06,298.01L270.29,298.24L270.52,302.96L270.75,296.74L270.98,299.98L271.21,299.33L271.44,295.56L271.67,297.93L271.90,298.01L272.13,297.94L272.36,297.62L272.59,296.62L272.82,293.46L273.05,299.21L273.28,302.16L273.51,295.46L273.73,297.04L273.96,295.79L274.19,292.84L274.42,294.71L274.65,296.30L274.88,294.16L275.11,302.65L275.34,298.25L275.57,290.99L275.80,292.95L276.03,289.62L276.26,293.95L276.49,294.55L276.72,295.89L276.95,293.03L277.18,294.61L277.41,292.36L277.64,297.21L277.87,294.79L278.10,293.07L278.33,292.37L278.56,289.63L278.79,292.94L279.02,291.76L279.25,286.87L279.48,290.93L279.71,288.89L279.94,290.45L280.17,289.13L280.40,288.49L280.63,288.99L280.86,287.12L281.09,291.93L281.32,288.36L281.55,295.91L281.78,291.68L282.01,296.67L282.24,288.81L282.47,293.09L282.70,293.92L282.93,288.61L283.16,290.76L283.39,287.54L283.62,287.62L283.85,285.74L284.08,291.82L284.31,287.78L284.54,284.75L284.77,291.91L285.00,289.09L285.22,286.79L285.45,284.39L285.68,286.77L285.91,285.33L286.14,284.77L286.37,289.15L286.60,287.67L286.83,286.56L287.06,290.87L287.29,285.10L287.52,285.46L287.75,285.01L287.98,285.41L288.21,283.20L288.44,284.99L288.67,281.52L288.90,285.62L289.13,282.73L289.36,286.02L289.59,284.30L289.82,282.68L290.05,284.32L290.28,282.07L290.51,281.00L290.74,282.45L290.97,277.61L291.20,284.00L291.43,283.38L291.66,280.37L291.89,280.92L292.12,283.66L292.35,279.03L292.58,283.12L292.81,281.19L293.04,281.23L293.27,280.57L293.50,279.09L293.73,277.86L293.96,278.53L294.19,283.54L294.42,278.80L294.65,281.81L294.88,279.57L295.11,280.28L295.34,275.99L295.57,278.58L295.80,283.02L296.03,278.12L296.26,282.13L296.49,276.42L296.71,276.32L296.94,275.48L297.17,274.46L297.40,277.00L297.63,270.93L297.86,276.75L298.09,275.85L298.32,273.35L298.55,275.86L298.78,275.85L299.01,277.54L299.24,270.54L299.47,275.35L299.70,273.82L299.93,272.21L300.16,271.52L300.39,272.39L300.62,271.82L300.85,271.66L301.08,275.85L301.31,270.60L301.54,272.83L301.77,268.97L302.00,268.12L302.23,271.94L302.46,265.18L302.69,268.38L302.92,262.96L303.15,270.77L303.38,265.29L303.61,267.43L303.84,265.43L304.07,268.54L304.30,267.38L304.53,267.14L304.76,266.64L304.99,266.07L305.22,265.68L305.45,265.77L305.68,266.59L305.91,266.42L306.14,264.56L306.37,266.41L306.60,264.32L306.83,264.34L307.06,265.78L307.29,264.01L307.52,264.98L307.75,264.79L307.98,263.56L308.20,264.29L308.43,263.05L308.66,262.83L308.89,262.68L309.12,265.13L309.35,261.96L309.58,261.78L309.81,262.01L310.04,263.60L310.27,262.74L310.50,263.04L310.73,263.63L310.96,262.65L311.19,262.76L311.42,261.40L311.65,261.83L311.88,261.75L312.11,265.07L312.34,266.56L312.57,261.37L312.80,262.35L313.03,262.42L313.26,260.77L313.49,261.90L313.72,262.18L313.95,262.30L314.18,260.37L314.41,263.28L314.64,261.28L314.87,262.88L315.10,263.13L315.33,261.07L315.56,261.93L315.79,262.61L316.02,260.89L316.25,261.45L316.48,261.30L316.71,261.74L316.94,259.11L317.17,259.43L317.40,261.06L317.63,264.61L317.86,261.89L318.09,260.15L318.32,261.97L318.55,259.53L318.78,261.09L319.01,263.31L319.24,258.60L319.47,260.05L319.69,260.62L319.92,259.44L320.15,258.80L320.38,261.80L320.61,259.76L320.84,261.51L321.07,260.41L321.30,261.44L321.53,259.32L321.76,262.45L321.99,260.30L322.22,259.09L322.45,259.87L322.68,260.39L322.91,259.70L323.14,258.65L323.37,258.18L323.60,259.85L323.83,259.68L324.06,257.24L324.29,259.08L324.52,259.59L324.75,259.34L324.98,259.29L325.21,261.87L325.44,258.81L325.67,260.47L325.90,259.80L326.13,261.58L326.36,259.76L326.59,257.52L326.82,260.26L327.05,258.58L327.28,259.26L327.51,259.18L327.74,258.46L327.97,258.68L328.20,260.52L328.43,258.61L328.66,258.80L328.89,259.24L329.12,258.82L329.35,259.63L329.58,255.83L329.81,259.50L330.04,259.34L330.27,259.97L330.50,260.49L330.73,259.27L330.96,258.17L331.18,259.47L331.41,260.38L331.64,258.62L331.87,257.58L332.10,256.90L332.33,258.80L332.56,259.88L332.79,258.70L333.02,258.48L333.25,258.26L333.48,258.46L333.71,259.63L333.94,257.82L334.17,258.93L334.40,259.78L334.63,259.69L334.86,259.62L335.09,258.11L335.32,258.81L335.55,258.58L335.78,257.59L336.01,258.39L336.24,257.92L336.47,260.30L336.70,257.97L336.93,257.39L337.16,258.72L337.39,257.08L337.62,257.32L337.85,258.83L338.08,258.93L338.31,259.12L338.54,259.20L338.77,258.53L339.00,257.56L339.23,257.61L339.46,259.15L339.69,257.50L339.92,259.28L340.15,257.80L340.38,257.88L340.61,260.27L340.84,257.50L341.07,257.97L341.30,260.05L341.53,258.61L341.76,257.50L341.99,258.11L342.22,258.75L342.45,259.11L342.67,257.85L342.90,258.03L343.13,258.28L343.36,259.23L343.59,258.42L343.82,260.39L344.05,257.98L344.28,258.66L344.51,261.21L344.74,259.02L344.97,257.24L345.20,258.77L345.43,256.87L345.66,259.21L345.89,257.63L346.12,260.61L346.35,258.92L346.58,259.72L346.81,256.60L347.04,258.71L347.27,258.92L347.50,259.03L347.73,260.88L347.96,258.94L348.19,256.49L348.42,256.88L348.65,258.54L348.88,258.27L349.11,255.35L349.34,259.08L349.57,259.58L349.80,257.96L350.03,255.35L350.26,256.57L350.49,258.67L350.72,258.82L350.95,259.16L351.18,259.34L351.41,258.12L351.64,258.35L351.87,257.21L352.10,258.36L352.33,259.03L352.56,256.86L352.79,258.90L353.02,260.21L353.25,258.10L353.48,256.87L353.71,258.14L353.94,259.42L354.16,258.47L354.39,259.28L354.62,258.12L354.85,259.07L355.08,259.56L355.31,257.79L355.54,261.41L355.77,260.85L356.00,258.94L356.23,258.43L356.46,258.63L356.69,258.25L356.92,258.78L357.15,257.74L357.38,258.56L357.61,258.18L357.84,260.94L358.07,257.83L358.30,258.71L358.53,258.64L358.76,258.65L358.99,260.15L359.22,257.29L359.45,258.04L359.68,259.21L359.91,258.05L360.14,257.73L360.37,260.03L360.60,258.74L360.83,259.03L361.06,258.32L361.29,256.98L361.52,259.17L361.75,257.08L361.98,256.12L362.21,258.30L362.44,257.56L362.67,258.37L362.90,258.17L363.13,258.95L363.36,258.61L363.59,257.43L363.82,258.96L364.05,257.37L364.28,257.15L364.51,260.83L364.74,259.08L364.97,257.37L365.20,258.74L365.43,259.08L365.65,260.06L365.88,258.43L366.11,256.92L366.34,259.04L366.57,261.65L366.80,257.23L367.03,259.45L367.26,258.57L367.49,258.22L367.72,257.60L367.95,256.31L368.18,258.42L368.41,258.10L368.64,258.55L368.87,260.14L369.10,261.62L369.33,258.44L369.56,259.13L369.79,258.84L370.02,260.76L370.25,258.10L370.48,258.26L370.71,258.19L370.94,258.95L371.17,261.02L371.40,255.64L371.63,259.50L371.86,257.82L372.09,257.90L372.32,256.61L372.55,259.28L372.78,260.01L373.01,260.36L373.24,258.95L373.47,257.52L373.70,259.68L373.93,260.17L374.16,258.77L374.39,258.53L374.62,259.62L374.85,258.25L375.08,257.68L375.31,258.23L375.54,258.20L375.77,260.97L376.00,259.20L376.23,258.14L376.46,259.73L376.69,258.10L376.92,259.98L377.14,260.33L377.37,260.06L377.60,258.95L377.83,258.76L378.06,259.17L378.29,258.53L378.52,257.30L378.75,259.38L378.98,259.93L379.21,258.54L379.44,259.09L379.67,257.49L379.90,259.68L380.13,257.29L380.36,259.96L380.59,259.95L380.82,258.24L381.05,259.13L381.28,259.32L381.51,259.01L381.74,259.22L381.97,259.14L382.20,260.42L382.43,258.90L382.66,258.97L382.89,259.96L383.12,261.21L383.35,261.29L383.58,260.09L383.81,259.98L384.04,260.55L384.27,257.76L384.50,261.31L384.73,263.10L384.96,260.70L385.19,261.20L385.42,259.09L385.65,260.70L385.88,260.73L386.11,261.16L386.34,257.44L386.57,260.33L386.80,261.82L387.03,262.27L387.26,260.94L387.49,261.29L387.72,261.70L387.95,262.44L388.18,264.04L388.41,262.84L388.63,261.70L388.86,260.33L389.09,259.60L389.32,260.27L389.55,261.69L389.78,263.59L390.01,263.56L390.24,263.11L390.47,262.97L390.70,261.59L390.93,263.93L391.16,260.61L391.39,260.48L391.62,264.25L391.85,259.04L392.08,263.20L392.31,262.33L392.54,260.79L392.77,264.58L393.00,263.72L393.23,263.30L393.46,263.00L393.69,263.93L393.92,263.52L394.15,262.98L394.38,261.43L394.61,260.85L394.84,265.29L395.07,263.94L395.30,261.94L395.53,264.42L395.76,264.97L395.99,262.35L396.22,264.86L396.45,261.63L396.68,263.61L396.91,262.61L397.14,262.29L397.37,264.10L397.60,264.81L397.83,263.76L398.06,268.26L398.29,266.05L398.52,263.72L398.75,267.47L398.98,263.52L399.21,260.65L399.44,266.45L399.67,262.27L399.90,264.86L400.12,263.64L400.35,270.92L400.58,267.28L400.81,267.76L401.04,265.85L401.27,264.79L401.50,266.28L401.73,269.08L401.96,268.45L402.19,271.20L402.42,268.81L402.65,270.91L402.88,272.72L403.11,271.58L403.34,273.25L403.57,274.39L403.80,273.20L404.03,273.62L404.26,272.10L404.49,273.40L404.72,270.42L404.95,270.49L405.18,270.29L405.41,273.20L405.64,275.43L405.87,276.11L406.10,275.89L406.33,274.27L406.56,275.98L406.79,277.73L407.02,276.03L407.25,273.13L407.48,274.97L407.71,276.91L407.94,276.07L408.17,277.05L408.40,278.26L408.63,281.05L408.86,278.39L409.09,279.52L409.32,278.99L409.55,276.08L409.78,278.40L410.01,278.30L410.24,279.61L410.47,278.81L410.70,281.60L410.93,278.91L411.16,278.59L411.39,280.73L411.61,280.48L411.84,279.91L412.07,281.25L412.30,281.96L412.53,280.54L412.76,280.97L412.99,281.44L413.22,275.62L413.45,283.36L413.68,282.47L413.91,285.24L414.14,282.45L414.37,284.62L414.60,282.44L414.83,283.61L415.06,285.67L415.29,282.28L415.52,283.04L415.75,282.97L415.98,282.91L416.21,285.56L416.44,287.51L416.67,287.34L416.90,290.07L417.13,286.88L417.36,283.46L417.59,286.77L417.82,288.36L418.05,285.48L418.28,287.51L418.51,285.90L418.74,285.88L418.97,286.30L419.20,287.66L419.43,288.62L419.66,289.46L419.89,284.01L420.12,285.60L420.35,289.37L420.58,286.48L420.81,286.67L421.04,284.35L421.27,288.28L421.50,287.00L421.73,291.40L421.96,292.98L422.19,289.47L422.42,290.76L422.65,290.76L422.88,289.96L423.10,287.87L423.33,286.06L423.56,292.36L423.79,290.64L424.02,291.73L424.25,293.43L424.48,294.54L424.71,293.17L424.94,282.89L425.17,289.20L425.40,289.61L425.63,291.80L425.86,285.04L426.09,293.28L426.32,297.69L426.55,286.37L426.78,291.24L427.01,290.12L427.24,292.31L427.47,296.76L427.70,295.28L427.93,293.39L428.16,292.29L428.39,290.15L428.62,296.76L428.85,294.55L429.08,301.33L429.31,292.86L429.54,294.18L429.77,293.48L430.00,288.45L430.23,292.59L430.46,297.49L430.69,289.72L430.92,294.27L431.15,292.38L431.38,295.18L431.61,292.38L431.84,303.63L432.07,298.30L432.30,293.39L432.53,299.95L432.76,298.94L432.99,302.05L433.22,297.66L433.45,300.13L433.68,302.05L433.91,298.41L434.14,293.59L434.37,300.83L434.59,305.67L434.82,299.06L435.05,297.49L435.28,301.13L435.51,291.47L435.74,299.67L435.97,298.83L436.20,295.45L436.43,297.22L436.66,306.62L436.89,303.95L437.12,304.20L437.35,303.28L437.58,294.99L437.81,306.42L438.04,304.30L438.27,302.13L438.50,304.31" fill="none" stroke="#000" stroke-width="1.1" clip-path="url(#cd)" />
<path d="M265.50,312.05L265.81,305.04L266.11,297.42L266.42,293.79L266.73,294.49L267.03,293.55L267.34,290.81L267.65,288.72L267.95,285.41L268.26,284.62L268.56,285.02L268.87,287.52L269.18,287.49L269.48,285.07L269.79,287.64L270.10,289.15L270.40,288.17L270.71,286.77L271.02,287.88L271.32,290.40L271.63,288.20L271.93,286.97L272.24,289.70L272.55,289.10L272.85,286.29L273.16,286.74L273.47,286.32L273.77,285.16L274.08,287.21L274.39,284.78L274.69,282.97L275.00,288.26L275.31,286.75L275.61,280.98L275.92,281.30L276.22,280.86L276.53,277.55L276.84,280.72L277.14,286.15L277.45,286.34L277.76,280.85L278.06,279.96L278.37,283.41L278.68,283.81L278.98,281.40L279.29,279.29L279.59,277.79L279.90,276.13L280.21,278.27L280.51,279.51L280.82,279.49L281.13,278.89L281.43,278.62L281.74,279.99L282.05,275.44L282.35,273.58L282.66,275.21L282.97,271.74L283.27,271.30L283.58,274.36L283.88,274.99L284.19,275.47L284.50,273.88L284.80,273.07L285.11,271.95L285.42,271.65L285.72,273.87L286.03,273.62L286.34,272.10L286.64,271.03L286.95,269.80L287.25,270.30L287.56,271.17L287.87,267.94L288.17,268.17L288.48,269.38L288.79,266.96L289.09,266.56L289.40,268.62L289.71,271.09L290.01,267.39L290.32,264.32L290.63,265.17L290.93,265.76L291.24,264.80L291.54,263.40L291.85,264.89L292.16,265.99L292.46,265.30L292.77,264.51L293.08,264.74L293.38,265.51L293.69,265.40L294.00,263.27L294.30,263.65L294.61,263.37L294.91,261.16L295.22,261.17L295.53,262.02L295.83,261.93L296.14,260.11L296.45,260.58L296.75,261.33L297.06,259.92L297.37,259.13L297.67,258.42L297.98,259.12L298.29,256.88L298.59,255.38L298.90,257.87L299.20,258.36L299.51,256.75L299.82,255.11L300.12,255.91L300.43,255.44L300.74,255.10L301.04,255.93L301.35,253.82L301.66,251.54L301.96,251.97L302.27,253.21L302.57,251.89L302.88,252.16L303.19,252.60L303.49,251.35L303.80,250.53L304.11,250.21L304.41,250.83L304.72,250.33L305.03,250.65L305.33,250.24L305.64,249.67L305.95,250.56L306.25,250.09L306.56,249.22L306.86,248.29L307.17,248.23L307.48,248.00L307.78,247.06L308.09,247.39L308.40,248.38L308.70,247.58L309.01,246.68L309.32,248.28L309.62,248.83L309.93,247.40L310.23,247.46L310.54,247.76L310.85,247.80L311.15,247.08L311.46,245.93L311.77,245.93L312.07,245.21L312.38,245.38L312.69,246.12L312.99,244.88L313.30,245.27L313.61,245.78L313.91,245.70L314.22,245.83L314.52,244.24L314.83,244.17L315.14,245.34L315.44,244.39L315.75,244.25L316.06,245.22L316.36,244.82L316.67,245.19L316.98,244.81L317.28,243.67L317.59,243.76L317.89,244.17L318.20,244.42L318.51,244.19L318.81,245.11L319.12,245.36L319.43,244.23L319.73,244.75L320.04,244.64L320.35,244.06L320.65,244.15L320.96,244.05L321.27,243.87L321.57,243.76L321.88,244.14L322.18,244.27L322.49,244.04L322.80,243.99L323.10,244.09L323.41,243.85L323.72,243.36L324.02,243.22L324.33,243.06L324.64,243.06L324.94,243.65L325.25,244.17L325.55,244.15L325.86,243.85L326.17,243.78L326.47,243.66L326.78,243.21L327.09,243.56L327.39,243.72L327.70,243.71L328.01,244.27L328.31,244.48L328.62,244.24L328.93,244.39L329.23,244.18L329.54,243.32L329.84,243.73L330.15,244.19L330.46,243.51L330.76,243.33L331.07,243.66L331.38,243.81L331.68,243.60L331.99,243.45L332.30,243.97L332.60,244.66L332.91,245.06L333.21,244.28L333.52,243.67L333.83,243.47L334.13,243.27L334.44,243.95L334.75,244.00L335.05,243.38L335.36,243.67L335.67,244.10L335.97,243.43L336.28,243.74L336.59,244.44L336.89,243.74L337.20,243.41L337.50,243.96L337.81,244.37L338.12,243.97L338.42,243.30L338.73,243.20L339.04,243.40L339.34,243.23L339.65,243.25L339.96,243.83L340.26,243.40L340.57,243.50L340.87,244.04L341.18,243.75L341.49,243.35L341.79,243.52L342.10,243.95L342.41,244.20L342.71,244.05L343.02,243.49L343.33,243.41L343.63,243.75L343.94,243.85L344.25,243.84L344.55,244.02L344.86,243.81L345.16,243.37L345.47,243.46L345.78,243.74L346.08,243.84L346.39,244.02L346.70,243.99L347.00,243.88L347.31,243.52L347.62,243.75L347.92,243.76L348.23,243.73L348.53,243.82L348.84,243.72L349.15,243.88L349.45,243.84L349.76,243.49L350.07,243.33L350.37,243.34L350.68,243.49L350.99,243.82L351.29,243.33L351.60,243.68L351.91,244.30L352.21,243.94L352.52,243.26L352.82,243.37L353.13,243.63L353.44,243.08L353.74,243.34L354.05,243.78L354.36,243.30L354.66,243.40L354.97,244.08L355.28,243.73L355.58,243.60L355.89,243.48L356.19,243.22L356.50,243.98L356.81,244.05L357.11,243.61L357.42,243.85L357.73,243.58L358.03,243.85L358.34,244.45L358.65,244.13L358.95,243.62L359.26,243.88L359.57,244.24L359.87,244.04L360.18,244.26L360.48,244.18L360.79,244.09L361.10,244.11L361.40,243.75L361.71,243.87L362.02,244.17L362.32,244.19L362.63,244.19L362.94,244.33L363.24,244.42L363.55,244.00L363.85,243.93L364.16,243.14L364.47,243.13L364.77,243.83L365.08,244.01L365.39,244.19L365.69,243.96L366.00,243.91L366.31,243.44L366.61,243.47L366.92,244.11L367.23,244.04L367.53,243.98L367.84,244.04L368.14,243.40L368.45,243.13L368.76,243.26L369.06,243.37L369.37,243.65L369.68,244.17L369.98,244.29L370.29,244.04L370.60,243.75L370.90,243.37L371.21,243.43L371.51,243.88L371.82,243.54L372.13,242.99L372.43,243.51L372.74,243.82L373.05,243.61L373.35,243.64L373.66,243.83L373.97,243.73L374.27,243.71L374.58,243.79L374.89,244.20L375.19,244.66L375.50,243.82L375.80,243.80L376.11,244.12L376.42,243.67L376.72,243.74L377.03,244.00L377.34,243.80L377.64,243.55L377.95,243.89L378.26,244.34L378.56,244.31L378.87,244.11L379.17,244.38L379.48,244.14L379.79,243.68L380.09,243.57L380.40,243.69L380.71,243.97L381.01,243.71L381.32,243.46L381.63,243.18L381.93,243.23L382.24,244.05L382.55,243.95L382.85,243.14L383.16,243.30L383.46,243.95L383.77,244.19L384.08,243.61L384.38,243.48L384.69,244.12L385.00,243.97L385.30,244.35L385.61,244.55L385.92,244.52L386.22,244.50L386.53,243.90L386.83,243.53L387.14,243.86L387.45,243.90L387.75,243.90L388.06,244.87L388.37,244.51L388.67,243.95L388.98,244.15L389.29,245.18L389.59,245.17L389.90,243.95L390.21,243.95L390.51,243.61L390.82,243.91L391.12,243.44L391.43,242.99L391.74,243.85L392.04,245.56L392.35,246.98L392.66,245.14L392.96,244.10L393.27,244.56L393.58,245.14L393.88,245.89L394.19,245.54L394.49,246.09L394.80,245.88L395.11,246.29L395.41,247.17L395.72,246.93L396.03,247.09L396.33,246.41L396.64,247.52L396.95,248.23L397.25,247.67L397.56,247.63L397.87,247.95L398.17,249.05L398.48,248.97L398.78,248.02L399.09,248.09L399.40,249.21L399.70,249.81L400.01,251.35L400.32,252.42L400.62,251.88L400.93,252.27L401.24,252.99L401.54,253.03L401.85,252.60L402.15,251.47L402.46,252.68L402.77,255.25L403.07,254.30L403.38,253.82L403.69,255.68L403.99,254.94L404.30,254.75L404.61,256.63L404.91,257.34L405.22,258.22L405.53,257.99L405.83,258.40L406.14,256.74L406.44,255.97L406.75,258.71L407.06,260.07L407.36,260.00L407.67,258.79L407.98,259.17L408.28,261.52L408.59,262.36L408.90,263.29L409.20,262.13L409.51,260.26L409.81,261.83L410.12,262.60L410.43,263.76L410.73,264.60L411.04,263.48L411.35,263.77L411.65,264.53L411.96,264.64L412.27,265.38L412.57,265.64L412.88,265.16L413.19,266.15L413.49,266.88L413.80,267.76L414.10,269.46L414.41,269.73L414.72,268.52L415.02,268.40L415.33,268.31L415.64,269.44L415.94,270.71L416.25,271.20L416.56,270.68L416.86,270.47L417.17,271.56L417.47,271.88L417.78,273.63L418.09,272.86L418.39,274.30L418.70,276.34L419.01,272.77L419.31,272.61L419.62,273.74L419.93,274.08L420.23,277.41L420.54,277.15L420.85,274.31L421.15,274.10L421.46,275.85L421.76,275.01L422.07,275.89L422.38,276.35L422.68,275.24L422.99,277.82L423.30,277.33L423.60,274.78L423.91,276.64L424.22,278.30L424.52,278.68L424.83,280.70L425.13,279.58L425.44,279.76L425.75,280.47L426.05,280.16L426.36,282.69L426.67,281.44L426.97,280.02L427.28,278.62L427.59,279.40L427.89,282.20L428.20,282.30L428.51,283.26L428.81,281.89L429.12,279.68L429.42,280.99L429.73,285.10L430.04,285.83L430.34,284.62L430.65,286.38L430.96,289.24L431.26,287.63L431.57,283.83L431.88,285.14L432.18,286.73L432.49,284.93L432.79,283.06L433.10,285.95L433.41,294.04L433.71,293.81L434.02,289.54L434.33,290.12L434.63,291.77L434.94,295.10L435.25,294.07L435.55,293.60L435.86,295.00L436.17,294.60L436.47,295.45L436.78,299.50L437.08,299.83L437.39,299.53L437.70,302.28L438.00,302.38L438.31,306.44L438.62,310.06" fill="none" stroke="#ee2222" stroke-width="1.3" stroke-dasharray="2.4 1.8" clip-path="url(#cd)" />
<path d="M265.31,222.12L265.74,220.80L266.18,219.58L266.62,218.56L267.05,217.87L267.49,217.50L267.92,217.21L268.36,216.95L268.80,216.75L269.23,216.61L269.67,216.53L270.10,216.53L270.54,216.58L270.97,216.69L271.41,216.84L271.85,217.04L272.28,217.26L272.72,217.51L273.15,217.78L273.59,218.07L274.02,218.36L274.46,218.65L274.90,218.94L275.33,219.22L275.77,219.50L276.20,219.81L276.64,220.13L277.08,220.48L277.51,220.84L277.95,221.21L278.38,221.58L278.82,221.97L279.25,222.36L279.69,222.74L280.13,223.13L280.56,223.51L281.00,223.88L281.43,224.25L281.87,224.61L282.30,224.97L282.74,225.33L283.18,225.69L283.61,226.05L284.05,226.42L284.48,226.79L284.92,227.16L285.36,227.55L285.79,227.94L286.23,228.33L286.66,228.74L287.10,229.16L287.53,229.60L287.97,230.06L288.41,230.53L288.84,231.02L289.28,231.51L289.71,232.02L290.15,232.53L290.59,233.05L291.02,233.56L291.46,234.07L291.89,234.58L292.33,235.08L292.76,235.56L293.20,236.04L293.64,236.52L294.07,237.01L294.51,237.50L294.94,237.99L295.38,238.47L295.81,238.96L296.25,239.43L296.69,239.90L297.12,240.36L297.56,240.81L297.99,241.24L298.43,241.65L298.87,242.05L299.30,242.44L299.74,242.83L300.17,243.22L300.61,243.59L301.04,243.95L301.48,244.27L301.92,244.55L302.35,244.79L302.79,244.99L303.22,245.18L303.66,245.37L304.09,245.54L304.53,245.70L304.97,245.83L305.40,245.93L305.84,246.00L306.27,246.02L306.71,246.00L307.15,245.93L307.58,245.82L308.02,245.67L308.45,245.49L308.89,245.28L309.32,245.06L309.76,244.82L310.20,244.57L310.63,244.32L311.07,244.06L311.50,243.81L311.94,243.58L312.37,243.35L312.81,243.16L313.25,242.98L313.68,242.84L314.12,242.74L314.55,242.64L314.99,242.56L315.43,242.48L315.86,242.40L316.30,242.33L316.73,242.26L317.17,242.19L317.60,242.13L318.04,242.07L318.48,242.01L318.91,241.95L319.35,241.89L319.78,241.84L320.22,241.78L320.65,241.73L321.09,241.67L321.53,241.61L321.96,241.54L322.40,241.48L322.83,241.41L323.27,241.35L323.71,241.28L324.14,241.21L324.58,241.14L325.01,241.07L325.45,241.00L325.88,240.93L326.32,240.86L326.76,240.79L327.19,240.72L327.63,240.66L328.06,240.59L328.50,240.53L328.93,240.48L329.37,240.42L329.81,240.37L330.24,240.32L330.68,240.28L331.11,240.24L331.55,240.20L331.99,240.17L332.42,240.15L332.86,240.13L333.29,240.11L333.73,240.10L334.16,240.09L334.60,240.08L335.04,240.07L335.47,240.05L335.91,240.04L336.34,240.03L336.78,240.02L337.22,240.01L337.65,240.00L338.09,239.99L338.52,239.98L338.96,239.97L339.39,239.96L339.83,239.95L340.27,239.94L340.70,239.94L341.14,239.93L341.57,239.92L342.01,239.91L342.44,239.91L342.88,239.90L343.32,239.89L343.75,239.89L344.19,239.88L344.62,239.87L345.06,239.87L345.50,239.86L345.93,239.86L346.37,239.85L346.80,239.85L347.24,239.85L347.67,239.84L348.11,239.84L348.55,239.84L348.98,239.83L349.42,239.83L349.85,239.83L350.29,239.83L350.72,239.83L351.16,239.83L351.60,239.83L352.03,239.83L352.47,239.83L352.90,239.83L353.34,239.83L353.78,239.83L354.21,239.83L354.65,239.83L355.08,239.83L355.52,239.83L355.95,239.84L356.39,239.84L356.83,239.84L357.26,239.85L357.70,239.85L358.13,239.85L358.57,239.86L359.00,239.86L359.44,239.87L359.88,239.87L360.31,239.88L360.75,239.89L361.18,239.89L361.62,239.90L362.06,239.91L362.49,239.91L362.93,239.92L363.36,239.93L363.80,239.94L364.23,239.94L364.67,239.95L365.11,239.96L365.54,239.97L365.98,239.98L366.41,239.99L366.85,240.00L367.28,240.01L367.72,240.02L368.16,240.03L368.59,240.04L369.03,240.05L369.46,240.07L369.90,240.08L370.34,240.09L370.77,240.10L371.21,240.11L371.64,240.13L372.08,240.15L372.51,240.17L372.95,240.20L373.39,240.24L373.82,240.28L374.26,240.32L374.69,240.37L375.13,240.42L375.57,240.48L376.00,240.53L376.44,240.59L376.87,240.66L377.31,240.72L377.74,240.79L378.18,240.86L378.62,240.93L379.05,241.00L379.49,241.07L379.92,241.14L380.36,241.21L380.79,241.28L381.23,241.35L381.67,241.41L382.10,241.48L382.54,241.54L382.97,241.61L383.41,241.67L383.85,241.73L384.28,241.78L384.72,241.84L385.15,241.89L385.59,241.95L386.02,242.01L386.46,242.07L386.90,242.13L387.33,242.19L387.77,242.26L388.20,242.33L388.64,242.40L389.07,242.48L389.51,242.56L389.95,242.64L390.38,242.74L390.82,242.84L391.25,242.98L391.69,243.16L392.13,243.35L392.56,243.58L393.00,243.81L393.43,244.06L393.87,244.32L394.30,244.57L394.74,244.82L395.18,245.06L395.61,245.28L396.05,245.49L396.48,245.67L396.92,245.82L397.35,245.93L397.79,246.00L398.23,246.02L398.66,246.00L399.10,245.93L399.53,245.83L399.97,245.70L400.41,245.54L400.84,245.37L401.28,245.18L401.71,244.99L402.15,244.79L402.58,244.55L403.02,244.27L403.46,243.95L403.89,243.59L404.33,243.22L404.76,242.83L405.20,242.44L405.63,242.05L406.07,241.65L406.51,241.24L406.94,240.81L407.38,240.36L407.81,239.90L408.25,239.43L408.69,238.96L409.12,238.47L409.56,237.99L409.99,237.50L410.43,237.01L410.86,236.52L411.30,236.04L411.74,235.56L412.17,235.08L412.61,234.58L413.04,234.07L413.48,233.56L413.91,233.05L414.35,232.53L414.79,232.02L415.22,231.51L415.66,231.02L416.09,230.53L416.53,230.06L416.97,229.60L417.40,229.16L417.84,228.74L418.27,228.33L418.71,227.94L419.14,227.55L419.58,227.16L420.02,226.79L420.45,226.42L420.89,226.05L421.32,225.69L421.76,225.33L422.20,224.97L422.63,224.61L423.07,224.25L423.50,223.88L423.94,223.51L424.37,223.13L424.81,222.74L425.25,222.36L425.68,221.97L426.12,221.58L426.55,221.21L426.99,220.84L427.42,220.48L427.86,220.13L428.30,219.81L428.73,219.50L429.17,219.22L429.60,218.94L430.04,218.65L430.48,218.36L430.91,218.07L431.35,217.78L431.78,217.51L432.22,217.26L432.65,217.04L433.09,216.84L433.53,216.69L433.96,216.58L434.40,216.53L434.83,216.53L435.27,216.61L435.70,216.75L436.14,216.95L436.58,217.21L437.01,217.50L437.45,217.87L437.88,218.56L438.32,219.58L438.76,220.80L439.19,222.12" fill="none" stroke="#55b53a" stroke-width="1.3" stroke-dasharray="2.8 2.8" clip-path="url(#cd)" />
<path d="M265.69,243.36L266.07,241.67L266.46,240.22L266.84,239.03L267.22,238.13L267.61,237.21L267.99,236.85L268.37,236.42L268.76,235.98L269.14,235.58L269.52,235.41L269.90,235.36L270.29,235.19L270.67,235.11L271.05,234.98L271.44,234.75L271.82,234.76L272.20,234.86L272.59,234.98L272.97,235.27L273.35,235.57L273.73,235.60L274.12,235.87L274.50,235.99L274.88,236.14L275.27,236.06L275.65,236.29L276.03,236.42L276.42,236.66L276.80,236.99L277.18,237.50L277.56,237.61L277.95,237.89L278.33,238.25L278.71,238.44L279.10,238.71L279.48,239.11L279.86,239.53L280.25,239.82L280.63,240.09L281.01,240.37L281.39,240.63L281.78,240.99L282.16,241.37L282.54,241.93L282.93,242.25L283.31,242.68L283.69,242.96L284.08,243.32L284.46,243.43L284.84,243.66L285.22,244.15L285.61,244.39L285.99,244.90L286.37,245.47L286.76,246.00L287.14,246.27L287.52,246.86L287.91,247.16L288.29,247.49L288.67,247.94L289.05,248.42L289.44,248.67L289.82,248.94L290.20,249.37L290.59,249.74L290.97,250.11L291.35,250.65L291.74,251.23L292.12,251.76L292.50,252.15L292.88,252.61L293.27,253.04L293.65,253.44L294.03,253.76L294.42,254.16L294.80,254.65L295.18,255.15L295.57,255.63L295.95,256.24L296.33,256.74L296.71,257.12L297.10,257.53L297.48,258.08L297.86,258.47L298.25,259.04L298.63,259.62L299.01,260.25L299.40,260.93L299.78,261.42L300.16,262.03L300.54,262.66L300.93,263.10L301.31,263.48L301.69,264.26L302.08,264.75L302.46,265.16L302.84,265.51L303.23,265.95L303.61,265.94L303.99,265.93L304.37,265.74L304.76,265.88L305.14,265.91L305.52,265.92L305.91,265.79L306.29,265.73L306.67,265.36L307.06,264.92L307.44,264.73L307.82,264.54L308.20,264.48L308.59,264.52L308.97,264.41L309.35,264.09L309.74,264.12L310.12,264.09L310.50,263.96L310.89,263.83L311.27,263.88L311.65,263.73L312.03,263.45L312.42,263.17L312.80,262.95L313.18,262.65L313.57,262.31L313.95,262.38L314.33,262.50L314.72,262.50L315.10,262.55L315.48,262.64L315.86,262.35L316.25,262.23L316.63,262.12L317.01,262.10L317.40,262.01L317.78,261.80L318.16,261.63L318.55,261.47L318.93,261.13L319.31,260.99L319.69,260.97L320.08,260.81L320.46,260.69L320.84,260.73L321.23,260.73L321.61,260.79L321.99,260.78L322.38,260.72L322.76,260.60L323.14,260.42L323.52,260.27L323.91,260.04L324.29,260.07L324.67,259.84L325.06,259.84L325.44,259.81L325.82,259.77L326.21,259.60L326.59,259.76L326.97,259.60L327.35,259.55L327.74,259.50L328.12,259.44L328.50,259.38L328.89,259.29L329.27,259.21L329.65,259.25L330.04,259.26L330.42,259.21L330.80,259.17L331.18,259.07L331.57,259.00L331.95,258.88L332.33,258.83L332.72,258.99L333.10,259.07L333.48,259.08L333.87,259.17L334.25,259.08L334.63,258.85L335.01,258.81L335.40,258.83L335.78,258.91L336.16,258.86L336.55,258.95L336.93,259.03L337.31,259.11L337.70,259.05L338.08,258.99L338.46,258.89L338.84,258.94L339.23,258.84L339.61,258.77L339.99,258.85L340.38,258.88L340.76,258.77L341.14,258.72L341.53,258.79L341.91,259.04L342.29,259.13L342.67,259.13L343.06,259.08L343.44,258.92L343.82,258.81L344.21,258.72L344.59,258.64L344.97,258.86L345.36,259.14L345.74,259.05L346.12,259.05L346.50,259.11L346.89,259.22L347.27,259.03L347.65,259.07L348.04,259.16L348.42,259.14L348.80,258.99L349.19,258.93L349.57,258.88L349.95,258.84L350.33,258.79L350.72,258.68L351.10,258.87L351.48,258.89L351.87,258.88L352.25,259.06L352.63,259.12L353.02,258.94L353.40,258.99L353.78,258.82L354.16,258.50L354.55,258.47L354.93,258.46L355.31,258.22L355.70,258.38L356.08,258.62L356.46,258.64L356.85,258.82L357.23,259.13L357.61,259.08L357.99,259.04L358.38,258.99L358.76,258.82L359.14,258.77L359.53,258.81L359.91,258.80L360.29,258.89L360.68,259.02L361.06,258.92L361.44,258.93L361.82,258.88L362.21,258.73L362.59,258.56L362.97,258.70L363.36,258.77L363.74,258.84L364.12,258.92L364.51,258.94L364.89,258.93L365.27,258.90L365.65,258.86L366.04,258.77L366.42,258.74L366.80,258.75L367.19,258.74L367.57,258.85L367.95,258.89L368.34,258.99L368.72,258.94L369.10,258.98L369.48,258.89L369.87,258.89L370.25,259.01L370.63,259.02L371.02,258.96L371.40,259.00L371.78,259.07L372.17,259.11L372.55,259.15L372.93,259.38L373.31,259.40L373.70,259.36L374.08,259.49L374.46,259.53L374.85,259.30L375.23,259.36L375.61,259.67L376.00,259.42L376.38,259.55L376.76,259.55L377.14,259.65L377.53,259.60L377.91,259.76L378.29,259.69L378.68,259.83L379.06,259.79L379.44,259.81L379.83,259.76L380.21,259.77L380.59,259.87L380.97,259.98L381.36,260.05L381.74,260.26L382.12,260.34L382.51,260.41L382.89,260.50L383.27,260.48L383.66,260.58L384.04,260.69L384.42,260.74L384.80,260.94L385.19,261.15L385.57,261.06L385.95,261.28L386.34,261.34L386.72,261.43L387.10,261.46L387.49,261.81L387.87,261.87L388.25,262.11L388.63,262.15L389.02,262.20L389.40,262.14L389.78,262.12L390.17,262.20L390.55,262.14L390.93,262.29L391.32,262.49L391.70,262.82L392.08,262.92L392.46,263.17L392.85,263.41L393.23,263.52L393.61,263.49L394.00,263.71L394.38,263.84L394.76,263.94L395.15,264.11L395.53,264.35L395.91,264.50L396.29,264.68L396.68,264.72L397.06,264.67L397.44,264.81L397.83,264.99L398.21,265.15L398.59,265.47L398.98,265.82L399.36,265.83L399.74,265.89L400.12,265.85L400.51,265.73L400.89,265.56L401.27,265.35L401.66,264.93L402.04,264.42L402.42,264.09L402.81,263.68L403.19,263.27L403.57,262.76L403.95,262.32L404.34,261.80L404.72,261.19L405.10,260.57L405.49,260.05L405.87,259.57L406.25,259.08L406.64,258.92L407.02,258.51L407.40,257.99L407.78,257.50L408.17,257.02L408.55,256.35L408.93,255.69L409.32,255.17L409.70,254.66L410.08,254.12L410.47,253.54L410.85,253.11L411.23,252.65L411.61,252.29L412.00,251.78L412.38,251.48L412.76,251.18L413.15,250.75L413.53,250.33L413.91,249.94L414.30,249.30L414.68,248.86L415.06,248.43L415.44,247.99L415.83,247.67L416.21,247.40L416.59,247.01L416.98,246.87L417.36,246.57L417.74,246.12L418.13,245.60L418.51,245.24L418.89,244.68L419.27,244.14L419.66,243.71L420.04,243.51L420.42,242.93L420.81,242.45L421.19,242.37L421.57,241.96L421.96,241.53L422.34,241.25L422.72,241.03L423.10,240.41L423.49,240.01L423.87,239.59L424.25,239.19L424.64,238.78L425.02,238.45L425.40,238.22L425.79,238.16L426.17,237.81L426.55,237.58L426.93,237.35L427.32,237.15L427.70,236.75L428.08,236.92L428.47,236.71L428.85,236.67L429.23,236.61L429.62,236.68L430.00,236.51L430.38,236.33L430.76,236.13L431.15,235.92L431.53,235.65L431.91,235.49L432.30,235.52L432.68,235.52L433.06,235.48L433.45,235.63L433.83,235.55L434.21,235.44L434.59,235.32L434.98,235.36L435.36,235.33L435.74,235.66L436.13,235.98L436.51,236.39L436.89,237.01L437.28,238.02L437.66,239.00L438.04,240.26L438.42,241.75L438.81,243.31" fill="none" stroke="#5cb6dc" stroke-width="1.4" clip-path="url(#cd)" />
<path d="M265.69,243.73L266.07,242.25L266.46,240.67L266.84,239.38L267.22,238.07L267.61,236.99L267.99,236.42L268.37,236.27L268.76,235.77L269.14,235.47L269.52,235.16L269.90,234.88L270.29,234.56L270.67,234.61L271.05,234.81L271.44,235.20L271.82,235.45L272.20,235.71L272.59,235.74L272.97,235.88L273.35,235.77L273.73,235.80L274.12,235.96L274.50,236.19L274.88,236.02L275.27,236.22L275.65,236.45L276.03,236.67L276.42,236.64L276.80,237.11L277.18,237.27L277.56,237.33L277.95,237.75L278.33,238.09L278.71,238.37L279.10,238.89L279.48,239.40L279.86,239.45L280.25,239.87L280.63,240.13L281.01,240.41L281.39,240.55L281.78,240.79L282.16,240.99L282.54,241.28L282.93,241.38L283.31,241.66L283.69,242.09L284.08,242.54L284.46,242.94L284.84,243.44L285.22,243.92L285.61,244.51L285.99,245.00L286.37,245.39L286.76,246.01L287.14,246.61L287.52,246.70L287.91,247.16L288.29,247.65L288.67,247.82L289.05,248.14L289.44,248.78L289.82,249.15L290.20,249.57L290.59,250.09L290.97,250.46L291.35,250.67L291.74,251.03L292.12,251.28L292.50,251.61L292.88,252.00L293.27,252.56L293.65,253.08L294.03,253.65L294.42,254.16L294.80,254.82L295.18,255.28L295.57,255.68L295.95,256.17L296.33,256.74L296.71,257.37L297.10,257.81L297.48,258.39L297.86,259.16L298.25,259.60L298.63,259.96L299.01,260.58L299.40,261.11L299.78,261.31L300.16,261.83L300.54,262.25L300.93,262.85L301.31,263.29L301.69,264.07L302.08,264.51L302.46,264.92L302.84,265.35L303.23,265.70L303.61,265.71L303.99,265.80L304.37,265.74L304.76,265.70L305.14,265.57L305.52,265.35L305.91,265.20L306.29,265.04L306.67,264.86L307.06,264.74L307.44,264.47L307.82,264.39L308.20,264.40L308.59,264.26L308.97,264.13L309.35,264.28L309.74,264.18L310.12,264.20L310.50,264.18L310.89,264.19L311.27,264.10L311.65,263.97L312.03,263.60L312.42,263.38L312.80,263.25L313.18,262.97L313.57,262.77L313.95,262.81L314.33,262.62L314.72,262.47L315.10,262.42L315.48,262.39L315.86,262.09L316.25,262.08L316.63,261.92L317.01,261.75L317.40,261.49L317.78,261.37L318.16,261.29L318.55,261.06L318.93,260.96L319.31,260.85L319.69,260.78L320.08,260.64L320.46,260.66L320.84,260.63L321.23,260.62L321.61,260.48L321.99,260.34L322.38,260.32L322.76,259.98L323.14,260.03L323.52,260.11L323.91,260.04L324.29,260.02L324.67,260.11L325.06,259.85L325.44,259.79L325.82,259.71L326.21,259.55L326.59,259.72L326.97,259.74L327.35,259.79L327.74,259.83L328.12,259.72L328.50,259.43L328.89,259.48L329.27,259.22L329.65,258.92L330.04,258.91L330.42,258.96L330.80,258.83L331.18,258.94L331.57,259.16L331.95,259.09L332.33,259.00L332.72,259.05L333.10,259.04L333.48,259.00L333.87,259.12L334.25,259.26L334.63,259.34L335.01,259.21L335.40,259.18L335.78,259.10L336.16,258.83L336.55,258.73L336.93,258.75L337.31,258.83L337.70,258.89L338.08,258.98L338.46,258.95L338.84,259.13L339.23,259.14L339.61,259.04L339.99,259.18L340.38,259.09L340.76,258.93L341.14,258.81L341.53,258.84L341.91,258.68L342.29,258.73L342.67,258.84L343.06,258.77L343.44,258.79L343.82,258.88L344.21,258.82L344.59,258.70L344.97,258.63L345.36,258.61L345.74,258.63L346.12,258.71L346.50,258.70L346.89,258.86L347.27,258.88L347.65,258.91L348.04,258.94L348.42,258.99L348.80,258.70L349.19,258.70L349.57,258.59L349.95,258.51L350.33,258.51L350.72,258.73L351.10,258.51L351.48,258.56L351.87,258.42L352.25,258.35L352.63,258.43L353.02,258.66L353.40,258.68L353.78,258.93L354.16,258.88L354.55,258.77L354.93,258.66L355.31,258.72L355.70,258.58L356.08,258.73L356.46,258.55L356.85,258.61L357.23,258.50L357.61,258.51L357.99,258.50L358.38,258.76L358.76,258.79L359.14,258.75L359.53,258.85L359.91,258.83L360.29,258.77L360.68,258.78L361.06,258.98L361.44,259.03L361.82,259.06L362.21,259.18L362.59,259.07L362.97,258.95L363.36,258.85L363.74,258.91L364.12,258.78L364.51,258.91L364.89,259.01L365.27,259.07L365.65,258.77L366.04,258.88L366.42,258.94L366.80,258.76L367.19,258.64L367.57,258.89L367.95,258.72L368.34,258.79L368.72,258.94L369.10,259.17L369.48,259.03L369.87,259.16L370.25,258.81L370.63,258.73L371.02,258.55L371.40,258.79L371.78,258.91L372.17,259.21L372.55,259.19L372.93,259.35L373.31,259.49L373.70,259.34L374.08,259.25L374.46,259.45L374.85,259.36L375.23,259.09L375.61,259.10L376.00,259.37L376.38,259.34L376.76,259.50L377.14,259.57L377.53,259.73L377.91,259.75L378.29,259.81L378.68,259.76L379.06,260.05L379.44,260.25L379.83,260.27L380.21,260.38L380.59,260.56L380.97,260.67L381.36,260.76L381.74,260.79L382.12,260.80L382.51,260.91L382.89,260.82L383.27,260.59L383.66,260.69L384.04,260.85L384.42,260.93L384.80,260.99L385.19,261.22L385.57,261.27L385.95,261.35L386.34,261.34L386.72,261.44L387.10,261.56L387.49,261.57L387.87,261.77L388.25,261.84L388.63,261.98L389.02,261.99L389.40,262.03L389.78,262.01L390.17,262.22L390.55,262.35L390.93,262.45L391.32,262.63L391.70,262.77L392.08,262.85L392.46,262.83L392.85,263.06L393.23,263.48L393.61,263.71L394.00,263.94L394.38,264.19L394.76,264.41L395.15,264.28L395.53,264.38L395.91,264.33L396.29,264.57L396.68,264.53L397.06,264.78L397.44,264.73L397.83,264.82L398.21,264.72L398.59,264.86L398.98,265.04L399.36,265.32L399.74,265.86L400.12,265.93L400.51,265.94L400.89,265.79L401.27,265.73L401.66,264.95L402.04,264.79L402.42,264.37L402.81,264.09L403.19,263.48L403.57,263.05L403.95,262.35L404.34,262.02L404.72,261.40L405.10,260.73L405.49,260.48L405.87,259.96L406.25,259.46L406.64,258.85L407.02,258.44L407.40,257.66L407.78,257.27L408.17,256.67L408.55,256.28L408.93,255.86L409.32,255.49L409.70,255.07L410.08,254.61L410.47,254.05L410.85,253.53L411.23,252.95L411.61,252.33L412.00,251.75L412.38,251.47L412.76,250.96L413.15,250.48L413.53,250.03L413.91,249.56L414.30,248.89L414.68,248.64L415.06,248.30L415.44,247.92L415.83,247.64L416.21,247.50L416.59,246.95L416.98,246.62L417.36,246.10L417.74,245.58L418.13,245.11L418.51,244.84L418.89,244.53L419.27,244.34L419.66,244.16L420.04,243.58L420.42,243.22L420.81,242.79L421.19,242.41L421.57,241.96L421.96,241.87L422.34,241.44L422.72,241.09L423.10,240.74L423.49,240.52L423.87,240.15L424.25,239.79L424.64,239.31L425.02,239.12L425.40,238.68L425.79,238.19L426.17,238.03L426.55,237.77L426.93,237.24L427.32,237.03L427.70,236.83L428.08,236.33L428.47,236.26L428.85,236.18L429.23,236.13L429.62,236.13L430.00,236.12L430.38,235.97L430.76,235.71L431.15,235.50L431.53,235.43L431.91,235.25L432.30,235.06L432.68,235.10L433.06,235.04L433.45,234.96L433.83,235.09L434.21,235.07L434.59,235.14L434.98,235.29L435.36,235.40L435.74,235.65L436.13,236.19L436.51,236.65L436.89,237.20L437.28,238.24L437.66,239.45L438.04,240.84L438.42,242.25L438.81,243.78" fill="none" stroke="#2f58b4" stroke-width="1.1" stroke-dasharray="1.6 0.5" clip-path="url(#cd)" />
<line x1="38.8" y1="14.6" x2="51.9" y2="14.6" stroke="#000" stroke-width="1.1" stroke-dasharray="1.2 0.9"/>
<line x1="38.8" y1="25.0" x2="51.9" y2="25.0" stroke="#55b53a" stroke-width="1.3" stroke-dasharray="3.5 0.7 1.5 0.7"/>
<line x1="38.6" y1="36.2" x2="51.9" y2="36.2" stroke="#ee2222" stroke-width="1.3" stroke-dasharray="3.5 3.6"/>
<line x1="37.9" y1="45.9" x2="52.0" y2="45.9" stroke="#7fcde2" stroke-width="1.8"/>
<text transform="translate(55.00,17.00) scale(1.1,1)" font-family="Liberation Sans, sans-serif" font-size="7.4" text-anchor="middle" font-weight="bold" >e</text>
<text transform="translate(56.00,27.40) scale(1.15,1)" font-family="Liberation Sans, sans-serif" font-size="7.2" text-anchor="middle" font-weight="bold" >O</text>
<text transform="translate(60.60,22.90) scale(1.0,1)" font-family="Liberation Sans, sans-serif" font-size="4.8" text-anchor="middle" font-weight="bold" >+</text>
<text transform="translate(60.60,30.00) scale(1.0,1)" font-family="Liberation Sans, sans-serif" font-size="5.4" text-anchor="middle" font-weight="bold" >2</text>
<text transform="translate(56.00,38.90) scale(1.15,1)" font-family="Liberation Sans, sans-serif" font-size="7.2" text-anchor="middle" font-weight="bold" >O</text>
<text transform="translate(60.20,35.60) scale(1.0,1)" font-family="Liberation Sans, sans-serif" font-size="4.8" text-anchor="middle" font-weight="bold" >-</text>
<text transform="translate(56.00,48.90) scale(1.15,1)" font-family="Liberation Sans, sans-serif" font-size="7.2" text-anchor="middle" font-weight="bold" >O</text>
<text transform="translate(60.60,45.60) scale(1.0,1)" font-family="Liberation Sans, sans-serif" font-size="4.8" text-anchor="middle" font-weight="bold" >+</text>
<line x1="264.9" y1="14.6" x2="278.0" y2="14.6" stroke="#000" stroke-width="1.1" stroke-dasharray="1.2 0.9"/>
<line x1="264.9" y1="25.0" x2="278.0" y2="25.0" stroke="#55b53a" stroke-width="1.3" stroke-dasharray="3.5 0.7 1.5 0.7"/>
<line x1="264.7" y1="36.2" x2="278.0" y2="36.2" stroke="#ee2222" stroke-width="1.3" stroke-dasharray="3.5 3.6"/>
<line x1="264.0" y1="45.9" x2="278.1" y2="45.9" stroke="#7fcde2" stroke-width="1.8"/>
<text transform="translate(281.70,17.00) scale(1.1,1)" font-family="Liberation Sans, sans-serif" font-size="7.4" text-anchor="middle" font-weight="bold" >e</text>
<text transform="translate(282.70,27.40) scale(1.15,1)" font-family="Liberation Sans, sans-serif" font-size="7.2" text-anchor="middle" font-weight="bold" >O</text>
<text transform="translate(287.30,22.90) scale(1.0,1)" font-family="Liberation Sans, sans-serif" font-size="4.8" text-anchor="middle" font-weight="bold" >+</text>
<text transform="translate(287.30,30.00) scale(1.0,1)" font-family="Liberation Sans, sans-serif" font-size="5.4" text-anchor="middle" font-weight="bold" >2</text>
<text transform="translate(282.70,38.90) scale(1.15,1)" font-family="Liberation Sans, sans-serif" font-size="7.2" text-anchor="middle" font-weight="bold" >O</text>
<text transform="translate(286.90,35.60) scale(1.0,1)" font-family="Liberation Sans, sans-serif" font-size="4.8" text-anchor="middle" font-weight="bold" >-</text>
<text transform="translate(282.70,48.90) scale(1.15,1)" font-family="Liberation Sans, sans-serif" font-size="7.2" text-anchor="middle" font-weight="bold" >O</text>
<text transform="translate(287.30,45.60) scale(1.0,1)" font-family="Liberation Sans, sans-serif" font-size="4.8" text-anchor="middle" font-weight="bold" >+</text>
<text x="205.60" y="21.28" font-family="Liberation Sans, sans-serif" font-size="9.3" textLength="10.80" lengthAdjust="spacingAndGlyphs" stroke="#000" stroke-width="0.12">(a)</text>
<text x="431.40" y="20.78" font-family="Liberation Sans, sans-serif" font-size="9.3" textLength="10.30" lengthAdjust="spacingAndGlyphs" stroke="#000" stroke-width="0.12">(c)</text>
<text x="202.60" y="192.08" font-family="Liberation Sans, sans-serif" font-size="9.3" textLength="11.60" lengthAdjust="spacingAndGlyphs" stroke="#000" stroke-width="0.12">(b)</text>
<text x="429.50" y="192.08" font-family="Liberation Sans, sans-serif" font-size="9.3" textLength="10.90" lengthAdjust="spacingAndGlyphs" stroke="#000" stroke-width="0.12">(d)</text>
<text x="81.45" y="189.90" font-family="Liberation Sans, sans-serif" font-size="6.5" text-anchor="middle" font-weight="normal" stroke="#000" stroke-width="0.28">O</text>
<text x="85.25" y="192.60" font-family="Liberation Sans, sans-serif" font-size="5.3" text-anchor="middle" font-weight="normal" stroke="#000" stroke-width="0.28">2</text>
<text x="88.75" y="189.90" font-family="Liberation Sans, sans-serif" font-size="6.5" text-anchor="middle" font-weight="normal" stroke="#000" stroke-width="0.28">(</text>
<text x="92.20" y="189.90" font-family="Liberation Sans, sans-serif" font-size="6.5" text-anchor="middle" font-weight="normal" stroke="#000" stroke-width="0.28">X</text>
<text x="97.85" y="186.70" font-family="Liberation Sans, sans-serif" font-size="5.3" text-anchor="middle" font-weight="normal" stroke="#000" stroke-width="0.28">3</text>
<text x="102.50" y="189.90" font-family="Liberation Sans, sans-serif" font-size="6.5" text-anchor="middle" font-weight="normal" stroke="#000" stroke-width="0.28">&#931;</text>
<text x="106.20" y="185.50" font-family="Liberation Sans, sans-serif" font-size="5.3" text-anchor="middle" font-weight="normal" stroke="#000" stroke-width="0.28">-</text>
<text x="107.10" y="192.80" font-family="Liberation Sans, sans-serif" font-size="6.0" text-anchor="middle" font-weight="normal" stroke="#000" stroke-width="0.28">g</text>
<text x="110.15" y="189.90" font-family="Liberation Sans, sans-serif" font-size="6.5" text-anchor="middle" font-weight="normal" stroke="#000" stroke-width="0.28">)</text>
<text x="81.30" y="202.20" font-family="Liberation Sans, sans-serif" font-size="6.5" text-anchor="middle" font-weight="normal" stroke="#000" stroke-width="0.28">O</text>
<text x="85.65" y="202.20" font-family="Liberation Sans, sans-serif" font-size="6.5" text-anchor="middle" font-weight="normal" stroke="#000" stroke-width="0.28">(</text>
<text x="88.35" y="198.90" font-family="Liberation Sans, sans-serif" font-size="5.3" text-anchor="middle" font-weight="normal" stroke="#000" stroke-width="0.28">3</text>
<text x="92.40" y="202.20" font-family="Liberation Sans, sans-serif" font-size="6.5" text-anchor="middle" font-weight="normal" stroke="#000" stroke-width="0.28">P</text>
<text x="95.85" y="202.20" font-family="Liberation Sans, sans-serif" font-size="6.5" text-anchor="middle" font-weight="normal" stroke="#000" stroke-width="0.28">)</text>
<text x="81.30" y="211.90" font-family="Liberation Sans, sans-serif" font-size="6.5" text-anchor="middle" font-weight="normal" stroke="#000" stroke-width="0.28">O</text>
<text x="85.65" y="211.90" font-family="Liberation Sans, sans-serif" font-size="6.5" text-anchor="middle" font-weight="normal" stroke="#000" stroke-width="0.28">(</text>
<text x="88.55" y="208.50" font-family="Liberation Sans, sans-serif" font-size="5.3" text-anchor="middle" font-weight="normal" stroke="#000" stroke-width="0.28">1</text>
<text x="93.00" y="211.90" font-family="Liberation Sans, sans-serif" font-size="6.5" text-anchor="middle" font-weight="normal" stroke="#000" stroke-width="0.28">D</text>
<text x="96.35" y="211.90" font-family="Liberation Sans, sans-serif" font-size="6.5" text-anchor="middle" font-weight="normal" stroke="#000" stroke-width="0.28">)</text>
<text x="81.45" y="222.20" font-family="Liberation Sans, sans-serif" font-size="6.5" text-anchor="middle" font-weight="normal" stroke="#000" stroke-width="0.28">O</text>
<text x="85.55" y="224.50" font-family="Liberation Sans, sans-serif" font-size="5.3" text-anchor="middle" font-weight="normal" stroke="#000" stroke-width="0.28">2</text>
<text x="88.20" y="222.20" font-family="Liberation Sans, sans-serif" font-size="6.5" text-anchor="middle" font-weight="normal" stroke="#000" stroke-width="0.28">(</text>
<text x="90.95" y="222.20" font-family="Liberation Sans, sans-serif" font-size="6.5" text-anchor="middle" font-weight="normal" stroke="#000" stroke-width="0.28">a</text>
<text x="95.60" y="219.40" font-family="Liberation Sans, sans-serif" font-size="5.3" text-anchor="middle" font-weight="normal" stroke="#000" stroke-width="0.28">1</text>
<text x="103.40" y="222.20" font-family="Liberation Sans, sans-serif" font-size="6.5" text-anchor="middle" font-weight="normal" stroke="#000" stroke-width="0.28">&#916;</text>
<text x="110.40" y="224.90" font-family="Liberation Sans, sans-serif" font-size="6.0" text-anchor="middle" font-weight="normal" stroke="#000" stroke-width="0.28">g</text>
<text x="113.75" y="222.20" font-family="Liberation Sans, sans-serif" font-size="6.5" text-anchor="middle" font-weight="normal" stroke="#000" stroke-width="0.28">)</text>
<text x="309.85" y="185.30" font-family="Liberation Sans, sans-serif" font-size="6.5" text-anchor="middle" font-weight="normal" stroke="#000" stroke-width="0.28">O</text>
<text x="313.90" y="188.80" font-family="Liberation Sans, sans-serif" font-size="5.3" text-anchor="middle" font-weight="normal" stroke="#000" stroke-width="0.28">2</text>
<text x="317.20" y="185.30" font-family="Liberation Sans, sans-serif" font-size="6.5" text-anchor="middle" font-weight="normal" stroke="#000" stroke-width="0.28">(</text>
<text x="320.70" y="185.30" font-family="Liberation Sans, sans-serif" font-size="6.5" text-anchor="middle" font-weight="normal" stroke="#000" stroke-width="0.28">X</text>
<text x="326.70" y="182.60" font-family="Liberation Sans, sans-serif" font-size="5.3" text-anchor="middle" font-weight="normal" stroke="#000" stroke-width="0.28">3</text>
<text x="331.00" y="185.30" font-family="Liberation Sans, sans-serif" font-size="6.5" text-anchor="middle" font-weight="normal" stroke="#000" stroke-width="0.28">&#931;</text>
<text x="334.95" y="181.40" font-family="Liberation Sans, sans-serif" font-size="5.3" text-anchor="middle" font-weight="normal" stroke="#000" stroke-width="0.28">-</text>
<text x="334.95" y="189.70" font-family="Liberation Sans, sans-serif" font-size="6.0" text-anchor="middle" font-weight="normal" stroke="#000" stroke-width="0.28">g</text>
<text x="338.90" y="185.30" font-family="Liberation Sans, sans-serif" font-size="6.5" text-anchor="middle" font-weight="normal" stroke="#000" stroke-width="0.28">)</text>
<text x="310.05" y="197.90" font-family="Liberation Sans, sans-serif" font-size="6.5" text-anchor="middle" font-weight="normal" stroke="#000" stroke-width="0.28">O</text>
<text x="313.95" y="197.90" font-family="Liberation Sans, sans-serif" font-size="6.5" text-anchor="middle" font-weight="normal" stroke="#000" stroke-width="0.28">(</text>
<text x="317.05" y="194.20" font-family="Liberation Sans, sans-serif" font-size="5.3" text-anchor="middle" font-weight="normal" stroke="#000" stroke-width="0.28">3</text>
<text x="320.60" y="197.90" font-family="Liberation Sans, sans-serif" font-size="6.5" text-anchor="middle" font-weight="normal" stroke="#000" stroke-width="0.28">P</text>
<text x="324.35" y="197.90" font-family="Liberation Sans, sans-serif" font-size="6.5" text-anchor="middle" font-weight="normal" stroke="#000" stroke-width="0.28">)</text>
<text x="310.05" y="207.90" font-family="Liberation Sans, sans-serif" font-size="6.5" text-anchor="middle" font-weight="normal" stroke="#000" stroke-width="0.28">O</text>
<text x="313.95" y="207.90" font-family="Liberation Sans, sans-serif" font-size="6.5" text-anchor="middle" font-weight="normal" stroke="#000" stroke-width="0.28">(</text>
<text x="316.60" y="204.40" font-family="Liberation Sans, sans-serif" font-size="5.3" text-anchor="middle" font-weight="normal" stroke="#000" stroke-width="0.28">1</text>
<text x="321.00" y="207.90" font-family="Liberation Sans, sans-serif" font-size="6.5" text-anchor="middle" font-weight="normal" stroke="#000" stroke-width="0.28">D</text>
<text x="324.80" y="207.90" font-family="Liberation Sans, sans-serif" font-size="6.5" text-anchor="middle" font-weight="normal" stroke="#000" stroke-width="0.28">)</text>
<text x="310.05" y="218.20" font-family="Liberation Sans, sans-serif" font-size="6.5" text-anchor="middle" font-weight="normal" stroke="#000" stroke-width="0.28">O</text>
<text x="314.20" y="221.00" font-family="Liberation Sans, sans-serif" font-size="5.3" text-anchor="middle" font-weight="normal" stroke="#000" stroke-width="0.28">2</text>
<text x="316.80" y="218.20" font-family="Liberation Sans, sans-serif" font-size="6.5" text-anchor="middle" font-weight="normal" stroke="#000" stroke-width="0.28">(</text>
<text x="319.75" y="218.20" font-family="Liberation Sans, sans-serif" font-size="6.5" text-anchor="middle" font-weight="normal" stroke="#000" stroke-width="0.28">a</text>
<text x="323.95" y="214.50" font-family="Liberation Sans, sans-serif" font-size="5.3" text-anchor="middle" font-weight="normal" stroke="#000" stroke-width="0.28">1</text>
<text x="331.65" y="218.20" font-family="Liberation Sans, sans-serif" font-size="6.5" text-anchor="middle" font-weight="normal" stroke="#000" stroke-width="0.28">&#916;</text>
<text x="338.40" y="221.30" font-family="Liberation Sans, sans-serif" font-size="6.0" text-anchor="middle" font-weight="normal" stroke="#000" stroke-width="0.28">g</text>
<text x="341.65" y="218.20" font-family="Liberation Sans, sans-serif" font-size="6.5" text-anchor="middle" font-weight="normal" stroke="#000" stroke-width="0.28">)</text>
<text x="310.05" y="229.80" font-family="Liberation Sans, sans-serif" font-size="6.5" text-anchor="middle" font-weight="normal" stroke="#000" stroke-width="0.28">O</text>
<text x="314.20" y="233.60" font-family="Liberation Sans, sans-serif" font-size="5.3" text-anchor="middle" font-weight="normal" stroke="#000" stroke-width="0.28">2</text>
<text x="316.80" y="229.80" font-family="Liberation Sans, sans-serif" font-size="6.5" text-anchor="middle" font-weight="normal" stroke="#000" stroke-width="0.28">(</text>
<text x="319.85" y="229.80" font-family="Liberation Sans, sans-serif" font-size="6.5" text-anchor="middle" font-weight="normal" stroke="#000" stroke-width="0.28">b</text>
<text x="324.25" y="228.00" font-family="Liberation Sans, sans-serif" font-size="5.3" text-anchor="middle" font-weight="normal" stroke="#000" stroke-width="0.28">1</text>
<text x="332.15" y="229.80" font-family="Liberation Sans, sans-serif" font-size="6.5" text-anchor="middle" font-weight="normal" stroke="#000" stroke-width="0.28">&#931;</text>
<text x="338.65" y="227.30" font-family="Liberation Sans, sans-serif" font-size="5.3" text-anchor="middle" font-weight="normal" stroke="#000" stroke-width="0.28">+</text>
<text x="338.40" y="233.90" font-family="Liberation Sans, sans-serif" font-size="6.0" text-anchor="middle" font-weight="normal" stroke="#000" stroke-width="0.28">g</text>
<text x="343.05" y="229.80" font-family="Liberation Sans, sans-serif" font-size="6.5" text-anchor="middle" font-weight="normal" stroke="#000" stroke-width="0.28">)</text>
<line x1="64.4" y1="187.6" x2="75.2" y2="187.6" stroke="#55b53a" stroke-width="1.2" stroke-dasharray="3.6 3.6"/>
<line x1="64.0" y1="198.9" x2="77.8" y2="198.9" stroke="#3a3a3a" stroke-width="1.2"/>
<line x1="64.4" y1="208.4" x2="75.2" y2="208.4" stroke="#ee2222" stroke-width="1.2" stroke-dasharray="3.6 3.6"/>
<line x1="64.4" y1="219.9" x2="77.8" y2="219.9" stroke="#62c4de" stroke-width="1.3" stroke-dasharray="2.2 0.6"/>
<line x1="293.2" y1="183.5" x2="303.6" y2="183.5" stroke="#55b53a" stroke-width="1.2" stroke-dasharray="3.4 3.4"/>
<line x1="292.6" y1="194.4" x2="306.4" y2="194.4" stroke="#000" stroke-width="1.2"/>
<line x1="293.2" y1="204.2" x2="303.6" y2="204.2" stroke="#ee2222" stroke-width="1.2" stroke-dasharray="3.4 3.4"/>
<line x1="292.9" y1="215.3" x2="306.2" y2="215.3" stroke="#45bcd9" stroke-width="1.2" stroke-dasharray="4.2 0.7 1 0.7"/>
<line x1="292.9" y1="228.0" x2="306.2" y2="228.0" stroke="#5c5cbc" stroke-width="1.2" stroke-dasharray="1.6 0.6"/>
<text x="116.50" y="165.86" font-family="Liberation Sans, sans-serif" font-size="7.9" textLength="20.70" lengthAdjust="spacingAndGlyphs" stroke="#000" stroke-width="0.28">x [cm]</text>
<text x="343.00" y="165.86" font-family="Liberation Sans, sans-serif" font-size="7.9" textLength="20.00" lengthAdjust="spacingAndGlyphs" stroke="#000" stroke-width="0.28">x [cm]</text>
<text x="113.80" y="337.06" font-family="Liberation Sans, sans-serif" font-size="7.9" textLength="21.10" lengthAdjust="spacingAndGlyphs" stroke="#000" stroke-width="0.28">x [cm]</text>
<text x="340.00" y="337.06" font-family="Liberation Sans, sans-serif" font-size="7.9" textLength="21.10" lengthAdjust="spacingAndGlyphs" stroke="#000" stroke-width="0.28">x [cm]</text>
<text transform="translate(11.90,89.50) rotate(-90)" font-family="Liberation Sans, sans-serif" font-size="8.2" stroke="#000" stroke-width="0.3"><tspan x="0">n</tspan><tspan x="6.2">[</tspan><tspan x="8.5">m</tspan><tspan x="15.5" font-size="5.3" dy="-5.0">-3</tspan><tspan x="21.9" dy="5.0">]</tspan></text>
<text transform="translate(237.10,88.90) rotate(-90)" font-family="Liberation Sans, sans-serif" font-size="8.2" stroke="#000" stroke-width="0.3"><tspan x="0">n</tspan><tspan x="6.2">[</tspan><tspan x="8.5">m</tspan><tspan x="15.5" font-size="5.3" dy="-5.0">-3</tspan><tspan x="21.9" dy="5.0">]</tspan></text>
<text transform="translate(8.00,259.00) rotate(-90)" font-family="Liberation Sans, sans-serif" font-size="8.2" stroke="#000" stroke-width="0.3"><tspan x="0">n</tspan><tspan x="6.2">[</tspan><tspan x="8.5">m</tspan><tspan x="15.5" font-size="5.3" dy="-5.0">-3</tspan><tspan x="21.9" dy="5.0">]</tspan></text>
<text transform="translate(235.30,260.30) rotate(-90)" font-family="Liberation Sans, sans-serif" font-size="8.2" stroke="#000" stroke-width="0.3"><tspan x="0">n</tspan><tspan x="6.2">[</tspan><tspan x="8.5">m</tspan><tspan x="15.5" font-size="5.3" dy="-5.0">-3</tspan><tspan x="21.9" dy="5.0">]</tspan></text>
</svg>
</body></html>
